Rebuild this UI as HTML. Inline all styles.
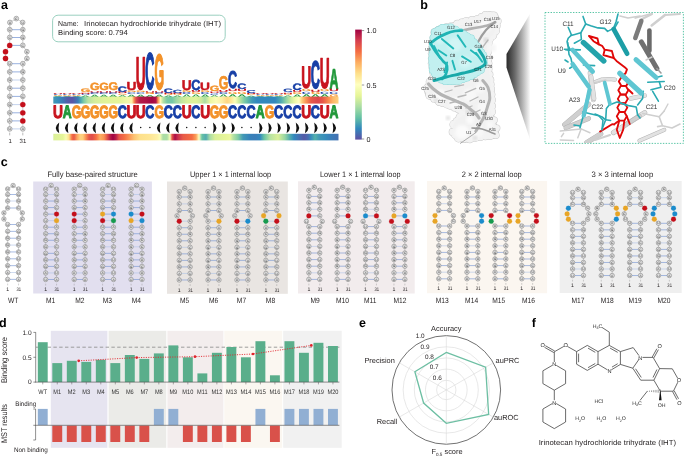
<!DOCTYPE html>
<html><head><meta charset="utf-8"><style>
html,body{margin:0;padding:0;background:#fff;width:685px;height:457px;overflow:hidden}
svg{display:block;will-change:transform}
text{font-family:"Liberation Sans", sans-serif;text-rendering:geometricPrecision}
</style></head><body>
<svg width="685" height="457" viewBox="0 0 685 457">
<text x="0.90" y="9.00" font-size="12.5" text-anchor="start" font-weight="bold" fill="#000" >a</text>
<text x="420.20" y="8.80" font-size="12.5" text-anchor="start" font-weight="bold" fill="#000" >b</text>
<text x="0.80" y="166.00" font-size="12.5" text-anchor="start" font-weight="bold" fill="#000" >c</text>
<text x="-0.90" y="326.50" font-size="12.5" text-anchor="start" font-weight="bold" fill="#000" >d</text>
<text x="359.00" y="326.80" font-size="12.5" text-anchor="start" font-weight="bold" fill="#000" >e</text>
<text x="531.80" y="326.60" font-size="12.5" text-anchor="start" font-weight="bold" fill="#000" >f</text>
<polyline points="9.70,128.90 9.70,120.90 9.70,112.80 9.70,104.60 9.70,96.40 9.70,88.20 9.70,80.00 9.70,71.90 9.70,63.70 5.50,58.50 5.50,51.70 9.70,45.40 9.70,37.50 9.70,29.70 9.90,22.50 16.30,18.60 22.60,22.50 22.80,29.70 22.80,37.50 22.80,45.40 26.90,51.70 26.90,58.50 22.80,63.70 22.80,71.90 22.80,80.00 22.80,88.20 22.80,96.40 22.80,104.60 22.80,112.80 22.80,120.90 22.80,128.90" fill="none" stroke="#9a9a9a" stroke-width="0.45"/>
<line x1="11.86" y1="128.90" x2="20.64" y2="128.90" stroke="#aec2e8" stroke-width="0.7" />
<line x1="11.86" y1="120.90" x2="20.64" y2="120.90" stroke="#6f90d2" stroke-width="0.7" />
<line x1="11.86" y1="112.80" x2="20.64" y2="112.80" stroke="#6f90d2" stroke-width="0.7" />
<line x1="11.86" y1="104.60" x2="20.64" y2="104.60" stroke="#aec2e8" stroke-width="0.7" />
<line x1="11.86" y1="96.40" x2="20.64" y2="96.40" stroke="#6f90d2" stroke-width="0.7" />
<line x1="11.86" y1="88.20" x2="20.64" y2="88.20" stroke="#6f90d2" stroke-width="0.7" />
<line x1="11.86" y1="80.00" x2="20.64" y2="80.00" stroke="#aec2e8" stroke-width="0.7" />
<line x1="11.86" y1="71.90" x2="20.64" y2="71.90" stroke="#6f90d2" stroke-width="0.7" />
<line x1="11.86" y1="63.70" x2="20.64" y2="63.70" stroke="#6f90d2" stroke-width="0.7" />
<line x1="11.86" y1="45.40" x2="20.64" y2="45.40" stroke="#6f90d2" stroke-width="0.7" />
<line x1="11.86" y1="37.50" x2="20.64" y2="37.50" stroke="#6f90d2" stroke-width="0.7" />
<line x1="11.86" y1="29.70" x2="20.64" y2="29.70" stroke="#6f90d2" stroke-width="0.7" />
<circle cx="9.70" cy="128.90" r="2.4" fill="#dedede" stroke="#767676" stroke-width="0.5"/>
<text x="9.70" y="130.09" font-size="3.3" text-anchor="middle" fill="#474747">U</text>
<circle cx="9.70" cy="120.90" r="2.4" fill="#dedede" stroke="#767676" stroke-width="0.5"/>
<text x="9.70" y="122.09" font-size="3.3" text-anchor="middle" fill="#474747">A</text>
<circle cx="9.70" cy="112.80" r="2.4" fill="#dedede" stroke="#767676" stroke-width="0.5"/>
<text x="9.70" y="113.99" font-size="3.3" text-anchor="middle" fill="#474747">G</text>
<circle cx="9.70" cy="104.60" r="2.4" fill="#dedede" stroke="#767676" stroke-width="0.5"/>
<text x="9.70" y="105.79" font-size="3.3" text-anchor="middle" fill="#474747">G</text>
<circle cx="9.70" cy="96.40" r="2.4" fill="#dedede" stroke="#767676" stroke-width="0.5"/>
<text x="9.70" y="97.59" font-size="3.3" text-anchor="middle" fill="#474747">G</text>
<circle cx="9.70" cy="88.20" r="2.4" fill="#dedede" stroke="#767676" stroke-width="0.5"/>
<text x="9.70" y="89.39" font-size="3.3" text-anchor="middle" fill="#474747">G</text>
<circle cx="9.70" cy="80.00" r="2.4" fill="#dedede" stroke="#767676" stroke-width="0.5"/>
<text x="9.70" y="81.19" font-size="3.3" text-anchor="middle" fill="#474747">G</text>
<circle cx="9.70" cy="71.90" r="2.4" fill="#dedede" stroke="#767676" stroke-width="0.5"/>
<text x="9.70" y="73.09" font-size="3.3" text-anchor="middle" fill="#474747">C</text>
<circle cx="9.70" cy="63.70" r="2.4" fill="#dedede" stroke="#767676" stroke-width="0.5"/>
<text x="9.70" y="64.89" font-size="3.3" text-anchor="middle" fill="#474747">U</text>
<circle cx="5.50" cy="58.50" r="2.65" fill="#c40f1b" stroke="#c40f1b" stroke-width="0.2"/>
<circle cx="5.50" cy="51.70" r="2.65" fill="#c40f1b" stroke="#c40f1b" stroke-width="0.2"/>
<circle cx="9.70" cy="45.40" r="2.65" fill="#c40f1b" stroke="#c40f1b" stroke-width="0.2"/>
<circle cx="9.70" cy="37.50" r="2.4" fill="#dedede" stroke="#767676" stroke-width="0.5"/>
<text x="9.70" y="38.69" font-size="3.3" text-anchor="middle" fill="#474747">C</text>
<circle cx="9.70" cy="29.70" r="2.4" fill="#dedede" stroke="#767676" stroke-width="0.5"/>
<text x="9.70" y="30.89" font-size="3.3" text-anchor="middle" fill="#474747">C</text>
<circle cx="9.90" cy="22.50" r="2.4" fill="#dedede" stroke="#767676" stroke-width="0.5"/>
<text x="9.90" y="23.69" font-size="3.3" text-anchor="middle" fill="#474747">U</text>
<circle cx="16.30" cy="18.60" r="2.4" fill="#dedede" stroke="#767676" stroke-width="0.5"/>
<text x="16.30" y="19.79" font-size="3.3" text-anchor="middle" fill="#474747">C</text>
<circle cx="22.60" cy="22.50" r="2.4" fill="#dedede" stroke="#767676" stroke-width="0.5"/>
<text x="22.60" y="23.69" font-size="3.3" text-anchor="middle" fill="#474747">U</text>
<circle cx="22.80" cy="29.70" r="2.4" fill="#dedede" stroke="#767676" stroke-width="0.5"/>
<text x="22.80" y="30.89" font-size="3.3" text-anchor="middle" fill="#474747">G</text>
<circle cx="22.80" cy="37.50" r="2.4" fill="#dedede" stroke="#767676" stroke-width="0.5"/>
<text x="22.80" y="38.69" font-size="3.3" text-anchor="middle" fill="#474747">G</text>
<circle cx="22.80" cy="45.40" r="2.4" fill="#dedede" stroke="#767676" stroke-width="0.5"/>
<text x="22.80" y="46.59" font-size="3.3" text-anchor="middle" fill="#474747">C</text>
<circle cx="26.90" cy="51.70" r="2.4" fill="#dedede" stroke="#767676" stroke-width="0.5"/>
<text x="26.90" y="52.89" font-size="3.3" text-anchor="middle" fill="#474747">C</text>
<circle cx="26.90" cy="58.50" r="2.4" fill="#dedede" stroke="#767676" stroke-width="0.5"/>
<text x="26.90" y="59.69" font-size="3.3" text-anchor="middle" fill="#474747">C</text>
<circle cx="22.80" cy="63.70" r="2.4" fill="#dedede" stroke="#767676" stroke-width="0.5"/>
<text x="22.80" y="64.89" font-size="3.3" text-anchor="middle" fill="#474747">A</text>
<circle cx="22.80" cy="71.90" r="2.4" fill="#dedede" stroke="#767676" stroke-width="0.5"/>
<text x="22.80" y="73.09" font-size="3.3" text-anchor="middle" fill="#474747">G</text>
<circle cx="22.80" cy="80.00" r="2.4" fill="#dedede" stroke="#767676" stroke-width="0.5"/>
<text x="22.80" y="81.19" font-size="3.3" text-anchor="middle" fill="#474747">C</text>
<circle cx="22.80" cy="88.20" r="2.4" fill="#dedede" stroke="#767676" stroke-width="0.5"/>
<text x="22.80" y="89.39" font-size="3.3" text-anchor="middle" fill="#474747">C</text>
<circle cx="22.80" cy="96.40" r="2.4" fill="#dedede" stroke="#767676" stroke-width="0.5"/>
<text x="22.80" y="97.59" font-size="3.3" text-anchor="middle" fill="#474747">C</text>
<circle cx="22.80" cy="104.60" r="2.65" fill="#c40f1b" stroke="#c40f1b" stroke-width="0.2"/>
<circle cx="22.80" cy="112.80" r="2.65" fill="#c40f1b" stroke="#c40f1b" stroke-width="0.2"/>
<circle cx="22.80" cy="120.90" r="2.65" fill="#c40f1b" stroke="#c40f1b" stroke-width="0.2"/>
<circle cx="22.80" cy="128.90" r="2.4" fill="#dedede" stroke="#767676" stroke-width="0.5"/>
<text x="22.80" y="130.09" font-size="3.3" text-anchor="middle" fill="#474747">A</text>
<line x1="9.70" y1="132.60" x2="9.70" y2="135.40" stroke="#777" stroke-width="0.5" />
<line x1="22.80" y1="132.60" x2="22.80" y2="135.40" stroke="#777" stroke-width="0.5" />
<text x="10.10" y="143.20" font-size="6" text-anchor="middle" font-weight="normal" fill="#231f20" >1</text>
<text x="22.90" y="143.20" font-size="6" text-anchor="middle" font-weight="normal" fill="#231f20" >31</text>
<rect x="52.6" y="15.2" width="172.6" height="26.6" rx="5.5" ry="5.5" fill="#fff" stroke="#8fcbb8" stroke-width="0.9"/>
<text x="58.10" y="25.90" font-size="7.3" text-anchor="start" font-weight="normal" fill="#231f20" textLength="20.4" lengthAdjust="spacingAndGlyphs">Name:</text>
<text x="84.00" y="25.90" font-size="7.3" text-anchor="start" font-weight="normal" fill="#231f20" textLength="137.0" lengthAdjust="spacingAndGlyphs">Irinotecan hydrochloride trihydrate (IHT)</text>
<text x="58.10" y="35.20" font-size="7.3" text-anchor="start" font-weight="normal" fill="#231f20" textLength="69.6" lengthAdjust="spacingAndGlyphs">Binding score: 0.794</text>
<text transform="translate(80.85,92.45) scale(0.1230,0.0508)" font-size="100" font-weight="bold" fill="#f3922a" stroke="#f3922a" stroke-width="4.07" stroke-linejoin="round">G</text>
<text transform="translate(90.05,90.48) scale(0.1230,0.1042)" font-size="100" font-weight="bold" fill="#f3922a" stroke="#f3922a" stroke-width="4.07" stroke-linejoin="round">G</text>
<text transform="translate(99.25,90.48) scale(0.1230,0.1042)" font-size="100" font-weight="bold" fill="#f3922a" stroke="#f3922a" stroke-width="4.07" stroke-linejoin="round">G</text>
<text transform="translate(108.45,90.46) scale(0.1230,0.1109)" font-size="100" font-weight="bold" fill="#f3922a" stroke="#f3922a" stroke-width="4.07" stroke-linejoin="round">G</text>
<text transform="translate(117.63,91.67) scale(0.1269,0.0790)" font-size="100" font-weight="bold" fill="#173fa6" stroke="#173fa6" stroke-width="3.94" stroke-linejoin="round">C</text>
<text transform="translate(126.52,90.27) scale(0.1381,0.1172)" font-size="100" font-weight="bold" fill="#c8141e" stroke="#c8141e" stroke-width="3.62" stroke-linejoin="round">U</text>
<text transform="translate(135.72,89.32) scale(0.1381,0.4578)" font-size="100" font-weight="bold" fill="#c8141e" stroke="#c8141e" stroke-width="3.62" stroke-linejoin="round">U</text>
<text transform="translate(145.23,89.47) scale(0.1269,0.5152)" font-size="100" font-weight="bold" fill="#173fa6" stroke="#173fa6" stroke-width="3.94" stroke-linejoin="round">C</text>
<text transform="translate(154.45,89.30) scale(0.1230,0.4943)" font-size="100" font-weight="bold" fill="#f3922a" stroke="#f3922a" stroke-width="4.07" stroke-linejoin="round">G</text>
<text transform="translate(163.63,92.51) scale(0.1269,0.0656)" font-size="100" font-weight="bold" fill="#173fa6" stroke="#173fa6" stroke-width="3.94" stroke-linejoin="round">C</text>
<text transform="translate(172.83,92.57) scale(0.1269,0.0455)" font-size="100" font-weight="bold" fill="#173fa6" stroke="#173fa6" stroke-width="3.94" stroke-linejoin="round">C</text>
<text transform="translate(181.72,89.60) scale(0.1381,0.1417)" font-size="100" font-weight="bold" fill="#c8141e" stroke="#c8141e" stroke-width="3.62" stroke-linejoin="round">U</text>
<text transform="translate(191.23,89.57) scale(0.1269,0.1445)" font-size="100" font-weight="bold" fill="#173fa6" stroke="#173fa6" stroke-width="3.94" stroke-linejoin="round">C</text>
<text transform="translate(200.12,89.91) scale(0.1381,0.1049)" font-size="100" font-weight="bold" fill="#c8141e" stroke="#c8141e" stroke-width="3.62" stroke-linejoin="round">U</text>
<text transform="translate(209.65,91.37) scale(0.1230,0.0748)" font-size="100" font-weight="bold" fill="#f3922a" stroke="#f3922a" stroke-width="4.07" stroke-linejoin="round">G</text>
<text transform="translate(218.85,89.24) scale(0.1230,0.1844)" font-size="100" font-weight="bold" fill="#f3922a" stroke="#f3922a" stroke-width="4.07" stroke-linejoin="round">G</text>
<text transform="translate(228.03,88.48) scale(0.1269,0.2436)" font-size="100" font-weight="bold" fill="#173fa6" stroke="#173fa6" stroke-width="3.94" stroke-linejoin="round">C</text>
<text transform="translate(237.23,88.97) scale(0.1269,0.0790)" font-size="100" font-weight="bold" fill="#173fa6" stroke="#173fa6" stroke-width="3.94" stroke-linejoin="round">C</text>
<text transform="translate(246.43,92.88) scale(0.1269,0.0415)" font-size="100" font-weight="bold" fill="#173fa6" stroke="#173fa6" stroke-width="3.94" stroke-linejoin="round">C</text>
<text transform="translate(283.23,92.36) scale(0.1269,0.0482)" font-size="100" font-weight="bold" fill="#173fa6" stroke="#173fa6" stroke-width="3.94" stroke-linejoin="round">C</text>
<text transform="translate(292.43,89.93) scale(0.1269,0.0923)" font-size="100" font-weight="bold" fill="#173fa6" stroke="#173fa6" stroke-width="3.94" stroke-linejoin="round">C</text>
<text transform="translate(301.32,88.33) scale(0.1381,0.3120)" font-size="100" font-weight="bold" fill="#c8141e" stroke="#c8141e" stroke-width="3.62" stroke-linejoin="round">U</text>
<text transform="translate(310.83,88.26) scale(0.1269,0.3854)" font-size="100" font-weight="bold" fill="#173fa6" stroke="#173fa6" stroke-width="3.94" stroke-linejoin="round">C</text>
<text transform="translate(319.72,88.00) scale(0.1381,0.4278)" font-size="100" font-weight="bold" fill="#c8141e" stroke="#c8141e" stroke-width="3.62" stroke-linejoin="round">U</text>
<text transform="translate(329.44,88.62) scale(0.1237,0.2856)" font-size="100" font-weight="bold" fill="#21983a" stroke="#21983a" stroke-width="4.04" stroke-linejoin="round">A</text>
<text transform="translate(52.98,93.84) scale(0.1364,0.0123)" font-size="100" font-weight="bold" fill="#c8141e">U</text>
<text transform="translate(53.29,94.70) scale(0.1254,0.0121)" font-size="100" font-weight="bold" fill="#173fa6">C</text>
<text transform="translate(53.30,95.56) scale(0.1215,0.0121)" font-size="100" font-weight="bold" fill="#f3922a">G</text>
<text transform="translate(53.49,96.60) scale(0.1222,0.0150)" font-size="100" font-weight="bold" fill="#21983a">A</text>
<text transform="translate(62.18,93.84) scale(0.1364,0.0123)" font-size="100" font-weight="bold" fill="#c8141e">U</text>
<text transform="translate(62.49,94.70) scale(0.1254,0.0121)" font-size="100" font-weight="bold" fill="#173fa6">C</text>
<text transform="translate(62.50,95.56) scale(0.1215,0.0121)" font-size="100" font-weight="bold" fill="#f3922a">G</text>
<text transform="translate(62.69,96.60) scale(0.1222,0.0150)" font-size="100" font-weight="bold" fill="#21983a">A</text>
<text transform="translate(71.38,93.84) scale(0.1364,0.0123)" font-size="100" font-weight="bold" fill="#c8141e">U</text>
<text transform="translate(71.69,94.70) scale(0.1254,0.0121)" font-size="100" font-weight="bold" fill="#173fa6">C</text>
<text transform="translate(71.70,95.56) scale(0.1215,0.0121)" font-size="100" font-weight="bold" fill="#f3922a">G</text>
<text transform="translate(71.89,96.60) scale(0.1222,0.0150)" font-size="100" font-weight="bold" fill="#21983a">A</text>
<text transform="translate(80.58,93.83) scale(0.1364,0.0179)" font-size="100" font-weight="bold" fill="#c8141e">U</text>
<text transform="translate(80.89,95.08) scale(0.1254,0.0177)" font-size="100" font-weight="bold" fill="#173fa6">C</text>
<text transform="translate(81.09,96.60) scale(0.1222,0.0218)" font-size="100" font-weight="bold" fill="#21983a">A</text>
<text transform="translate(89.78,92.59) scale(0.1364,0.0260)" font-size="100" font-weight="bold" fill="#c8141e">U</text>
<text transform="translate(90.09,94.40) scale(0.1254,0.0256)" font-size="100" font-weight="bold" fill="#173fa6">C</text>
<text transform="translate(90.29,96.60) scale(0.1222,0.0316)" font-size="100" font-weight="bold" fill="#21983a">A</text>
<text transform="translate(98.98,92.59) scale(0.1364,0.0260)" font-size="100" font-weight="bold" fill="#c8141e">U</text>
<text transform="translate(99.29,94.40) scale(0.1254,0.0256)" font-size="100" font-weight="bold" fill="#173fa6">C</text>
<text transform="translate(99.49,96.60) scale(0.1222,0.0316)" font-size="100" font-weight="bold" fill="#21983a">A</text>
<text transform="translate(108.18,92.59) scale(0.1364,0.0260)" font-size="100" font-weight="bold" fill="#c8141e">U</text>
<text transform="translate(108.49,94.40) scale(0.1254,0.0256)" font-size="100" font-weight="bold" fill="#173fa6">C</text>
<text transform="translate(108.69,96.60) scale(0.1222,0.0316)" font-size="100" font-weight="bold" fill="#21983a">A</text>
<text transform="translate(117.38,93.35) scale(0.1364,0.0210)" font-size="100" font-weight="bold" fill="#c8141e">U</text>
<text transform="translate(117.70,94.82) scale(0.1215,0.0207)" font-size="100" font-weight="bold" fill="#f3922a">G</text>
<text transform="translate(117.89,96.60) scale(0.1222,0.0256)" font-size="100" font-weight="bold" fill="#21983a">A</text>
<text transform="translate(126.90,92.45) scale(0.1215,0.0265)" font-size="100" font-weight="bold" fill="#f3922a">G</text>
<text transform="translate(126.89,94.32) scale(0.1254,0.0265)" font-size="100" font-weight="bold" fill="#173fa6">C</text>
<text transform="translate(127.09,96.60) scale(0.1222,0.0327)" font-size="100" font-weight="bold" fill="#21983a">A</text>
<text transform="translate(136.10,92.45) scale(0.1215,0.0265)" font-size="100" font-weight="bold" fill="#f3922a">G</text>
<text transform="translate(136.09,94.32) scale(0.1254,0.0265)" font-size="100" font-weight="bold" fill="#173fa6">C</text>
<text transform="translate(136.29,96.60) scale(0.1222,0.0327)" font-size="100" font-weight="bold" fill="#21983a">A</text>
<text transform="translate(144.98,92.72) scale(0.1364,0.0251)" font-size="100" font-weight="bold" fill="#c8141e">U</text>
<text transform="translate(145.30,94.48) scale(0.1215,0.0247)" font-size="100" font-weight="bold" fill="#f3922a">G</text>
<text transform="translate(145.49,96.60) scale(0.1222,0.0305)" font-size="100" font-weight="bold" fill="#21983a">A</text>
<text transform="translate(154.18,92.59) scale(0.1364,0.0260)" font-size="100" font-weight="bold" fill="#c8141e">U</text>
<text transform="translate(154.49,94.40) scale(0.1254,0.0256)" font-size="100" font-weight="bold" fill="#173fa6">C</text>
<text transform="translate(154.69,96.60) scale(0.1222,0.0316)" font-size="100" font-weight="bold" fill="#21983a">A</text>
<text transform="translate(163.38,93.90) scale(0.1364,0.0175)" font-size="100" font-weight="bold" fill="#c8141e">U</text>
<text transform="translate(163.70,95.12) scale(0.1215,0.0172)" font-size="100" font-weight="bold" fill="#f3922a">G</text>
<text transform="translate(163.89,96.60) scale(0.1222,0.0213)" font-size="100" font-weight="bold" fill="#21983a">A</text>
<text transform="translate(172.58,93.90) scale(0.1364,0.0175)" font-size="100" font-weight="bold" fill="#c8141e">U</text>
<text transform="translate(172.90,95.12) scale(0.1215,0.0172)" font-size="100" font-weight="bold" fill="#f3922a">G</text>
<text transform="translate(173.09,96.60) scale(0.1222,0.0213)" font-size="100" font-weight="bold" fill="#21983a">A</text>
<text transform="translate(182.10,92.03) scale(0.1215,0.0291)" font-size="100" font-weight="bold" fill="#f3922a">G</text>
<text transform="translate(182.09,94.10) scale(0.1254,0.0291)" font-size="100" font-weight="bold" fill="#173fa6">C</text>
<text transform="translate(182.29,96.60) scale(0.1222,0.0360)" font-size="100" font-weight="bold" fill="#21983a">A</text>
<text transform="translate(190.98,92.03) scale(0.1364,0.0295)" font-size="100" font-weight="bold" fill="#c8141e">U</text>
<text transform="translate(191.30,94.10) scale(0.1215,0.0291)" font-size="100" font-weight="bold" fill="#f3922a">G</text>
<text transform="translate(191.49,96.60) scale(0.1222,0.0360)" font-size="100" font-weight="bold" fill="#21983a">A</text>
<text transform="translate(200.50,92.17) scale(0.1215,0.0282)" font-size="100" font-weight="bold" fill="#f3922a">G</text>
<text transform="translate(200.49,94.17) scale(0.1254,0.0282)" font-size="100" font-weight="bold" fill="#173fa6">C</text>
<text transform="translate(200.69,96.60) scale(0.1222,0.0349)" font-size="100" font-weight="bold" fill="#21983a">A</text>
<text transform="translate(209.38,93.14) scale(0.1364,0.0224)" font-size="100" font-weight="bold" fill="#c8141e">U</text>
<text transform="translate(209.69,94.70) scale(0.1254,0.0221)" font-size="100" font-weight="bold" fill="#173fa6">C</text>
<text transform="translate(209.89,96.60) scale(0.1222,0.0273)" font-size="100" font-weight="bold" fill="#21983a">A</text>
<text transform="translate(218.58,91.89) scale(0.1364,0.0304)" font-size="100" font-weight="bold" fill="#c8141e">U</text>
<text transform="translate(218.89,94.02) scale(0.1254,0.0300)" font-size="100" font-weight="bold" fill="#173fa6">C</text>
<text transform="translate(219.09,96.60) scale(0.1222,0.0371)" font-size="100" font-weight="bold" fill="#21983a">A</text>
<text transform="translate(227.78,91.48) scale(0.1364,0.0331)" font-size="100" font-weight="bold" fill="#c8141e">U</text>
<text transform="translate(228.10,93.79) scale(0.1215,0.0327)" font-size="100" font-weight="bold" fill="#f3922a">G</text>
<text transform="translate(228.29,96.60) scale(0.1222,0.0403)" font-size="100" font-weight="bold" fill="#21983a">A</text>
<text transform="translate(236.98,91.48) scale(0.1364,0.0331)" font-size="100" font-weight="bold" fill="#c8141e">U</text>
<text transform="translate(237.30,93.79) scale(0.1215,0.0327)" font-size="100" font-weight="bold" fill="#f3922a">G</text>
<text transform="translate(237.49,96.60) scale(0.1222,0.0403)" font-size="100" font-weight="bold" fill="#21983a">A</text>
<text transform="translate(246.18,94.11) scale(0.1364,0.0161)" font-size="100" font-weight="bold" fill="#c8141e">U</text>
<text transform="translate(246.50,95.23) scale(0.1215,0.0159)" font-size="100" font-weight="bold" fill="#f3922a">G</text>
<text transform="translate(246.69,96.60) scale(0.1222,0.0196)" font-size="100" font-weight="bold" fill="#21983a">A</text>
<text transform="translate(255.38,93.84) scale(0.1364,0.0123)" font-size="100" font-weight="bold" fill="#c8141e">U</text>
<text transform="translate(255.69,94.70) scale(0.1254,0.0121)" font-size="100" font-weight="bold" fill="#173fa6">C</text>
<text transform="translate(255.70,95.56) scale(0.1215,0.0121)" font-size="100" font-weight="bold" fill="#f3922a">G</text>
<text transform="translate(255.89,96.60) scale(0.1222,0.0150)" font-size="100" font-weight="bold" fill="#21983a">A</text>
<text transform="translate(264.58,93.84) scale(0.1364,0.0123)" font-size="100" font-weight="bold" fill="#c8141e">U</text>
<text transform="translate(264.89,94.70) scale(0.1254,0.0121)" font-size="100" font-weight="bold" fill="#173fa6">C</text>
<text transform="translate(264.90,95.56) scale(0.1215,0.0121)" font-size="100" font-weight="bold" fill="#f3922a">G</text>
<text transform="translate(265.09,96.60) scale(0.1222,0.0150)" font-size="100" font-weight="bold" fill="#21983a">A</text>
<text transform="translate(273.78,93.84) scale(0.1364,0.0123)" font-size="100" font-weight="bold" fill="#c8141e">U</text>
<text transform="translate(274.09,94.70) scale(0.1254,0.0121)" font-size="100" font-weight="bold" fill="#173fa6">C</text>
<text transform="translate(274.10,95.56) scale(0.1215,0.0121)" font-size="100" font-weight="bold" fill="#f3922a">G</text>
<text transform="translate(274.29,96.60) scale(0.1222,0.0150)" font-size="100" font-weight="bold" fill="#21983a">A</text>
<text transform="translate(282.98,93.76) scale(0.1364,0.0184)" font-size="100" font-weight="bold" fill="#c8141e">U</text>
<text transform="translate(283.30,95.04) scale(0.1215,0.0181)" font-size="100" font-weight="bold" fill="#f3922a">G</text>
<text transform="translate(283.49,96.60) scale(0.1222,0.0223)" font-size="100" font-weight="bold" fill="#21983a">A</text>
<text transform="translate(292.18,92.17) scale(0.1364,0.0287)" font-size="100" font-weight="bold" fill="#c8141e">U</text>
<text transform="translate(292.50,94.17) scale(0.1215,0.0282)" font-size="100" font-weight="bold" fill="#f3922a">G</text>
<text transform="translate(292.69,96.60) scale(0.1222,0.0349)" font-size="100" font-weight="bold" fill="#21983a">A</text>
<text transform="translate(301.70,91.48) scale(0.1215,0.0327)" font-size="100" font-weight="bold" fill="#f3922a">G</text>
<text transform="translate(301.69,93.79) scale(0.1254,0.0327)" font-size="100" font-weight="bold" fill="#173fa6">C</text>
<text transform="translate(301.89,96.60) scale(0.1222,0.0403)" font-size="100" font-weight="bold" fill="#21983a">A</text>
<text transform="translate(310.58,91.62) scale(0.1364,0.0322)" font-size="100" font-weight="bold" fill="#c8141e">U</text>
<text transform="translate(310.90,93.87) scale(0.1215,0.0318)" font-size="100" font-weight="bold" fill="#f3922a">G</text>
<text transform="translate(311.09,96.60) scale(0.1222,0.0392)" font-size="100" font-weight="bold" fill="#21983a">A</text>
<text transform="translate(320.10,91.48) scale(0.1215,0.0327)" font-size="100" font-weight="bold" fill="#f3922a">G</text>
<text transform="translate(320.09,93.79) scale(0.1254,0.0327)" font-size="100" font-weight="bold" fill="#173fa6">C</text>
<text transform="translate(320.29,96.60) scale(0.1222,0.0403)" font-size="100" font-weight="bold" fill="#21983a">A</text>
<text transform="translate(328.98,91.48) scale(0.1364,0.0331)" font-size="100" font-weight="bold" fill="#c8141e">U</text>
<text transform="translate(329.29,93.79) scale(0.1254,0.0327)" font-size="100" font-weight="bold" fill="#173fa6">C</text>
<text transform="translate(329.30,96.56) scale(0.1215,0.0392)" font-size="100" font-weight="bold" fill="#f3922a">G</text>
<linearGradient id="gatt" x1="0" x2="1" y1="0" y2="0"><stop offset="-0.0011" stop-color="#4299b6"/><stop offset="0.0165" stop-color="#378ebb"/><stop offset="0.0340" stop-color="#3f77b5"/><stop offset="0.0480" stop-color="#5160aa"/><stop offset="0.0656" stop-color="#5a55a5"/><stop offset="0.0761" stop-color="#4c66ad"/><stop offset="0.0866" stop-color="#3b7db8"/><stop offset="0.0971" stop-color="#51abaf"/><stop offset="0.1076" stop-color="#82cda5"/><stop offset="0.1217" stop-color="#b7e2a2"/><stop offset="0.1462" stop-color="#d4ee9c"/><stop offset="0.1813" stop-color="#e0f399"/><stop offset="0.2339" stop-color="#e6f598"/><stop offset="0.2619" stop-color="#f2faac"/><stop offset="0.2759" stop-color="#feefa5"/><stop offset="0.2830" stop-color="#f88e52"/><stop offset="0.2900" stop-color="#db474d"/><stop offset="0.3040" stop-color="#b41947"/><stop offset="0.3250" stop-color="#af1346"/><stop offset="0.3461" stop-color="#a40743"/><stop offset="0.3601" stop-color="#af1346"/><stop offset="0.3671" stop-color="#f88e52"/><stop offset="0.3759" stop-color="#fff9b5"/><stop offset="0.3846" stop-color="#b7e2a2"/><stop offset="0.3987" stop-color="#7bcaa5"/><stop offset="0.4162" stop-color="#74c7a5"/><stop offset="0.4302" stop-color="#9dd8a4"/><stop offset="0.4513" stop-color="#c3e79f"/><stop offset="0.4723" stop-color="#daf09a"/><stop offset="0.5004" stop-color="#e0f399"/><stop offset="0.5179" stop-color="#ceeb9d"/><stop offset="0.5319" stop-color="#abdda4"/><stop offset="0.5494" stop-color="#ebf7a0"/><stop offset="0.5705" stop-color="#fafdb7"/><stop offset="0.5915" stop-color="#feefa5"/><stop offset="0.6090" stop-color="#fed683"/><stop offset="0.6231" stop-color="#fee695"/><stop offset="0.6371" stop-color="#fafdb7"/><stop offset="0.6511" stop-color="#c8e99e"/><stop offset="0.6687" stop-color="#82cda5"/><stop offset="0.6827" stop-color="#5cb6aa"/><stop offset="0.6967" stop-color="#4299b6"/><stop offset="0.7142" stop-color="#3288bd"/><stop offset="0.7773" stop-color="#3288bd"/><stop offset="0.7984" stop-color="#51abaf"/><stop offset="0.8159" stop-color="#8fd2a4"/><stop offset="0.8335" stop-color="#ceeb9d"/><stop offset="0.8475" stop-color="#f0f9a8"/><stop offset="0.8615" stop-color="#ffffbf"/><stop offset="0.8720" stop-color="#fecc7a"/><stop offset="0.8860" stop-color="#f99455"/><stop offset="0.9036" stop-color="#e85a48"/><stop offset="0.9281" stop-color="#db474d"/><stop offset="0.9457" stop-color="#e85a48"/><stop offset="0.9632" stop-color="#f8874f"/><stop offset="0.9807" stop-color="#fdb869"/><stop offset="1.0000" stop-color="#fed17e"/></linearGradient>
<rect x="53.3" y="96.6" width="285.2" height="7.0" fill="url(#gatt)"/>
<text transform="translate(52.95,118.23) scale(0.1373,0.1809)" font-size="100" font-weight="bold" fill="#c8141e" stroke="#c8141e" stroke-width="5.46" stroke-linejoin="round">U</text>
<text transform="translate(62.67,118.35) scale(0.1230,0.1816)" font-size="100" font-weight="bold" fill="#21983a" stroke="#21983a" stroke-width="6.10" stroke-linejoin="round">A</text>
<text transform="translate(71.67,118.18) scale(0.1222,0.1768)" font-size="100" font-weight="bold" fill="#f3922a" stroke="#f3922a" stroke-width="6.14" stroke-linejoin="round">G</text>
<text transform="translate(80.87,118.18) scale(0.1222,0.1768)" font-size="100" font-weight="bold" fill="#f3922a" stroke="#f3922a" stroke-width="6.14" stroke-linejoin="round">G</text>
<text transform="translate(90.07,118.18) scale(0.1222,0.1768)" font-size="100" font-weight="bold" fill="#f3922a" stroke="#f3922a" stroke-width="6.14" stroke-linejoin="round">G</text>
<text transform="translate(99.27,118.18) scale(0.1222,0.1768)" font-size="100" font-weight="bold" fill="#f3922a" stroke="#f3922a" stroke-width="6.14" stroke-linejoin="round">G</text>
<text transform="translate(108.47,118.18) scale(0.1222,0.1768)" font-size="100" font-weight="bold" fill="#f3922a" stroke="#f3922a" stroke-width="6.14" stroke-linejoin="round">G</text>
<text transform="translate(117.66,118.20) scale(0.1261,0.1773)" font-size="100" font-weight="bold" fill="#173fa6" stroke="#173fa6" stroke-width="5.95" stroke-linejoin="round">C</text>
<text transform="translate(126.55,118.23) scale(0.1373,0.1809)" font-size="100" font-weight="bold" fill="#c8141e" stroke="#c8141e" stroke-width="5.46" stroke-linejoin="round">U</text>
<text transform="translate(135.75,118.23) scale(0.1373,0.1809)" font-size="100" font-weight="bold" fill="#c8141e" stroke="#c8141e" stroke-width="5.46" stroke-linejoin="round">U</text>
<text transform="translate(145.26,118.20) scale(0.1261,0.1773)" font-size="100" font-weight="bold" fill="#173fa6" stroke="#173fa6" stroke-width="5.95" stroke-linejoin="round">C</text>
<text transform="translate(154.47,118.18) scale(0.1222,0.1768)" font-size="100" font-weight="bold" fill="#f3922a" stroke="#f3922a" stroke-width="6.14" stroke-linejoin="round">G</text>
<text transform="translate(163.66,118.20) scale(0.1261,0.1773)" font-size="100" font-weight="bold" fill="#173fa6" stroke="#173fa6" stroke-width="5.95" stroke-linejoin="round">C</text>
<text transform="translate(172.86,118.20) scale(0.1261,0.1773)" font-size="100" font-weight="bold" fill="#173fa6" stroke="#173fa6" stroke-width="5.95" stroke-linejoin="round">C</text>
<text transform="translate(181.75,118.23) scale(0.1373,0.1809)" font-size="100" font-weight="bold" fill="#c8141e" stroke="#c8141e" stroke-width="5.46" stroke-linejoin="round">U</text>
<text transform="translate(191.26,118.20) scale(0.1261,0.1773)" font-size="100" font-weight="bold" fill="#173fa6" stroke="#173fa6" stroke-width="5.95" stroke-linejoin="round">C</text>
<text transform="translate(200.15,118.23) scale(0.1373,0.1809)" font-size="100" font-weight="bold" fill="#c8141e" stroke="#c8141e" stroke-width="5.46" stroke-linejoin="round">U</text>
<text transform="translate(209.67,118.18) scale(0.1222,0.1768)" font-size="100" font-weight="bold" fill="#f3922a" stroke="#f3922a" stroke-width="6.14" stroke-linejoin="round">G</text>
<text transform="translate(218.87,118.18) scale(0.1222,0.1768)" font-size="100" font-weight="bold" fill="#f3922a" stroke="#f3922a" stroke-width="6.14" stroke-linejoin="round">G</text>
<text transform="translate(228.06,118.20) scale(0.1261,0.1773)" font-size="100" font-weight="bold" fill="#173fa6" stroke="#173fa6" stroke-width="5.95" stroke-linejoin="round">C</text>
<text transform="translate(237.26,118.20) scale(0.1261,0.1773)" font-size="100" font-weight="bold" fill="#173fa6" stroke="#173fa6" stroke-width="5.95" stroke-linejoin="round">C</text>
<text transform="translate(246.46,118.20) scale(0.1261,0.1773)" font-size="100" font-weight="bold" fill="#173fa6" stroke="#173fa6" stroke-width="5.95" stroke-linejoin="round">C</text>
<text transform="translate(255.87,118.35) scale(0.1230,0.1816)" font-size="100" font-weight="bold" fill="#21983a" stroke="#21983a" stroke-width="6.10" stroke-linejoin="round">A</text>
<text transform="translate(264.87,118.18) scale(0.1222,0.1768)" font-size="100" font-weight="bold" fill="#f3922a" stroke="#f3922a" stroke-width="6.14" stroke-linejoin="round">G</text>
<text transform="translate(274.06,118.20) scale(0.1261,0.1773)" font-size="100" font-weight="bold" fill="#173fa6" stroke="#173fa6" stroke-width="5.95" stroke-linejoin="round">C</text>
<text transform="translate(283.26,118.20) scale(0.1261,0.1773)" font-size="100" font-weight="bold" fill="#173fa6" stroke="#173fa6" stroke-width="5.95" stroke-linejoin="round">C</text>
<text transform="translate(292.46,118.20) scale(0.1261,0.1773)" font-size="100" font-weight="bold" fill="#173fa6" stroke="#173fa6" stroke-width="5.95" stroke-linejoin="round">C</text>
<text transform="translate(301.35,118.23) scale(0.1373,0.1809)" font-size="100" font-weight="bold" fill="#c8141e" stroke="#c8141e" stroke-width="5.46" stroke-linejoin="round">U</text>
<text transform="translate(310.86,118.20) scale(0.1261,0.1773)" font-size="100" font-weight="bold" fill="#173fa6" stroke="#173fa6" stroke-width="5.95" stroke-linejoin="round">C</text>
<text transform="translate(319.75,118.23) scale(0.1373,0.1809)" font-size="100" font-weight="bold" fill="#c8141e" stroke="#c8141e" stroke-width="5.46" stroke-linejoin="round">U</text>
<text transform="translate(329.47,118.35) scale(0.1230,0.1816)" font-size="100" font-weight="bold" fill="#21983a" stroke="#21983a" stroke-width="6.10" stroke-linejoin="round">A</text>
<path d="M59.20,122.4 Q52.30,127.8 59.20,133.2 Q57.90,127.8 59.20,122.4 Z" fill="#111"/>
<path d="M68.40,122.4 Q61.50,127.8 68.40,133.2 Q67.10,127.8 68.40,122.4 Z" fill="#111"/>
<path d="M77.60,122.4 Q70.70,127.8 77.60,133.2 Q76.30,127.8 77.60,122.4 Z" fill="#111"/>
<path d="M86.80,122.4 Q79.90,127.8 86.80,133.2 Q85.50,127.8 86.80,122.4 Z" fill="#111"/>
<path d="M96.00,122.4 Q89.10,127.8 96.00,133.2 Q94.70,127.8 96.00,122.4 Z" fill="#111"/>
<path d="M105.20,122.4 Q98.30,127.8 105.20,133.2 Q103.90,127.8 105.20,122.4 Z" fill="#111"/>
<path d="M114.40,122.4 Q107.50,127.8 114.40,133.2 Q113.10,127.8 114.40,122.4 Z" fill="#111"/>
<path d="M123.60,122.4 Q116.70,127.8 123.60,133.2 Q122.30,127.8 123.60,122.4 Z" fill="#111"/>
<path d="M132.80,122.4 Q125.90,127.8 132.80,133.2 Q131.50,127.8 132.80,122.4 Z" fill="#111"/>
<circle cx="140.70" cy="127.4" r="0.75" fill="#111"/>
<circle cx="149.90" cy="127.4" r="0.75" fill="#111"/>
<path d="M160.40,122.4 Q153.50,127.8 160.40,133.2 Q159.10,127.8 160.40,122.4 Z" fill="#111"/>
<path d="M169.60,122.4 Q162.70,127.8 169.60,133.2 Q168.30,127.8 169.60,122.4 Z" fill="#111"/>
<path d="M178.80,122.4 Q171.90,127.8 178.80,133.2 Q177.50,127.8 178.80,122.4 Z" fill="#111"/>
<circle cx="186.70" cy="127.4" r="0.75" fill="#111"/>
<circle cx="195.90" cy="127.4" r="0.75" fill="#111"/>
<circle cx="205.10" cy="127.4" r="0.75" fill="#111"/>
<path d="M213.00,122.4 Q219.90,127.8 213.00,133.2 Q214.30,127.8 213.00,122.4 Z" fill="#111"/>
<path d="M222.20,122.4 Q229.10,127.8 222.20,133.2 Q223.50,127.8 222.20,122.4 Z" fill="#111"/>
<path d="M231.40,122.4 Q238.30,127.8 231.40,133.2 Q232.70,127.8 231.40,122.4 Z" fill="#111"/>
<circle cx="241.90" cy="127.4" r="0.75" fill="#111"/>
<circle cx="251.10" cy="127.4" r="0.75" fill="#111"/>
<path d="M259.00,122.4 Q265.90,127.8 259.00,133.2 Q260.30,127.8 259.00,122.4 Z" fill="#111"/>
<path d="M268.20,122.4 Q275.10,127.8 268.20,133.2 Q269.50,127.8 268.20,122.4 Z" fill="#111"/>
<path d="M277.40,122.4 Q284.30,127.8 277.40,133.2 Q278.70,127.8 277.40,122.4 Z" fill="#111"/>
<path d="M286.60,122.4 Q293.50,127.8 286.60,133.2 Q287.90,127.8 286.60,122.4 Z" fill="#111"/>
<path d="M295.80,122.4 Q302.70,127.8 295.80,133.2 Q297.10,127.8 295.80,122.4 Z" fill="#111"/>
<path d="M305.00,122.4 Q311.90,127.8 305.00,133.2 Q306.30,127.8 305.00,122.4 Z" fill="#111"/>
<path d="M314.20,122.4 Q321.10,127.8 314.20,133.2 Q315.50,127.8 314.20,122.4 Z" fill="#111"/>
<path d="M323.40,122.4 Q330.30,127.8 323.40,133.2 Q324.70,127.8 323.40,122.4 Z" fill="#111"/>
<path d="M332.60,122.4 Q339.50,127.8 332.60,133.2 Q333.90,127.8 332.60,122.4 Z" fill="#111"/>
<linearGradient id="gheat" x1="0" x2="1" y1="0" y2="0"><stop offset="-0.0011" stop-color="#daf09a"/><stop offset="0.0340" stop-color="#e6f598"/><stop offset="0.0445" stop-color="#f8fcb3"/><stop offset="0.0550" stop-color="#fee08b"/><stop offset="0.0656" stop-color="#f46d43"/><stop offset="0.0726" stop-color="#e85a48"/><stop offset="0.0831" stop-color="#fba15b"/><stop offset="0.0936" stop-color="#fed17e"/><stop offset="0.1041" stop-color="#fecc7a"/><stop offset="0.1147" stop-color="#f88e52"/><stop offset="0.1252" stop-color="#e55649"/><stop offset="0.1357" stop-color="#de4c4b"/><stop offset="0.1497" stop-color="#f46d43"/><stop offset="0.1637" stop-color="#fdae61"/><stop offset="0.1778" stop-color="#f99455"/><stop offset="0.1883" stop-color="#e55649"/><stop offset="0.1988" stop-color="#ba2048"/><stop offset="0.2093" stop-color="#9e0142"/><stop offset="0.2198" stop-color="#ba2048"/><stop offset="0.2304" stop-color="#e55649"/><stop offset="0.2479" stop-color="#f46d43"/><stop offset="0.2654" stop-color="#f99455"/><stop offset="0.2830" stop-color="#fdc272"/><stop offset="0.3040" stop-color="#fee08b"/><stop offset="0.3391" stop-color="#fee695"/><stop offset="0.3636" stop-color="#feefa5"/><stop offset="0.3741" stop-color="#fafdb7"/><stop offset="0.3846" stop-color="#abdda4"/><stop offset="0.3987" stop-color="#abdda4"/><stop offset="0.4092" stop-color="#fafdb7"/><stop offset="0.4162" stop-color="#e55649"/><stop offset="0.4267" stop-color="#a90d45"/><stop offset="0.4372" stop-color="#ca324c"/><stop offset="0.4548" stop-color="#e85a48"/><stop offset="0.4863" stop-color="#f46d43"/><stop offset="0.5004" stop-color="#fba15b"/><stop offset="0.5109" stop-color="#ffffbf"/><stop offset="0.5214" stop-color="#66c2a5"/><stop offset="0.5354" stop-color="#51abaf"/><stop offset="0.5494" stop-color="#abdda4"/><stop offset="0.5670" stop-color="#daf09a"/><stop offset="0.6020" stop-color="#e6f598"/><stop offset="0.6196" stop-color="#ebf7a0"/><stop offset="0.6301" stop-color="#b7e2a2"/><stop offset="0.6476" stop-color="#82cda5"/><stop offset="0.6651" stop-color="#4299b6"/><stop offset="0.6897" stop-color="#3682ba"/><stop offset="0.7072" stop-color="#3b7db8"/><stop offset="0.7248" stop-color="#3288bd"/><stop offset="0.7388" stop-color="#66c2a5"/><stop offset="0.7598" stop-color="#b7e2a2"/><stop offset="0.7879" stop-color="#daf09a"/><stop offset="0.8124" stop-color="#96d5a4"/><stop offset="0.8299" stop-color="#51abaf"/><stop offset="0.8440" stop-color="#3288bd"/><stop offset="0.8650" stop-color="#486cb0"/><stop offset="0.8790" stop-color="#555aa7"/><stop offset="0.8931" stop-color="#486cb0"/><stop offset="0.9036" stop-color="#378ebb"/><stop offset="0.9176" stop-color="#56b1ac"/><stop offset="0.9316" stop-color="#4299b6"/><stop offset="0.9527" stop-color="#378ebb"/><stop offset="0.9737" stop-color="#3b7db8"/><stop offset="1.0000" stop-color="#4471b2"/></linearGradient>
<rect x="53.3" y="133.8" width="285.2" height="6.599999999999994" fill="url(#gheat)"/>
<linearGradient id="gcb" x1="0" x2="0" y1="0" y2="1"><stop offset="0.000" stop-color="#9e0142"/><stop offset="0.050" stop-color="#ba2048"/><stop offset="0.100" stop-color="#d53e4f"/><stop offset="0.150" stop-color="#e55649"/><stop offset="0.200" stop-color="#f46d43"/><stop offset="0.250" stop-color="#f88e52"/><stop offset="0.300" stop-color="#fdae61"/><stop offset="0.350" stop-color="#fec776"/><stop offset="0.400" stop-color="#fee08b"/><stop offset="0.450" stop-color="#feefa5"/><stop offset="0.500" stop-color="#ffffbf"/><stop offset="0.550" stop-color="#f2faab"/><stop offset="0.600" stop-color="#e6f598"/><stop offset="0.650" stop-color="#c8e99e"/><stop offset="0.700" stop-color="#abdda4"/><stop offset="0.750" stop-color="#88d0a4"/><stop offset="0.800" stop-color="#66c2a5"/><stop offset="0.850" stop-color="#4ca5b1"/><stop offset="0.900" stop-color="#3288bd"/><stop offset="0.950" stop-color="#486cb0"/><stop offset="1.000" stop-color="#5e4fa2"/></linearGradient>
<rect x="355.2" y="29.6" width="6.6" height="110" fill="url(#gcb)"/>
<line x1="361.80" y1="30.60" x2="364.20" y2="30.60" stroke="#333" stroke-width="0.5" />
<text x="366.50" y="33.20" font-size="7.2" text-anchor="start" font-weight="normal" fill="#231f20" >1.0</text>
<line x1="361.80" y1="85.00" x2="364.20" y2="85.00" stroke="#333" stroke-width="0.5" />
<text x="366.50" y="87.60" font-size="7.2" text-anchor="start" font-weight="normal" fill="#231f20" >0.5</text>
<line x1="361.80" y1="139.00" x2="364.20" y2="139.00" stroke="#333" stroke-width="0.5" />
<text x="366.50" y="141.60" font-size="7.2" text-anchor="start" font-weight="normal" fill="#231f20" >0</text>
<rect x="33.2" y="181.5" width="118.7" height="112.0" fill="#e2dfef"/>
<rect x="167.0" y="181.5" width="120.8" height="112.3" fill="#e9e5e2"/>
<rect x="298.0" y="181.3" width="116.7" height="112.2" fill="#f2eced"/>
<rect x="427.0" y="181.0" width="120.1" height="112.2" fill="#fbf6f0"/>
<rect x="559.7" y="181.0" width="122.0" height="112.0" fill="#efefef"/>
<text x="47.40" y="177.00" font-size="7.9" text-anchor="start" font-weight="normal" fill="#231f20" textLength="90.4" lengthAdjust="spacingAndGlyphs">Fully base-paired structure</text>
<text x="190.00" y="177.00" font-size="7.9" text-anchor="start" font-weight="normal" fill="#231f20" textLength="81.1" lengthAdjust="spacingAndGlyphs">Upper 1 × 1 internal loop</text>
<text x="320.00" y="177.00" font-size="7.9" text-anchor="start" font-weight="normal" fill="#231f20" textLength="80.6" lengthAdjust="spacingAndGlyphs">Lower 1 × 1 internal loop</text>
<text x="461.70" y="177.00" font-size="7.9" text-anchor="start" font-weight="normal" fill="#231f20" textLength="60.1" lengthAdjust="spacingAndGlyphs">2 × 2 internal loop</text>
<text x="591.50" y="177.00" font-size="7.9" text-anchor="start" font-weight="normal" fill="#231f20" textLength="61.7" lengthAdjust="spacingAndGlyphs">3 × 3 internal loop</text>
<polyline points="7.65,279.38 7.65,272.52 7.65,265.66 7.65,258.80 7.65,251.94 7.65,245.08 7.65,238.22 7.65,231.36 7.65,224.50 3.90,219.00 3.90,212.90 7.65,208.00 7.65,201.00 7.65,194.50 7.65,189.00 13.10,185.50 18.55,189.00 18.55,194.50 18.55,201.00 18.55,208.00 22.30,212.90 22.30,219.00 18.55,224.50 18.55,231.36 18.55,238.22 18.55,245.08 18.55,251.94 18.55,258.80 18.55,265.66 18.55,272.52 18.55,279.38" fill="none" stroke="#9a9a9a" stroke-width="0.45"/>
<line x1="9.67" y1="279.38" x2="16.53" y2="279.38" stroke="#6f90d2" stroke-width="0.6" />
<line x1="9.67" y1="272.52" x2="16.53" y2="272.52" stroke="#aec2e8" stroke-width="0.6" />
<line x1="9.67" y1="265.66" x2="16.53" y2="265.66" stroke="#6f90d2" stroke-width="0.6" />
<line x1="9.67" y1="258.80" x2="16.53" y2="258.80" stroke="#6f90d2" stroke-width="0.6" />
<line x1="9.67" y1="251.94" x2="16.53" y2="251.94" stroke="#6f90d2" stroke-width="0.6" />
<line x1="9.67" y1="245.08" x2="16.53" y2="245.08" stroke="#aec2e8" stroke-width="0.6" />
<line x1="9.67" y1="238.22" x2="16.53" y2="238.22" stroke="#6f90d2" stroke-width="0.6" />
<line x1="9.67" y1="231.36" x2="16.53" y2="231.36" stroke="#6f90d2" stroke-width="0.6" />
<line x1="9.67" y1="224.50" x2="16.53" y2="224.50" stroke="#6f90d2" stroke-width="0.6" />
<line x1="9.67" y1="208.00" x2="16.53" y2="208.00" stroke="#6f90d2" stroke-width="0.6" />
<line x1="9.67" y1="201.00" x2="16.53" y2="201.00" stroke="#aec2e8" stroke-width="0.6" />
<line x1="9.67" y1="194.50" x2="16.53" y2="194.50" stroke="#6f90d2" stroke-width="0.6" />
<circle cx="7.65" cy="279.38" r="2.25" fill="#dedede" stroke="#767676" stroke-width="0.5"/>
<text x="7.65" y="280.57" font-size="3.3" text-anchor="middle" fill="#474747">U</text>
<circle cx="7.65" cy="272.52" r="2.25" fill="#dedede" stroke="#767676" stroke-width="0.5"/>
<text x="7.65" y="273.71" font-size="3.3" text-anchor="middle" fill="#474747">A</text>
<circle cx="7.65" cy="265.66" r="2.25" fill="#dedede" stroke="#767676" stroke-width="0.5"/>
<text x="7.65" y="266.85" font-size="3.3" text-anchor="middle" fill="#474747">G</text>
<circle cx="7.65" cy="258.80" r="2.25" fill="#dedede" stroke="#767676" stroke-width="0.5"/>
<text x="7.65" y="259.99" font-size="3.3" text-anchor="middle" fill="#474747">G</text>
<circle cx="7.65" cy="251.94" r="2.25" fill="#dedede" stroke="#767676" stroke-width="0.5"/>
<text x="7.65" y="253.13" font-size="3.3" text-anchor="middle" fill="#474747">G</text>
<circle cx="7.65" cy="245.08" r="2.25" fill="#dedede" stroke="#767676" stroke-width="0.5"/>
<text x="7.65" y="246.27" font-size="3.3" text-anchor="middle" fill="#474747">G</text>
<circle cx="7.65" cy="238.22" r="2.25" fill="#dedede" stroke="#767676" stroke-width="0.5"/>
<text x="7.65" y="239.41" font-size="3.3" text-anchor="middle" fill="#474747">G</text>
<circle cx="7.65" cy="231.36" r="2.25" fill="#dedede" stroke="#767676" stroke-width="0.5"/>
<text x="7.65" y="232.55" font-size="3.3" text-anchor="middle" fill="#474747">C</text>
<circle cx="7.65" cy="224.50" r="2.25" fill="#dedede" stroke="#767676" stroke-width="0.5"/>
<text x="7.65" y="225.69" font-size="3.3" text-anchor="middle" fill="#474747">U</text>
<circle cx="3.90" cy="219.00" r="2.25" fill="#dedede" stroke="#767676" stroke-width="0.5"/>
<text x="3.90" y="220.19" font-size="3.3" text-anchor="middle" fill="#474747">U</text>
<circle cx="3.90" cy="212.90" r="2.25" fill="#dedede" stroke="#767676" stroke-width="0.5"/>
<text x="3.90" y="214.09" font-size="3.3" text-anchor="middle" fill="#474747">C</text>
<circle cx="7.65" cy="208.00" r="2.25" fill="#dedede" stroke="#767676" stroke-width="0.5"/>
<text x="7.65" y="209.19" font-size="3.3" text-anchor="middle" fill="#474747">G</text>
<circle cx="7.65" cy="201.00" r="2.25" fill="#dedede" stroke="#767676" stroke-width="0.5"/>
<text x="7.65" y="202.19" font-size="3.3" text-anchor="middle" fill="#474747">C</text>
<circle cx="7.65" cy="194.50" r="2.25" fill="#dedede" stroke="#767676" stroke-width="0.5"/>
<text x="7.65" y="195.69" font-size="3.3" text-anchor="middle" fill="#474747">C</text>
<circle cx="7.65" cy="189.00" r="2.25" fill="#dedede" stroke="#767676" stroke-width="0.5"/>
<text x="7.65" y="190.19" font-size="3.3" text-anchor="middle" fill="#474747">U</text>
<circle cx="13.10" cy="185.50" r="2.25" fill="#dedede" stroke="#767676" stroke-width="0.5"/>
<text x="13.10" y="186.69" font-size="3.3" text-anchor="middle" fill="#474747">C</text>
<circle cx="18.55" cy="189.00" r="2.25" fill="#dedede" stroke="#767676" stroke-width="0.5"/>
<text x="18.55" y="190.19" font-size="3.3" text-anchor="middle" fill="#474747">U</text>
<circle cx="18.55" cy="194.50" r="2.25" fill="#dedede" stroke="#767676" stroke-width="0.5"/>
<text x="18.55" y="195.69" font-size="3.3" text-anchor="middle" fill="#474747">G</text>
<circle cx="18.55" cy="201.00" r="2.25" fill="#dedede" stroke="#767676" stroke-width="0.5"/>
<text x="18.55" y="202.19" font-size="3.3" text-anchor="middle" fill="#474747">G</text>
<circle cx="18.55" cy="208.00" r="2.25" fill="#dedede" stroke="#767676" stroke-width="0.5"/>
<text x="18.55" y="209.19" font-size="3.3" text-anchor="middle" fill="#474747">C</text>
<circle cx="22.30" cy="212.90" r="2.25" fill="#dedede" stroke="#767676" stroke-width="0.5"/>
<text x="22.30" y="214.09" font-size="3.3" text-anchor="middle" fill="#474747">C</text>
<circle cx="22.30" cy="219.00" r="2.25" fill="#dedede" stroke="#767676" stroke-width="0.5"/>
<text x="22.30" y="220.19" font-size="3.3" text-anchor="middle" fill="#474747">C</text>
<circle cx="18.55" cy="224.50" r="2.25" fill="#dedede" stroke="#767676" stroke-width="0.5"/>
<text x="18.55" y="225.69" font-size="3.3" text-anchor="middle" fill="#474747">A</text>
<circle cx="18.55" cy="231.36" r="2.25" fill="#dedede" stroke="#767676" stroke-width="0.5"/>
<text x="18.55" y="232.55" font-size="3.3" text-anchor="middle" fill="#474747">G</text>
<circle cx="18.55" cy="238.22" r="2.25" fill="#dedede" stroke="#767676" stroke-width="0.5"/>
<text x="18.55" y="239.41" font-size="3.3" text-anchor="middle" fill="#474747">C</text>
<circle cx="18.55" cy="245.08" r="2.25" fill="#dedede" stroke="#767676" stroke-width="0.5"/>
<text x="18.55" y="246.27" font-size="3.3" text-anchor="middle" fill="#474747">C</text>
<circle cx="18.55" cy="251.94" r="2.25" fill="#dedede" stroke="#767676" stroke-width="0.5"/>
<text x="18.55" y="253.13" font-size="3.3" text-anchor="middle" fill="#474747">C</text>
<circle cx="18.55" cy="258.80" r="2.25" fill="#dedede" stroke="#767676" stroke-width="0.5"/>
<text x="18.55" y="259.99" font-size="3.3" text-anchor="middle" fill="#474747">U</text>
<circle cx="18.55" cy="265.66" r="2.25" fill="#dedede" stroke="#767676" stroke-width="0.5"/>
<text x="18.55" y="266.85" font-size="3.3" text-anchor="middle" fill="#474747">C</text>
<circle cx="18.55" cy="272.52" r="2.25" fill="#dedede" stroke="#767676" stroke-width="0.5"/>
<text x="18.55" y="273.71" font-size="3.3" text-anchor="middle" fill="#474747">U</text>
<circle cx="18.55" cy="279.38" r="2.25" fill="#dedede" stroke="#767676" stroke-width="0.5"/>
<text x="18.55" y="280.57" font-size="3.3" text-anchor="middle" fill="#474747">A</text>
<line x1="7.65" y1="283.58" x2="7.65" y2="285.38" stroke="#888" stroke-width="0.4" />
<line x1="18.55" y1="283.58" x2="18.55" y2="285.38" stroke="#888" stroke-width="0.4" />
<text x="7.65" y="290.98" font-size="5.2" text-anchor="middle" font-weight="normal" fill="#231f20" >1</text>
<text x="18.85" y="290.98" font-size="5.2" text-anchor="middle" font-weight="normal" fill="#231f20" textLength="4.6" lengthAdjust="spacingAndGlyphs">31</text>
<polyline points="45.65,279.49 45.65,272.96 45.65,266.42 45.65,259.88 45.65,253.34 45.65,246.80 45.65,240.27 45.65,233.73 45.65,227.19 45.65,220.65 45.65,214.11 45.65,207.58 45.65,201.04 45.65,194.50 45.65,189.20 51.10,185.40 56.55,189.20 56.55,194.50 56.55,201.04 56.55,207.58 56.55,214.11 56.55,220.65 56.55,227.19 56.55,233.73 56.55,240.27 56.55,246.80 56.55,253.34 56.55,259.88 56.55,266.42 56.55,272.96 56.55,279.49" fill="none" stroke="#9a9a9a" stroke-width="0.45"/>
<line x1="47.67" y1="279.49" x2="54.53" y2="279.49" stroke="#6f90d2" stroke-width="0.6" />
<line x1="47.67" y1="272.96" x2="54.53" y2="272.96" stroke="#aec2e8" stroke-width="0.6" />
<line x1="47.67" y1="266.42" x2="54.53" y2="266.42" stroke="#6f90d2" stroke-width="0.6" />
<line x1="47.67" y1="259.88" x2="54.53" y2="259.88" stroke="#6f90d2" stroke-width="0.6" />
<line x1="47.67" y1="253.34" x2="54.53" y2="253.34" stroke="#6f90d2" stroke-width="0.6" />
<line x1="47.67" y1="246.80" x2="54.53" y2="246.80" stroke="#aec2e8" stroke-width="0.6" />
<line x1="47.67" y1="240.27" x2="54.53" y2="240.27" stroke="#6f90d2" stroke-width="0.6" />
<line x1="47.67" y1="233.73" x2="54.53" y2="233.73" stroke="#6f90d2" stroke-width="0.6" />
<line x1="47.67" y1="227.19" x2="54.53" y2="227.19" stroke="#6f90d2" stroke-width="0.6" />
<line x1="47.67" y1="220.65" x2="54.53" y2="220.65" stroke="#aec2e8" stroke-width="0.6" />
<line x1="47.67" y1="214.11" x2="54.53" y2="214.11" stroke="#6f90d2" stroke-width="0.6" />
<line x1="47.67" y1="207.58" x2="54.53" y2="207.58" stroke="#6f90d2" stroke-width="0.6" />
<line x1="47.67" y1="201.04" x2="54.53" y2="201.04" stroke="#6f90d2" stroke-width="0.6" />
<line x1="47.67" y1="194.50" x2="54.53" y2="194.50" stroke="#aec2e8" stroke-width="0.6" />
<circle cx="45.65" cy="279.49" r="2.25" fill="#dedede" stroke="#767676" stroke-width="0.5"/>
<text x="45.65" y="280.68" font-size="3.3" text-anchor="middle" fill="#474747">U</text>
<circle cx="45.65" cy="272.96" r="2.25" fill="#dedede" stroke="#767676" stroke-width="0.5"/>
<text x="45.65" y="274.14" font-size="3.3" text-anchor="middle" fill="#474747">A</text>
<circle cx="45.65" cy="266.42" r="2.25" fill="#dedede" stroke="#767676" stroke-width="0.5"/>
<text x="45.65" y="267.61" font-size="3.3" text-anchor="middle" fill="#474747">G</text>
<circle cx="45.65" cy="259.88" r="2.25" fill="#dedede" stroke="#767676" stroke-width="0.5"/>
<text x="45.65" y="261.07" font-size="3.3" text-anchor="middle" fill="#474747">G</text>
<circle cx="45.65" cy="253.34" r="2.25" fill="#dedede" stroke="#767676" stroke-width="0.5"/>
<text x="45.65" y="254.53" font-size="3.3" text-anchor="middle" fill="#474747">G</text>
<circle cx="45.65" cy="246.80" r="2.25" fill="#dedede" stroke="#767676" stroke-width="0.5"/>
<text x="45.65" y="247.99" font-size="3.3" text-anchor="middle" fill="#474747">G</text>
<circle cx="45.65" cy="240.27" r="2.25" fill="#dedede" stroke="#767676" stroke-width="0.5"/>
<text x="45.65" y="241.45" font-size="3.3" text-anchor="middle" fill="#474747">G</text>
<circle cx="45.65" cy="233.73" r="2.25" fill="#dedede" stroke="#767676" stroke-width="0.5"/>
<text x="45.65" y="234.92" font-size="3.3" text-anchor="middle" fill="#474747">C</text>
<circle cx="45.65" cy="227.19" r="2.25" fill="#dedede" stroke="#767676" stroke-width="0.5"/>
<text x="45.65" y="228.38" font-size="3.3" text-anchor="middle" fill="#474747">U</text>
<circle cx="45.65" cy="220.65" r="2.25" fill="#dedede" stroke="#767676" stroke-width="0.5"/>
<text x="45.65" y="221.84" font-size="3.3" text-anchor="middle" fill="#474747">U</text>
<circle cx="45.65" cy="214.11" r="2.25" fill="#dedede" stroke="#767676" stroke-width="0.5"/>
<text x="45.65" y="215.30" font-size="3.3" text-anchor="middle" fill="#474747">C</text>
<circle cx="45.65" cy="207.58" r="2.25" fill="#dedede" stroke="#767676" stroke-width="0.5"/>
<text x="45.65" y="208.76" font-size="3.3" text-anchor="middle" fill="#474747">G</text>
<circle cx="45.65" cy="201.04" r="2.25" fill="#dedede" stroke="#767676" stroke-width="0.5"/>
<text x="45.65" y="202.23" font-size="3.3" text-anchor="middle" fill="#474747">C</text>
<circle cx="45.65" cy="194.50" r="2.25" fill="#dedede" stroke="#767676" stroke-width="0.5"/>
<text x="45.65" y="195.69" font-size="3.3" text-anchor="middle" fill="#474747">C</text>
<circle cx="45.65" cy="189.20" r="2.25" fill="#dedede" stroke="#767676" stroke-width="0.5"/>
<text x="45.65" y="190.39" font-size="3.3" text-anchor="middle" fill="#474747">U</text>
<circle cx="51.10" cy="185.40" r="2.25" fill="#dedede" stroke="#767676" stroke-width="0.5"/>
<text x="51.10" y="186.59" font-size="3.3" text-anchor="middle" fill="#474747">C</text>
<circle cx="56.55" cy="189.20" r="2.25" fill="#dedede" stroke="#767676" stroke-width="0.5"/>
<text x="56.55" y="190.39" font-size="3.3" text-anchor="middle" fill="#474747">U</text>
<circle cx="56.55" cy="194.50" r="2.25" fill="#dedede" stroke="#767676" stroke-width="0.5"/>
<text x="56.55" y="195.69" font-size="3.3" text-anchor="middle" fill="#474747">G</text>
<circle cx="56.55" cy="201.04" r="2.25" fill="#dedede" stroke="#767676" stroke-width="0.5"/>
<text x="56.55" y="202.23" font-size="3.3" text-anchor="middle" fill="#474747">G</text>
<circle cx="56.55" cy="207.58" r="2.25" fill="#dedede" stroke="#767676" stroke-width="0.5"/>
<text x="56.55" y="208.76" font-size="3.3" text-anchor="middle" fill="#474747">C</text>
<circle cx="56.55" cy="214.11" r="2.45" fill="#c40f1b" stroke="#c40f1b" stroke-width="0.2"/>
<circle cx="56.55" cy="220.65" r="2.45" fill="#e8a526" stroke="#e8a526" stroke-width="0.2"/>
<circle cx="56.55" cy="227.19" r="2.25" fill="#dedede" stroke="#767676" stroke-width="0.5"/>
<text x="56.55" y="228.38" font-size="3.3" text-anchor="middle" fill="#474747">A</text>
<circle cx="56.55" cy="233.73" r="2.25" fill="#dedede" stroke="#767676" stroke-width="0.5"/>
<text x="56.55" y="234.92" font-size="3.3" text-anchor="middle" fill="#474747">G</text>
<circle cx="56.55" cy="240.27" r="2.25" fill="#dedede" stroke="#767676" stroke-width="0.5"/>
<text x="56.55" y="241.45" font-size="3.3" text-anchor="middle" fill="#474747">C</text>
<circle cx="56.55" cy="246.80" r="2.25" fill="#dedede" stroke="#767676" stroke-width="0.5"/>
<text x="56.55" y="247.99" font-size="3.3" text-anchor="middle" fill="#474747">C</text>
<circle cx="56.55" cy="253.34" r="2.25" fill="#dedede" stroke="#767676" stroke-width="0.5"/>
<text x="56.55" y="254.53" font-size="3.3" text-anchor="middle" fill="#474747">C</text>
<circle cx="56.55" cy="259.88" r="2.25" fill="#dedede" stroke="#767676" stroke-width="0.5"/>
<text x="56.55" y="261.07" font-size="3.3" text-anchor="middle" fill="#474747">U</text>
<circle cx="56.55" cy="266.42" r="2.25" fill="#dedede" stroke="#767676" stroke-width="0.5"/>
<text x="56.55" y="267.61" font-size="3.3" text-anchor="middle" fill="#474747">C</text>
<circle cx="56.55" cy="272.96" r="2.25" fill="#dedede" stroke="#767676" stroke-width="0.5"/>
<text x="56.55" y="274.14" font-size="3.3" text-anchor="middle" fill="#474747">U</text>
<circle cx="56.55" cy="279.49" r="2.25" fill="#dedede" stroke="#767676" stroke-width="0.5"/>
<text x="56.55" y="280.68" font-size="3.3" text-anchor="middle" fill="#474747">A</text>
<line x1="45.65" y1="283.69" x2="45.65" y2="285.49" stroke="#888" stroke-width="0.4" />
<line x1="56.55" y1="283.69" x2="56.55" y2="285.49" stroke="#888" stroke-width="0.4" />
<text x="45.65" y="291.09" font-size="5.2" text-anchor="middle" font-weight="normal" fill="#231f20" >1</text>
<text x="56.85" y="291.09" font-size="5.2" text-anchor="middle" font-weight="normal" fill="#231f20" textLength="4.6" lengthAdjust="spacingAndGlyphs">31</text>
<polyline points="74.20,279.49 74.20,272.96 74.20,266.42 74.20,259.88 74.20,253.34 74.20,246.80 74.20,240.27 74.20,233.73 74.20,227.19 74.20,220.65 74.20,214.11 74.20,207.58 74.20,201.04 74.20,194.50 74.20,189.20 79.65,185.40 85.10,189.20 85.10,194.50 85.10,201.04 85.10,207.58 85.10,214.11 85.10,220.65 85.10,227.19 85.10,233.73 85.10,240.27 85.10,246.80 85.10,253.34 85.10,259.88 85.10,266.42 85.10,272.96 85.10,279.49" fill="none" stroke="#9a9a9a" stroke-width="0.45"/>
<line x1="76.23" y1="279.49" x2="83.08" y2="279.49" stroke="#6f90d2" stroke-width="0.6" />
<line x1="76.23" y1="272.96" x2="83.08" y2="272.96" stroke="#aec2e8" stroke-width="0.6" />
<line x1="76.23" y1="266.42" x2="83.08" y2="266.42" stroke="#6f90d2" stroke-width="0.6" />
<line x1="76.23" y1="259.88" x2="83.08" y2="259.88" stroke="#6f90d2" stroke-width="0.6" />
<line x1="76.23" y1="253.34" x2="83.08" y2="253.34" stroke="#6f90d2" stroke-width="0.6" />
<line x1="76.23" y1="246.80" x2="83.08" y2="246.80" stroke="#aec2e8" stroke-width="0.6" />
<line x1="76.23" y1="240.27" x2="83.08" y2="240.27" stroke="#6f90d2" stroke-width="0.6" />
<line x1="76.23" y1="233.73" x2="83.08" y2="233.73" stroke="#6f90d2" stroke-width="0.6" />
<line x1="76.23" y1="227.19" x2="83.08" y2="227.19" stroke="#6f90d2" stroke-width="0.6" />
<line x1="76.23" y1="220.65" x2="83.08" y2="220.65" stroke="#aec2e8" stroke-width="0.6" />
<line x1="76.23" y1="214.11" x2="83.08" y2="214.11" stroke="#6f90d2" stroke-width="0.6" />
<line x1="76.23" y1="207.58" x2="83.08" y2="207.58" stroke="#6f90d2" stroke-width="0.6" />
<line x1="76.23" y1="201.04" x2="83.08" y2="201.04" stroke="#6f90d2" stroke-width="0.6" />
<line x1="76.23" y1="194.50" x2="83.08" y2="194.50" stroke="#aec2e8" stroke-width="0.6" />
<circle cx="74.20" cy="279.49" r="2.25" fill="#dedede" stroke="#767676" stroke-width="0.5"/>
<text x="74.20" y="280.68" font-size="3.3" text-anchor="middle" fill="#474747">U</text>
<circle cx="74.20" cy="272.96" r="2.25" fill="#dedede" stroke="#767676" stroke-width="0.5"/>
<text x="74.20" y="274.14" font-size="3.3" text-anchor="middle" fill="#474747">A</text>
<circle cx="74.20" cy="266.42" r="2.25" fill="#dedede" stroke="#767676" stroke-width="0.5"/>
<text x="74.20" y="267.61" font-size="3.3" text-anchor="middle" fill="#474747">G</text>
<circle cx="74.20" cy="259.88" r="2.25" fill="#dedede" stroke="#767676" stroke-width="0.5"/>
<text x="74.20" y="261.07" font-size="3.3" text-anchor="middle" fill="#474747">G</text>
<circle cx="74.20" cy="253.34" r="2.25" fill="#dedede" stroke="#767676" stroke-width="0.5"/>
<text x="74.20" y="254.53" font-size="3.3" text-anchor="middle" fill="#474747">G</text>
<circle cx="74.20" cy="246.80" r="2.25" fill="#dedede" stroke="#767676" stroke-width="0.5"/>
<text x="74.20" y="247.99" font-size="3.3" text-anchor="middle" fill="#474747">G</text>
<circle cx="74.20" cy="240.27" r="2.25" fill="#dedede" stroke="#767676" stroke-width="0.5"/>
<text x="74.20" y="241.45" font-size="3.3" text-anchor="middle" fill="#474747">G</text>
<circle cx="74.20" cy="233.73" r="2.25" fill="#dedede" stroke="#767676" stroke-width="0.5"/>
<text x="74.20" y="234.92" font-size="3.3" text-anchor="middle" fill="#474747">C</text>
<circle cx="74.20" cy="227.19" r="2.25" fill="#dedede" stroke="#767676" stroke-width="0.5"/>
<text x="74.20" y="228.38" font-size="3.3" text-anchor="middle" fill="#474747">U</text>
<circle cx="74.20" cy="220.65" r="2.45" fill="#c40f1b" stroke="#c40f1b" stroke-width="0.2"/>
<circle cx="74.20" cy="214.11" r="2.45" fill="#c40f1b" stroke="#c40f1b" stroke-width="0.2"/>
<circle cx="74.20" cy="207.58" r="2.25" fill="#dedede" stroke="#767676" stroke-width="0.5"/>
<text x="74.20" y="208.76" font-size="3.3" text-anchor="middle" fill="#474747">G</text>
<circle cx="74.20" cy="201.04" r="2.25" fill="#dedede" stroke="#767676" stroke-width="0.5"/>
<text x="74.20" y="202.23" font-size="3.3" text-anchor="middle" fill="#474747">C</text>
<circle cx="74.20" cy="194.50" r="2.25" fill="#dedede" stroke="#767676" stroke-width="0.5"/>
<text x="74.20" y="195.69" font-size="3.3" text-anchor="middle" fill="#474747">C</text>
<circle cx="74.20" cy="189.20" r="2.25" fill="#dedede" stroke="#767676" stroke-width="0.5"/>
<text x="74.20" y="190.39" font-size="3.3" text-anchor="middle" fill="#474747">U</text>
<circle cx="79.65" cy="185.40" r="2.25" fill="#dedede" stroke="#767676" stroke-width="0.5"/>
<text x="79.65" y="186.59" font-size="3.3" text-anchor="middle" fill="#474747">C</text>
<circle cx="85.10" cy="189.20" r="2.25" fill="#dedede" stroke="#767676" stroke-width="0.5"/>
<text x="85.10" y="190.39" font-size="3.3" text-anchor="middle" fill="#474747">U</text>
<circle cx="85.10" cy="194.50" r="2.25" fill="#dedede" stroke="#767676" stroke-width="0.5"/>
<text x="85.10" y="195.69" font-size="3.3" text-anchor="middle" fill="#474747">G</text>
<circle cx="85.10" cy="201.04" r="2.25" fill="#dedede" stroke="#767676" stroke-width="0.5"/>
<text x="85.10" y="202.23" font-size="3.3" text-anchor="middle" fill="#474747">G</text>
<circle cx="85.10" cy="207.58" r="2.25" fill="#dedede" stroke="#767676" stroke-width="0.5"/>
<text x="85.10" y="208.76" font-size="3.3" text-anchor="middle" fill="#474747">C</text>
<circle cx="85.10" cy="214.11" r="2.25" fill="#dedede" stroke="#767676" stroke-width="0.5"/>
<text x="85.10" y="215.30" font-size="3.3" text-anchor="middle" fill="#474747">C</text>
<circle cx="85.10" cy="220.65" r="2.25" fill="#dedede" stroke="#767676" stroke-width="0.5"/>
<text x="85.10" y="221.84" font-size="3.3" text-anchor="middle" fill="#474747">C</text>
<circle cx="85.10" cy="227.19" r="2.25" fill="#dedede" stroke="#767676" stroke-width="0.5"/>
<text x="85.10" y="228.38" font-size="3.3" text-anchor="middle" fill="#474747">A</text>
<circle cx="85.10" cy="233.73" r="2.25" fill="#dedede" stroke="#767676" stroke-width="0.5"/>
<text x="85.10" y="234.92" font-size="3.3" text-anchor="middle" fill="#474747">G</text>
<circle cx="85.10" cy="240.27" r="2.25" fill="#dedede" stroke="#767676" stroke-width="0.5"/>
<text x="85.10" y="241.45" font-size="3.3" text-anchor="middle" fill="#474747">C</text>
<circle cx="85.10" cy="246.80" r="2.25" fill="#dedede" stroke="#767676" stroke-width="0.5"/>
<text x="85.10" y="247.99" font-size="3.3" text-anchor="middle" fill="#474747">C</text>
<circle cx="85.10" cy="253.34" r="2.25" fill="#dedede" stroke="#767676" stroke-width="0.5"/>
<text x="85.10" y="254.53" font-size="3.3" text-anchor="middle" fill="#474747">C</text>
<circle cx="85.10" cy="259.88" r="2.25" fill="#dedede" stroke="#767676" stroke-width="0.5"/>
<text x="85.10" y="261.07" font-size="3.3" text-anchor="middle" fill="#474747">U</text>
<circle cx="85.10" cy="266.42" r="2.25" fill="#dedede" stroke="#767676" stroke-width="0.5"/>
<text x="85.10" y="267.61" font-size="3.3" text-anchor="middle" fill="#474747">C</text>
<circle cx="85.10" cy="272.96" r="2.25" fill="#dedede" stroke="#767676" stroke-width="0.5"/>
<text x="85.10" y="274.14" font-size="3.3" text-anchor="middle" fill="#474747">U</text>
<circle cx="85.10" cy="279.49" r="2.25" fill="#dedede" stroke="#767676" stroke-width="0.5"/>
<text x="85.10" y="280.68" font-size="3.3" text-anchor="middle" fill="#474747">A</text>
<line x1="74.20" y1="283.69" x2="74.20" y2="285.49" stroke="#888" stroke-width="0.4" />
<line x1="85.10" y1="283.69" x2="85.10" y2="285.49" stroke="#888" stroke-width="0.4" />
<text x="74.20" y="291.09" font-size="5.2" text-anchor="middle" font-weight="normal" fill="#231f20" >1</text>
<text x="85.40" y="291.09" font-size="5.2" text-anchor="middle" font-weight="normal" fill="#231f20" textLength="4.6" lengthAdjust="spacingAndGlyphs">31</text>
<polyline points="102.60,279.49 102.60,272.96 102.60,266.42 102.60,259.88 102.60,253.34 102.60,246.80 102.60,240.27 102.60,233.73 102.60,227.19 102.60,220.65 102.60,214.11 102.60,207.58 102.60,201.04 102.60,194.50 102.60,189.20 108.05,185.40 113.50,189.20 113.50,194.50 113.50,201.04 113.50,207.58 113.50,214.11 113.50,220.65 113.50,227.19 113.50,233.73 113.50,240.27 113.50,246.80 113.50,253.34 113.50,259.88 113.50,266.42 113.50,272.96 113.50,279.49" fill="none" stroke="#9a9a9a" stroke-width="0.45"/>
<line x1="104.62" y1="279.49" x2="111.47" y2="279.49" stroke="#6f90d2" stroke-width="0.6" />
<line x1="104.62" y1="272.96" x2="111.47" y2="272.96" stroke="#aec2e8" stroke-width="0.6" />
<line x1="104.62" y1="266.42" x2="111.47" y2="266.42" stroke="#6f90d2" stroke-width="0.6" />
<line x1="104.62" y1="259.88" x2="111.47" y2="259.88" stroke="#6f90d2" stroke-width="0.6" />
<line x1="104.62" y1="253.34" x2="111.47" y2="253.34" stroke="#6f90d2" stroke-width="0.6" />
<line x1="104.62" y1="246.80" x2="111.47" y2="246.80" stroke="#aec2e8" stroke-width="0.6" />
<line x1="104.62" y1="240.27" x2="111.47" y2="240.27" stroke="#6f90d2" stroke-width="0.6" />
<line x1="104.62" y1="233.73" x2="111.47" y2="233.73" stroke="#6f90d2" stroke-width="0.6" />
<line x1="104.62" y1="227.19" x2="111.47" y2="227.19" stroke="#6f90d2" stroke-width="0.6" />
<line x1="104.62" y1="220.65" x2="111.47" y2="220.65" stroke="#aec2e8" stroke-width="0.6" />
<line x1="104.62" y1="214.11" x2="111.47" y2="214.11" stroke="#6f90d2" stroke-width="0.6" />
<line x1="104.62" y1="207.58" x2="111.47" y2="207.58" stroke="#6f90d2" stroke-width="0.6" />
<line x1="104.62" y1="201.04" x2="111.47" y2="201.04" stroke="#6f90d2" stroke-width="0.6" />
<line x1="104.62" y1="194.50" x2="111.47" y2="194.50" stroke="#aec2e8" stroke-width="0.6" />
<circle cx="102.60" cy="279.49" r="2.25" fill="#dedede" stroke="#767676" stroke-width="0.5"/>
<text x="102.60" y="280.68" font-size="3.3" text-anchor="middle" fill="#474747">U</text>
<circle cx="102.60" cy="272.96" r="2.25" fill="#dedede" stroke="#767676" stroke-width="0.5"/>
<text x="102.60" y="274.14" font-size="3.3" text-anchor="middle" fill="#474747">A</text>
<circle cx="102.60" cy="266.42" r="2.25" fill="#dedede" stroke="#767676" stroke-width="0.5"/>
<text x="102.60" y="267.61" font-size="3.3" text-anchor="middle" fill="#474747">G</text>
<circle cx="102.60" cy="259.88" r="2.25" fill="#dedede" stroke="#767676" stroke-width="0.5"/>
<text x="102.60" y="261.07" font-size="3.3" text-anchor="middle" fill="#474747">G</text>
<circle cx="102.60" cy="253.34" r="2.25" fill="#dedede" stroke="#767676" stroke-width="0.5"/>
<text x="102.60" y="254.53" font-size="3.3" text-anchor="middle" fill="#474747">G</text>
<circle cx="102.60" cy="246.80" r="2.25" fill="#dedede" stroke="#767676" stroke-width="0.5"/>
<text x="102.60" y="247.99" font-size="3.3" text-anchor="middle" fill="#474747">G</text>
<circle cx="102.60" cy="240.27" r="2.25" fill="#dedede" stroke="#767676" stroke-width="0.5"/>
<text x="102.60" y="241.45" font-size="3.3" text-anchor="middle" fill="#474747">G</text>
<circle cx="102.60" cy="233.73" r="2.25" fill="#dedede" stroke="#767676" stroke-width="0.5"/>
<text x="102.60" y="234.92" font-size="3.3" text-anchor="middle" fill="#474747">C</text>
<circle cx="102.60" cy="227.19" r="2.25" fill="#dedede" stroke="#767676" stroke-width="0.5"/>
<text x="102.60" y="228.38" font-size="3.3" text-anchor="middle" fill="#474747">U</text>
<circle cx="102.60" cy="220.65" r="2.45" fill="#c40f1b" stroke="#c40f1b" stroke-width="0.2"/>
<circle cx="102.60" cy="214.11" r="2.45" fill="#e8a526" stroke="#e8a526" stroke-width="0.2"/>
<circle cx="102.60" cy="207.58" r="2.25" fill="#dedede" stroke="#767676" stroke-width="0.5"/>
<text x="102.60" y="208.76" font-size="3.3" text-anchor="middle" fill="#474747">G</text>
<circle cx="102.60" cy="201.04" r="2.25" fill="#dedede" stroke="#767676" stroke-width="0.5"/>
<text x="102.60" y="202.23" font-size="3.3" text-anchor="middle" fill="#474747">C</text>
<circle cx="102.60" cy="194.50" r="2.25" fill="#dedede" stroke="#767676" stroke-width="0.5"/>
<text x="102.60" y="195.69" font-size="3.3" text-anchor="middle" fill="#474747">C</text>
<circle cx="102.60" cy="189.20" r="2.25" fill="#dedede" stroke="#767676" stroke-width="0.5"/>
<text x="102.60" y="190.39" font-size="3.3" text-anchor="middle" fill="#474747">U</text>
<circle cx="108.05" cy="185.40" r="2.25" fill="#dedede" stroke="#767676" stroke-width="0.5"/>
<text x="108.05" y="186.59" font-size="3.3" text-anchor="middle" fill="#474747">C</text>
<circle cx="113.50" cy="189.20" r="2.25" fill="#dedede" stroke="#767676" stroke-width="0.5"/>
<text x="113.50" y="190.39" font-size="3.3" text-anchor="middle" fill="#474747">U</text>
<circle cx="113.50" cy="194.50" r="2.25" fill="#dedede" stroke="#767676" stroke-width="0.5"/>
<text x="113.50" y="195.69" font-size="3.3" text-anchor="middle" fill="#474747">G</text>
<circle cx="113.50" cy="201.04" r="2.25" fill="#dedede" stroke="#767676" stroke-width="0.5"/>
<text x="113.50" y="202.23" font-size="3.3" text-anchor="middle" fill="#474747">G</text>
<circle cx="113.50" cy="207.58" r="2.25" fill="#dedede" stroke="#767676" stroke-width="0.5"/>
<text x="113.50" y="208.76" font-size="3.3" text-anchor="middle" fill="#474747">C</text>
<circle cx="113.50" cy="214.11" r="2.45" fill="#1b8ccc" stroke="#1b8ccc" stroke-width="0.2"/>
<circle cx="113.50" cy="220.65" r="2.45" fill="#169a4e" stroke="#169a4e" stroke-width="0.2"/>
<circle cx="113.50" cy="227.19" r="2.25" fill="#dedede" stroke="#767676" stroke-width="0.5"/>
<text x="113.50" y="228.38" font-size="3.3" text-anchor="middle" fill="#474747">A</text>
<circle cx="113.50" cy="233.73" r="2.25" fill="#dedede" stroke="#767676" stroke-width="0.5"/>
<text x="113.50" y="234.92" font-size="3.3" text-anchor="middle" fill="#474747">G</text>
<circle cx="113.50" cy="240.27" r="2.25" fill="#dedede" stroke="#767676" stroke-width="0.5"/>
<text x="113.50" y="241.45" font-size="3.3" text-anchor="middle" fill="#474747">C</text>
<circle cx="113.50" cy="246.80" r="2.25" fill="#dedede" stroke="#767676" stroke-width="0.5"/>
<text x="113.50" y="247.99" font-size="3.3" text-anchor="middle" fill="#474747">C</text>
<circle cx="113.50" cy="253.34" r="2.25" fill="#dedede" stroke="#767676" stroke-width="0.5"/>
<text x="113.50" y="254.53" font-size="3.3" text-anchor="middle" fill="#474747">C</text>
<circle cx="113.50" cy="259.88" r="2.25" fill="#dedede" stroke="#767676" stroke-width="0.5"/>
<text x="113.50" y="261.07" font-size="3.3" text-anchor="middle" fill="#474747">U</text>
<circle cx="113.50" cy="266.42" r="2.25" fill="#dedede" stroke="#767676" stroke-width="0.5"/>
<text x="113.50" y="267.61" font-size="3.3" text-anchor="middle" fill="#474747">C</text>
<circle cx="113.50" cy="272.96" r="2.25" fill="#dedede" stroke="#767676" stroke-width="0.5"/>
<text x="113.50" y="274.14" font-size="3.3" text-anchor="middle" fill="#474747">U</text>
<circle cx="113.50" cy="279.49" r="2.25" fill="#dedede" stroke="#767676" stroke-width="0.5"/>
<text x="113.50" y="280.68" font-size="3.3" text-anchor="middle" fill="#474747">A</text>
<line x1="102.60" y1="283.69" x2="102.60" y2="285.49" stroke="#888" stroke-width="0.4" />
<line x1="113.50" y1="283.69" x2="113.50" y2="285.49" stroke="#888" stroke-width="0.4" />
<text x="102.60" y="291.09" font-size="5.2" text-anchor="middle" font-weight="normal" fill="#231f20" >1</text>
<text x="113.80" y="291.09" font-size="5.2" text-anchor="middle" font-weight="normal" fill="#231f20" textLength="4.6" lengthAdjust="spacingAndGlyphs">31</text>
<polyline points="131.10,279.49 131.10,272.96 131.10,266.42 131.10,259.88 131.10,253.34 131.10,246.80 131.10,240.27 131.10,233.73 131.10,227.19 131.10,220.65 131.10,214.11 131.10,207.58 131.10,201.04 131.10,194.50 131.10,189.20 136.55,185.40 142.00,189.20 142.00,194.50 142.00,201.04 142.00,207.58 142.00,214.11 142.00,220.65 142.00,227.19 142.00,233.73 142.00,240.27 142.00,246.80 142.00,253.34 142.00,259.88 142.00,266.42 142.00,272.96 142.00,279.49" fill="none" stroke="#9a9a9a" stroke-width="0.45"/>
<line x1="133.13" y1="279.49" x2="139.97" y2="279.49" stroke="#6f90d2" stroke-width="0.6" />
<line x1="133.13" y1="272.96" x2="139.97" y2="272.96" stroke="#aec2e8" stroke-width="0.6" />
<line x1="133.13" y1="266.42" x2="139.97" y2="266.42" stroke="#6f90d2" stroke-width="0.6" />
<line x1="133.13" y1="259.88" x2="139.97" y2="259.88" stroke="#6f90d2" stroke-width="0.6" />
<line x1="133.13" y1="253.34" x2="139.97" y2="253.34" stroke="#6f90d2" stroke-width="0.6" />
<line x1="133.13" y1="246.80" x2="139.97" y2="246.80" stroke="#aec2e8" stroke-width="0.6" />
<line x1="133.13" y1="240.27" x2="139.97" y2="240.27" stroke="#6f90d2" stroke-width="0.6" />
<line x1="133.13" y1="233.73" x2="139.97" y2="233.73" stroke="#6f90d2" stroke-width="0.6" />
<line x1="133.13" y1="227.19" x2="139.97" y2="227.19" stroke="#6f90d2" stroke-width="0.6" />
<line x1="133.13" y1="220.65" x2="139.97" y2="220.65" stroke="#aec2e8" stroke-width="0.6" />
<line x1="133.13" y1="214.11" x2="139.97" y2="214.11" stroke="#6f90d2" stroke-width="0.6" />
<line x1="133.13" y1="207.58" x2="139.97" y2="207.58" stroke="#6f90d2" stroke-width="0.6" />
<line x1="133.13" y1="201.04" x2="139.97" y2="201.04" stroke="#6f90d2" stroke-width="0.6" />
<line x1="133.13" y1="194.50" x2="139.97" y2="194.50" stroke="#aec2e8" stroke-width="0.6" />
<circle cx="131.10" cy="279.49" r="2.25" fill="#dedede" stroke="#767676" stroke-width="0.5"/>
<text x="131.10" y="280.68" font-size="3.3" text-anchor="middle" fill="#474747">U</text>
<circle cx="131.10" cy="272.96" r="2.25" fill="#dedede" stroke="#767676" stroke-width="0.5"/>
<text x="131.10" y="274.14" font-size="3.3" text-anchor="middle" fill="#474747">A</text>
<circle cx="131.10" cy="266.42" r="2.25" fill="#dedede" stroke="#767676" stroke-width="0.5"/>
<text x="131.10" y="267.61" font-size="3.3" text-anchor="middle" fill="#474747">G</text>
<circle cx="131.10" cy="259.88" r="2.25" fill="#dedede" stroke="#767676" stroke-width="0.5"/>
<text x="131.10" y="261.07" font-size="3.3" text-anchor="middle" fill="#474747">G</text>
<circle cx="131.10" cy="253.34" r="2.25" fill="#dedede" stroke="#767676" stroke-width="0.5"/>
<text x="131.10" y="254.53" font-size="3.3" text-anchor="middle" fill="#474747">G</text>
<circle cx="131.10" cy="246.80" r="2.25" fill="#dedede" stroke="#767676" stroke-width="0.5"/>
<text x="131.10" y="247.99" font-size="3.3" text-anchor="middle" fill="#474747">G</text>
<circle cx="131.10" cy="240.27" r="2.25" fill="#dedede" stroke="#767676" stroke-width="0.5"/>
<text x="131.10" y="241.45" font-size="3.3" text-anchor="middle" fill="#474747">G</text>
<circle cx="131.10" cy="233.73" r="2.25" fill="#dedede" stroke="#767676" stroke-width="0.5"/>
<text x="131.10" y="234.92" font-size="3.3" text-anchor="middle" fill="#474747">C</text>
<circle cx="131.10" cy="227.19" r="2.25" fill="#dedede" stroke="#767676" stroke-width="0.5"/>
<text x="131.10" y="228.38" font-size="3.3" text-anchor="middle" fill="#474747">U</text>
<circle cx="131.10" cy="220.65" r="2.45" fill="#e8a526" stroke="#e8a526" stroke-width="0.2"/>
<circle cx="131.10" cy="214.11" r="2.45" fill="#1b8ccc" stroke="#1b8ccc" stroke-width="0.2"/>
<circle cx="131.10" cy="207.58" r="2.25" fill="#dedede" stroke="#767676" stroke-width="0.5"/>
<text x="131.10" y="208.76" font-size="3.3" text-anchor="middle" fill="#474747">G</text>
<circle cx="131.10" cy="201.04" r="2.25" fill="#dedede" stroke="#767676" stroke-width="0.5"/>
<text x="131.10" y="202.23" font-size="3.3" text-anchor="middle" fill="#474747">C</text>
<circle cx="131.10" cy="194.50" r="2.25" fill="#dedede" stroke="#767676" stroke-width="0.5"/>
<text x="131.10" y="195.69" font-size="3.3" text-anchor="middle" fill="#474747">C</text>
<circle cx="131.10" cy="189.20" r="2.25" fill="#dedede" stroke="#767676" stroke-width="0.5"/>
<text x="131.10" y="190.39" font-size="3.3" text-anchor="middle" fill="#474747">U</text>
<circle cx="136.55" cy="185.40" r="2.25" fill="#dedede" stroke="#767676" stroke-width="0.5"/>
<text x="136.55" y="186.59" font-size="3.3" text-anchor="middle" fill="#474747">C</text>
<circle cx="142.00" cy="189.20" r="2.25" fill="#dedede" stroke="#767676" stroke-width="0.5"/>
<text x="142.00" y="190.39" font-size="3.3" text-anchor="middle" fill="#474747">U</text>
<circle cx="142.00" cy="194.50" r="2.25" fill="#dedede" stroke="#767676" stroke-width="0.5"/>
<text x="142.00" y="195.69" font-size="3.3" text-anchor="middle" fill="#474747">G</text>
<circle cx="142.00" cy="201.04" r="2.25" fill="#dedede" stroke="#767676" stroke-width="0.5"/>
<text x="142.00" y="202.23" font-size="3.3" text-anchor="middle" fill="#474747">G</text>
<circle cx="142.00" cy="207.58" r="2.25" fill="#dedede" stroke="#767676" stroke-width="0.5"/>
<text x="142.00" y="208.76" font-size="3.3" text-anchor="middle" fill="#474747">C</text>
<circle cx="142.00" cy="214.11" r="2.45" fill="#c40f1b" stroke="#c40f1b" stroke-width="0.2"/>
<circle cx="142.00" cy="220.65" r="2.45" fill="#1b8ccc" stroke="#1b8ccc" stroke-width="0.2"/>
<circle cx="142.00" cy="227.19" r="2.25" fill="#dedede" stroke="#767676" stroke-width="0.5"/>
<text x="142.00" y="228.38" font-size="3.3" text-anchor="middle" fill="#474747">A</text>
<circle cx="142.00" cy="233.73" r="2.25" fill="#dedede" stroke="#767676" stroke-width="0.5"/>
<text x="142.00" y="234.92" font-size="3.3" text-anchor="middle" fill="#474747">G</text>
<circle cx="142.00" cy="240.27" r="2.25" fill="#dedede" stroke="#767676" stroke-width="0.5"/>
<text x="142.00" y="241.45" font-size="3.3" text-anchor="middle" fill="#474747">C</text>
<circle cx="142.00" cy="246.80" r="2.25" fill="#dedede" stroke="#767676" stroke-width="0.5"/>
<text x="142.00" y="247.99" font-size="3.3" text-anchor="middle" fill="#474747">C</text>
<circle cx="142.00" cy="253.34" r="2.25" fill="#dedede" stroke="#767676" stroke-width="0.5"/>
<text x="142.00" y="254.53" font-size="3.3" text-anchor="middle" fill="#474747">C</text>
<circle cx="142.00" cy="259.88" r="2.25" fill="#dedede" stroke="#767676" stroke-width="0.5"/>
<text x="142.00" y="261.07" font-size="3.3" text-anchor="middle" fill="#474747">U</text>
<circle cx="142.00" cy="266.42" r="2.25" fill="#dedede" stroke="#767676" stroke-width="0.5"/>
<text x="142.00" y="267.61" font-size="3.3" text-anchor="middle" fill="#474747">C</text>
<circle cx="142.00" cy="272.96" r="2.25" fill="#dedede" stroke="#767676" stroke-width="0.5"/>
<text x="142.00" y="274.14" font-size="3.3" text-anchor="middle" fill="#474747">U</text>
<circle cx="142.00" cy="279.49" r="2.25" fill="#dedede" stroke="#767676" stroke-width="0.5"/>
<text x="142.00" y="280.68" font-size="3.3" text-anchor="middle" fill="#474747">A</text>
<line x1="131.10" y1="283.69" x2="131.10" y2="285.49" stroke="#888" stroke-width="0.4" />
<line x1="142.00" y1="283.69" x2="142.00" y2="285.49" stroke="#888" stroke-width="0.4" />
<text x="131.10" y="291.09" font-size="5.2" text-anchor="middle" font-weight="normal" fill="#231f20" >1</text>
<text x="142.30" y="291.09" font-size="5.2" text-anchor="middle" font-weight="normal" fill="#231f20" textLength="4.6" lengthAdjust="spacingAndGlyphs">31</text>
<polyline points="179.25,279.97 179.25,273.44 179.25,266.91 179.25,260.38 179.25,253.85 179.25,247.32 179.25,240.79 179.25,234.26 179.25,227.73 179.25,221.20 177.00,215.80 179.25,210.50 179.25,203.90 179.25,197.00 179.25,191.60 184.70,188.10 190.15,191.60 190.15,197.00 190.15,203.90 190.15,210.50 192.40,215.80 190.15,221.20 190.15,227.73 190.15,234.26 190.15,240.79 190.15,247.32 190.15,253.85 190.15,260.38 190.15,266.91 190.15,273.44 190.15,279.97" fill="none" stroke="#9a9a9a" stroke-width="0.45"/>
<line x1="181.28" y1="279.97" x2="188.12" y2="279.97" stroke="#6f90d2" stroke-width="0.6" />
<line x1="181.28" y1="273.44" x2="188.12" y2="273.44" stroke="#aec2e8" stroke-width="0.6" />
<line x1="181.28" y1="266.91" x2="188.12" y2="266.91" stroke="#6f90d2" stroke-width="0.6" />
<line x1="181.28" y1="260.38" x2="188.12" y2="260.38" stroke="#6f90d2" stroke-width="0.6" />
<line x1="181.28" y1="253.85" x2="188.12" y2="253.85" stroke="#6f90d2" stroke-width="0.6" />
<line x1="181.28" y1="247.32" x2="188.12" y2="247.32" stroke="#aec2e8" stroke-width="0.6" />
<line x1="181.28" y1="240.79" x2="188.12" y2="240.79" stroke="#6f90d2" stroke-width="0.6" />
<line x1="181.28" y1="234.26" x2="188.12" y2="234.26" stroke="#6f90d2" stroke-width="0.6" />
<line x1="181.28" y1="227.73" x2="188.12" y2="227.73" stroke="#6f90d2" stroke-width="0.6" />
<line x1="181.28" y1="221.20" x2="188.12" y2="221.20" stroke="#aec2e8" stroke-width="0.6" />
<line x1="181.28" y1="210.50" x2="188.12" y2="210.50" stroke="#6f90d2" stroke-width="0.6" />
<line x1="181.28" y1="203.90" x2="188.12" y2="203.90" stroke="#aec2e8" stroke-width="0.6" />
<line x1="181.28" y1="197.00" x2="188.12" y2="197.00" stroke="#6f90d2" stroke-width="0.6" />
<circle cx="179.25" cy="279.97" r="2.25" fill="#dedede" stroke="#767676" stroke-width="0.5"/>
<text x="179.25" y="281.16" font-size="3.3" text-anchor="middle" fill="#474747">U</text>
<circle cx="179.25" cy="273.44" r="2.25" fill="#dedede" stroke="#767676" stroke-width="0.5"/>
<text x="179.25" y="274.63" font-size="3.3" text-anchor="middle" fill="#474747">A</text>
<circle cx="179.25" cy="266.91" r="2.25" fill="#dedede" stroke="#767676" stroke-width="0.5"/>
<text x="179.25" y="268.10" font-size="3.3" text-anchor="middle" fill="#474747">G</text>
<circle cx="179.25" cy="260.38" r="2.25" fill="#dedede" stroke="#767676" stroke-width="0.5"/>
<text x="179.25" y="261.57" font-size="3.3" text-anchor="middle" fill="#474747">G</text>
<circle cx="179.25" cy="253.85" r="2.25" fill="#dedede" stroke="#767676" stroke-width="0.5"/>
<text x="179.25" y="255.04" font-size="3.3" text-anchor="middle" fill="#474747">G</text>
<circle cx="179.25" cy="247.32" r="2.25" fill="#dedede" stroke="#767676" stroke-width="0.5"/>
<text x="179.25" y="248.51" font-size="3.3" text-anchor="middle" fill="#474747">G</text>
<circle cx="179.25" cy="240.79" r="2.25" fill="#dedede" stroke="#767676" stroke-width="0.5"/>
<text x="179.25" y="241.98" font-size="3.3" text-anchor="middle" fill="#474747">G</text>
<circle cx="179.25" cy="234.26" r="2.25" fill="#dedede" stroke="#767676" stroke-width="0.5"/>
<text x="179.25" y="235.45" font-size="3.3" text-anchor="middle" fill="#474747">C</text>
<circle cx="179.25" cy="227.73" r="2.25" fill="#dedede" stroke="#767676" stroke-width="0.5"/>
<text x="179.25" y="228.92" font-size="3.3" text-anchor="middle" fill="#474747">U</text>
<circle cx="179.25" cy="221.20" r="2.45" fill="#c40f1b" stroke="#c40f1b" stroke-width="0.2"/>
<circle cx="177.00" cy="215.80" r="2.25" fill="#dedede" stroke="#767676" stroke-width="0.5"/>
<text x="177.00" y="216.99" font-size="3.3" text-anchor="middle" fill="#474747">C</text>
<circle cx="179.25" cy="210.50" r="2.25" fill="#dedede" stroke="#767676" stroke-width="0.5"/>
<text x="179.25" y="211.69" font-size="3.3" text-anchor="middle" fill="#474747">G</text>
<circle cx="179.25" cy="203.90" r="2.25" fill="#dedede" stroke="#767676" stroke-width="0.5"/>
<text x="179.25" y="205.09" font-size="3.3" text-anchor="middle" fill="#474747">C</text>
<circle cx="179.25" cy="197.00" r="2.25" fill="#dedede" stroke="#767676" stroke-width="0.5"/>
<text x="179.25" y="198.19" font-size="3.3" text-anchor="middle" fill="#474747">C</text>
<circle cx="179.25" cy="191.60" r="2.25" fill="#dedede" stroke="#767676" stroke-width="0.5"/>
<text x="179.25" y="192.79" font-size="3.3" text-anchor="middle" fill="#474747">U</text>
<circle cx="184.70" cy="188.10" r="2.25" fill="#dedede" stroke="#767676" stroke-width="0.5"/>
<text x="184.70" y="189.29" font-size="3.3" text-anchor="middle" fill="#474747">C</text>
<circle cx="190.15" cy="191.60" r="2.25" fill="#dedede" stroke="#767676" stroke-width="0.5"/>
<text x="190.15" y="192.79" font-size="3.3" text-anchor="middle" fill="#474747">U</text>
<circle cx="190.15" cy="197.00" r="2.25" fill="#dedede" stroke="#767676" stroke-width="0.5"/>
<text x="190.15" y="198.19" font-size="3.3" text-anchor="middle" fill="#474747">G</text>
<circle cx="190.15" cy="203.90" r="2.25" fill="#dedede" stroke="#767676" stroke-width="0.5"/>
<text x="190.15" y="205.09" font-size="3.3" text-anchor="middle" fill="#474747">G</text>
<circle cx="190.15" cy="210.50" r="2.25" fill="#dedede" stroke="#767676" stroke-width="0.5"/>
<text x="190.15" y="211.69" font-size="3.3" text-anchor="middle" fill="#474747">C</text>
<circle cx="192.40" cy="215.80" r="2.25" fill="#dedede" stroke="#767676" stroke-width="0.5"/>
<text x="192.40" y="216.99" font-size="3.3" text-anchor="middle" fill="#474747">C</text>
<circle cx="190.15" cy="221.20" r="2.25" fill="#dedede" stroke="#767676" stroke-width="0.5"/>
<text x="190.15" y="222.39" font-size="3.3" text-anchor="middle" fill="#474747">C</text>
<circle cx="190.15" cy="227.73" r="2.25" fill="#dedede" stroke="#767676" stroke-width="0.5"/>
<text x="190.15" y="228.92" font-size="3.3" text-anchor="middle" fill="#474747">A</text>
<circle cx="190.15" cy="234.26" r="2.25" fill="#dedede" stroke="#767676" stroke-width="0.5"/>
<text x="190.15" y="235.45" font-size="3.3" text-anchor="middle" fill="#474747">G</text>
<circle cx="190.15" cy="240.79" r="2.25" fill="#dedede" stroke="#767676" stroke-width="0.5"/>
<text x="190.15" y="241.98" font-size="3.3" text-anchor="middle" fill="#474747">C</text>
<circle cx="190.15" cy="247.32" r="2.25" fill="#dedede" stroke="#767676" stroke-width="0.5"/>
<text x="190.15" y="248.51" font-size="3.3" text-anchor="middle" fill="#474747">C</text>
<circle cx="190.15" cy="253.85" r="2.25" fill="#dedede" stroke="#767676" stroke-width="0.5"/>
<text x="190.15" y="255.04" font-size="3.3" text-anchor="middle" fill="#474747">C</text>
<circle cx="190.15" cy="260.38" r="2.25" fill="#dedede" stroke="#767676" stroke-width="0.5"/>
<text x="190.15" y="261.57" font-size="3.3" text-anchor="middle" fill="#474747">U</text>
<circle cx="190.15" cy="266.91" r="2.25" fill="#dedede" stroke="#767676" stroke-width="0.5"/>
<text x="190.15" y="268.10" font-size="3.3" text-anchor="middle" fill="#474747">C</text>
<circle cx="190.15" cy="273.44" r="2.25" fill="#dedede" stroke="#767676" stroke-width="0.5"/>
<text x="190.15" y="274.63" font-size="3.3" text-anchor="middle" fill="#474747">U</text>
<circle cx="190.15" cy="279.97" r="2.25" fill="#dedede" stroke="#767676" stroke-width="0.5"/>
<text x="190.15" y="281.16" font-size="3.3" text-anchor="middle" fill="#474747">A</text>
<line x1="179.25" y1="284.17" x2="179.25" y2="285.97" stroke="#888" stroke-width="0.4" />
<line x1="190.15" y1="284.17" x2="190.15" y2="285.97" stroke="#888" stroke-width="0.4" />
<text x="179.25" y="291.57" font-size="5.2" text-anchor="middle" font-weight="normal" fill="#231f20" >1</text>
<text x="190.45" y="291.57" font-size="5.2" text-anchor="middle" font-weight="normal" fill="#231f20" textLength="4.6" lengthAdjust="spacingAndGlyphs">31</text>
<polyline points="208.05,279.97 208.05,273.44 208.05,266.91 208.05,260.38 208.05,253.85 208.05,247.32 208.05,240.79 208.05,234.26 208.05,227.73 208.05,221.20 205.80,215.80 208.05,210.50 208.05,203.90 208.05,197.00 208.05,191.60 213.50,188.10 218.95,191.60 218.95,197.00 218.95,203.90 218.95,210.50 221.20,215.80 218.95,221.20 218.95,227.73 218.95,234.26 218.95,240.79 218.95,247.32 218.95,253.85 218.95,260.38 218.95,266.91 218.95,273.44 218.95,279.97" fill="none" stroke="#9a9a9a" stroke-width="0.45"/>
<line x1="210.08" y1="279.97" x2="216.92" y2="279.97" stroke="#6f90d2" stroke-width="0.6" />
<line x1="210.08" y1="273.44" x2="216.92" y2="273.44" stroke="#aec2e8" stroke-width="0.6" />
<line x1="210.08" y1="266.91" x2="216.92" y2="266.91" stroke="#6f90d2" stroke-width="0.6" />
<line x1="210.08" y1="260.38" x2="216.92" y2="260.38" stroke="#6f90d2" stroke-width="0.6" />
<line x1="210.08" y1="253.85" x2="216.92" y2="253.85" stroke="#6f90d2" stroke-width="0.6" />
<line x1="210.08" y1="247.32" x2="216.92" y2="247.32" stroke="#aec2e8" stroke-width="0.6" />
<line x1="210.08" y1="240.79" x2="216.92" y2="240.79" stroke="#6f90d2" stroke-width="0.6" />
<line x1="210.08" y1="234.26" x2="216.92" y2="234.26" stroke="#6f90d2" stroke-width="0.6" />
<line x1="210.08" y1="227.73" x2="216.92" y2="227.73" stroke="#6f90d2" stroke-width="0.6" />
<line x1="210.08" y1="221.20" x2="216.92" y2="221.20" stroke="#aec2e8" stroke-width="0.6" />
<line x1="210.08" y1="210.50" x2="216.92" y2="210.50" stroke="#6f90d2" stroke-width="0.6" />
<line x1="210.08" y1="203.90" x2="216.92" y2="203.90" stroke="#aec2e8" stroke-width="0.6" />
<line x1="210.08" y1="197.00" x2="216.92" y2="197.00" stroke="#6f90d2" stroke-width="0.6" />
<circle cx="208.05" cy="279.97" r="2.25" fill="#dedede" stroke="#767676" stroke-width="0.5"/>
<text x="208.05" y="281.16" font-size="3.3" text-anchor="middle" fill="#474747">U</text>
<circle cx="208.05" cy="273.44" r="2.25" fill="#dedede" stroke="#767676" stroke-width="0.5"/>
<text x="208.05" y="274.63" font-size="3.3" text-anchor="middle" fill="#474747">A</text>
<circle cx="208.05" cy="266.91" r="2.25" fill="#dedede" stroke="#767676" stroke-width="0.5"/>
<text x="208.05" y="268.10" font-size="3.3" text-anchor="middle" fill="#474747">G</text>
<circle cx="208.05" cy="260.38" r="2.25" fill="#dedede" stroke="#767676" stroke-width="0.5"/>
<text x="208.05" y="261.57" font-size="3.3" text-anchor="middle" fill="#474747">G</text>
<circle cx="208.05" cy="253.85" r="2.25" fill="#dedede" stroke="#767676" stroke-width="0.5"/>
<text x="208.05" y="255.04" font-size="3.3" text-anchor="middle" fill="#474747">G</text>
<circle cx="208.05" cy="247.32" r="2.25" fill="#dedede" stroke="#767676" stroke-width="0.5"/>
<text x="208.05" y="248.51" font-size="3.3" text-anchor="middle" fill="#474747">G</text>
<circle cx="208.05" cy="240.79" r="2.25" fill="#dedede" stroke="#767676" stroke-width="0.5"/>
<text x="208.05" y="241.98" font-size="3.3" text-anchor="middle" fill="#474747">G</text>
<circle cx="208.05" cy="234.26" r="2.25" fill="#dedede" stroke="#767676" stroke-width="0.5"/>
<text x="208.05" y="235.45" font-size="3.3" text-anchor="middle" fill="#474747">C</text>
<circle cx="208.05" cy="227.73" r="2.25" fill="#dedede" stroke="#767676" stroke-width="0.5"/>
<text x="208.05" y="228.92" font-size="3.3" text-anchor="middle" fill="#474747">U</text>
<circle cx="208.05" cy="221.20" r="2.25" fill="#dedede" stroke="#767676" stroke-width="0.5"/>
<text x="208.05" y="222.39" font-size="3.3" text-anchor="middle" fill="#474747">U</text>
<circle cx="205.80" cy="215.80" r="2.25" fill="#dedede" stroke="#767676" stroke-width="0.5"/>
<text x="205.80" y="216.99" font-size="3.3" text-anchor="middle" fill="#474747">C</text>
<circle cx="208.05" cy="210.50" r="2.25" fill="#dedede" stroke="#767676" stroke-width="0.5"/>
<text x="208.05" y="211.69" font-size="3.3" text-anchor="middle" fill="#474747">G</text>
<circle cx="208.05" cy="203.90" r="2.25" fill="#dedede" stroke="#767676" stroke-width="0.5"/>
<text x="208.05" y="205.09" font-size="3.3" text-anchor="middle" fill="#474747">C</text>
<circle cx="208.05" cy="197.00" r="2.25" fill="#dedede" stroke="#767676" stroke-width="0.5"/>
<text x="208.05" y="198.19" font-size="3.3" text-anchor="middle" fill="#474747">C</text>
<circle cx="208.05" cy="191.60" r="2.25" fill="#dedede" stroke="#767676" stroke-width="0.5"/>
<text x="208.05" y="192.79" font-size="3.3" text-anchor="middle" fill="#474747">U</text>
<circle cx="213.50" cy="188.10" r="2.25" fill="#dedede" stroke="#767676" stroke-width="0.5"/>
<text x="213.50" y="189.29" font-size="3.3" text-anchor="middle" fill="#474747">C</text>
<circle cx="218.95" cy="191.60" r="2.25" fill="#dedede" stroke="#767676" stroke-width="0.5"/>
<text x="218.95" y="192.79" font-size="3.3" text-anchor="middle" fill="#474747">U</text>
<circle cx="218.95" cy="197.00" r="2.25" fill="#dedede" stroke="#767676" stroke-width="0.5"/>
<text x="218.95" y="198.19" font-size="3.3" text-anchor="middle" fill="#474747">G</text>
<circle cx="218.95" cy="203.90" r="2.25" fill="#dedede" stroke="#767676" stroke-width="0.5"/>
<text x="218.95" y="205.09" font-size="3.3" text-anchor="middle" fill="#474747">G</text>
<circle cx="218.95" cy="210.50" r="2.25" fill="#dedede" stroke="#767676" stroke-width="0.5"/>
<text x="218.95" y="211.69" font-size="3.3" text-anchor="middle" fill="#474747">C</text>
<circle cx="221.20" cy="215.80" r="2.25" fill="#dedede" stroke="#767676" stroke-width="0.5"/>
<text x="221.20" y="216.99" font-size="3.3" text-anchor="middle" fill="#474747">C</text>
<circle cx="218.95" cy="221.20" r="2.45" fill="#e8a526" stroke="#e8a526" stroke-width="0.2"/>
<circle cx="218.95" cy="227.73" r="2.25" fill="#dedede" stroke="#767676" stroke-width="0.5"/>
<text x="218.95" y="228.92" font-size="3.3" text-anchor="middle" fill="#474747">A</text>
<circle cx="218.95" cy="234.26" r="2.25" fill="#dedede" stroke="#767676" stroke-width="0.5"/>
<text x="218.95" y="235.45" font-size="3.3" text-anchor="middle" fill="#474747">G</text>
<circle cx="218.95" cy="240.79" r="2.25" fill="#dedede" stroke="#767676" stroke-width="0.5"/>
<text x="218.95" y="241.98" font-size="3.3" text-anchor="middle" fill="#474747">C</text>
<circle cx="218.95" cy="247.32" r="2.25" fill="#dedede" stroke="#767676" stroke-width="0.5"/>
<text x="218.95" y="248.51" font-size="3.3" text-anchor="middle" fill="#474747">C</text>
<circle cx="218.95" cy="253.85" r="2.25" fill="#dedede" stroke="#767676" stroke-width="0.5"/>
<text x="218.95" y="255.04" font-size="3.3" text-anchor="middle" fill="#474747">C</text>
<circle cx="218.95" cy="260.38" r="2.25" fill="#dedede" stroke="#767676" stroke-width="0.5"/>
<text x="218.95" y="261.57" font-size="3.3" text-anchor="middle" fill="#474747">U</text>
<circle cx="218.95" cy="266.91" r="2.25" fill="#dedede" stroke="#767676" stroke-width="0.5"/>
<text x="218.95" y="268.10" font-size="3.3" text-anchor="middle" fill="#474747">C</text>
<circle cx="218.95" cy="273.44" r="2.25" fill="#dedede" stroke="#767676" stroke-width="0.5"/>
<text x="218.95" y="274.63" font-size="3.3" text-anchor="middle" fill="#474747">U</text>
<circle cx="218.95" cy="279.97" r="2.25" fill="#dedede" stroke="#767676" stroke-width="0.5"/>
<text x="218.95" y="281.16" font-size="3.3" text-anchor="middle" fill="#474747">A</text>
<line x1="208.05" y1="284.17" x2="208.05" y2="285.97" stroke="#888" stroke-width="0.4" />
<line x1="218.95" y1="284.17" x2="218.95" y2="285.97" stroke="#888" stroke-width="0.4" />
<text x="208.05" y="291.57" font-size="5.2" text-anchor="middle" font-weight="normal" fill="#231f20" >1</text>
<text x="219.25" y="291.57" font-size="5.2" text-anchor="middle" font-weight="normal" fill="#231f20" textLength="4.6" lengthAdjust="spacingAndGlyphs">31</text>
<polyline points="236.95,279.97 236.95,273.44 236.95,266.91 236.95,260.38 236.95,253.85 236.95,247.32 236.95,240.79 236.95,234.26 236.95,227.73 236.95,221.20 234.70,215.80 236.95,210.50 236.95,203.90 236.95,197.00 236.95,191.60 242.40,188.10 247.85,191.60 247.85,197.00 247.85,203.90 247.85,210.50 250.10,215.80 247.85,221.20 247.85,227.73 247.85,234.26 247.85,240.79 247.85,247.32 247.85,253.85 247.85,260.38 247.85,266.91 247.85,273.44 247.85,279.97" fill="none" stroke="#9a9a9a" stroke-width="0.45"/>
<line x1="238.98" y1="279.97" x2="245.82" y2="279.97" stroke="#6f90d2" stroke-width="0.6" />
<line x1="238.98" y1="273.44" x2="245.82" y2="273.44" stroke="#aec2e8" stroke-width="0.6" />
<line x1="238.98" y1="266.91" x2="245.82" y2="266.91" stroke="#6f90d2" stroke-width="0.6" />
<line x1="238.98" y1="260.38" x2="245.82" y2="260.38" stroke="#6f90d2" stroke-width="0.6" />
<line x1="238.98" y1="253.85" x2="245.82" y2="253.85" stroke="#6f90d2" stroke-width="0.6" />
<line x1="238.98" y1="247.32" x2="245.82" y2="247.32" stroke="#aec2e8" stroke-width="0.6" />
<line x1="238.98" y1="240.79" x2="245.82" y2="240.79" stroke="#6f90d2" stroke-width="0.6" />
<line x1="238.98" y1="234.26" x2="245.82" y2="234.26" stroke="#6f90d2" stroke-width="0.6" />
<line x1="238.98" y1="227.73" x2="245.82" y2="227.73" stroke="#6f90d2" stroke-width="0.6" />
<line x1="238.98" y1="221.20" x2="245.82" y2="221.20" stroke="#aec2e8" stroke-width="0.6" />
<line x1="238.98" y1="210.50" x2="245.82" y2="210.50" stroke="#6f90d2" stroke-width="0.6" />
<line x1="238.98" y1="203.90" x2="245.82" y2="203.90" stroke="#aec2e8" stroke-width="0.6" />
<line x1="238.98" y1="197.00" x2="245.82" y2="197.00" stroke="#6f90d2" stroke-width="0.6" />
<circle cx="236.95" cy="279.97" r="2.25" fill="#dedede" stroke="#767676" stroke-width="0.5"/>
<text x="236.95" y="281.16" font-size="3.3" text-anchor="middle" fill="#474747">U</text>
<circle cx="236.95" cy="273.44" r="2.25" fill="#dedede" stroke="#767676" stroke-width="0.5"/>
<text x="236.95" y="274.63" font-size="3.3" text-anchor="middle" fill="#474747">A</text>
<circle cx="236.95" cy="266.91" r="2.25" fill="#dedede" stroke="#767676" stroke-width="0.5"/>
<text x="236.95" y="268.10" font-size="3.3" text-anchor="middle" fill="#474747">G</text>
<circle cx="236.95" cy="260.38" r="2.25" fill="#dedede" stroke="#767676" stroke-width="0.5"/>
<text x="236.95" y="261.57" font-size="3.3" text-anchor="middle" fill="#474747">G</text>
<circle cx="236.95" cy="253.85" r="2.25" fill="#dedede" stroke="#767676" stroke-width="0.5"/>
<text x="236.95" y="255.04" font-size="3.3" text-anchor="middle" fill="#474747">G</text>
<circle cx="236.95" cy="247.32" r="2.25" fill="#dedede" stroke="#767676" stroke-width="0.5"/>
<text x="236.95" y="248.51" font-size="3.3" text-anchor="middle" fill="#474747">G</text>
<circle cx="236.95" cy="240.79" r="2.25" fill="#dedede" stroke="#767676" stroke-width="0.5"/>
<text x="236.95" y="241.98" font-size="3.3" text-anchor="middle" fill="#474747">G</text>
<circle cx="236.95" cy="234.26" r="2.25" fill="#dedede" stroke="#767676" stroke-width="0.5"/>
<text x="236.95" y="235.45" font-size="3.3" text-anchor="middle" fill="#474747">C</text>
<circle cx="236.95" cy="227.73" r="2.25" fill="#dedede" stroke="#767676" stroke-width="0.5"/>
<text x="236.95" y="228.92" font-size="3.3" text-anchor="middle" fill="#474747">U</text>
<circle cx="236.95" cy="221.20" r="2.45" fill="#c40f1b" stroke="#c40f1b" stroke-width="0.2"/>
<circle cx="234.70" cy="215.80" r="2.25" fill="#dedede" stroke="#767676" stroke-width="0.5"/>
<text x="234.70" y="216.99" font-size="3.3" text-anchor="middle" fill="#474747">C</text>
<circle cx="236.95" cy="210.50" r="2.25" fill="#dedede" stroke="#767676" stroke-width="0.5"/>
<text x="236.95" y="211.69" font-size="3.3" text-anchor="middle" fill="#474747">G</text>
<circle cx="236.95" cy="203.90" r="2.25" fill="#dedede" stroke="#767676" stroke-width="0.5"/>
<text x="236.95" y="205.09" font-size="3.3" text-anchor="middle" fill="#474747">C</text>
<circle cx="236.95" cy="197.00" r="2.25" fill="#dedede" stroke="#767676" stroke-width="0.5"/>
<text x="236.95" y="198.19" font-size="3.3" text-anchor="middle" fill="#474747">C</text>
<circle cx="236.95" cy="191.60" r="2.25" fill="#dedede" stroke="#767676" stroke-width="0.5"/>
<text x="236.95" y="192.79" font-size="3.3" text-anchor="middle" fill="#474747">U</text>
<circle cx="242.40" cy="188.10" r="2.25" fill="#dedede" stroke="#767676" stroke-width="0.5"/>
<text x="242.40" y="189.29" font-size="3.3" text-anchor="middle" fill="#474747">C</text>
<circle cx="247.85" cy="191.60" r="2.25" fill="#dedede" stroke="#767676" stroke-width="0.5"/>
<text x="247.85" y="192.79" font-size="3.3" text-anchor="middle" fill="#474747">U</text>
<circle cx="247.85" cy="197.00" r="2.25" fill="#dedede" stroke="#767676" stroke-width="0.5"/>
<text x="247.85" y="198.19" font-size="3.3" text-anchor="middle" fill="#474747">G</text>
<circle cx="247.85" cy="203.90" r="2.25" fill="#dedede" stroke="#767676" stroke-width="0.5"/>
<text x="247.85" y="205.09" font-size="3.3" text-anchor="middle" fill="#474747">G</text>
<circle cx="247.85" cy="210.50" r="2.25" fill="#dedede" stroke="#767676" stroke-width="0.5"/>
<text x="247.85" y="211.69" font-size="3.3" text-anchor="middle" fill="#474747">C</text>
<circle cx="250.10" cy="215.80" r="2.25" fill="#dedede" stroke="#767676" stroke-width="0.5"/>
<text x="250.10" y="216.99" font-size="3.3" text-anchor="middle" fill="#474747">C</text>
<circle cx="247.85" cy="221.20" r="2.45" fill="#1b8ccc" stroke="#1b8ccc" stroke-width="0.2"/>
<circle cx="247.85" cy="227.73" r="2.25" fill="#dedede" stroke="#767676" stroke-width="0.5"/>
<text x="247.85" y="228.92" font-size="3.3" text-anchor="middle" fill="#474747">A</text>
<circle cx="247.85" cy="234.26" r="2.25" fill="#dedede" stroke="#767676" stroke-width="0.5"/>
<text x="247.85" y="235.45" font-size="3.3" text-anchor="middle" fill="#474747">G</text>
<circle cx="247.85" cy="240.79" r="2.25" fill="#dedede" stroke="#767676" stroke-width="0.5"/>
<text x="247.85" y="241.98" font-size="3.3" text-anchor="middle" fill="#474747">C</text>
<circle cx="247.85" cy="247.32" r="2.25" fill="#dedede" stroke="#767676" stroke-width="0.5"/>
<text x="247.85" y="248.51" font-size="3.3" text-anchor="middle" fill="#474747">C</text>
<circle cx="247.85" cy="253.85" r="2.25" fill="#dedede" stroke="#767676" stroke-width="0.5"/>
<text x="247.85" y="255.04" font-size="3.3" text-anchor="middle" fill="#474747">C</text>
<circle cx="247.85" cy="260.38" r="2.25" fill="#dedede" stroke="#767676" stroke-width="0.5"/>
<text x="247.85" y="261.57" font-size="3.3" text-anchor="middle" fill="#474747">U</text>
<circle cx="247.85" cy="266.91" r="2.25" fill="#dedede" stroke="#767676" stroke-width="0.5"/>
<text x="247.85" y="268.10" font-size="3.3" text-anchor="middle" fill="#474747">C</text>
<circle cx="247.85" cy="273.44" r="2.25" fill="#dedede" stroke="#767676" stroke-width="0.5"/>
<text x="247.85" y="274.63" font-size="3.3" text-anchor="middle" fill="#474747">U</text>
<circle cx="247.85" cy="279.97" r="2.25" fill="#dedede" stroke="#767676" stroke-width="0.5"/>
<text x="247.85" y="281.16" font-size="3.3" text-anchor="middle" fill="#474747">A</text>
<line x1="236.95" y1="284.17" x2="236.95" y2="285.97" stroke="#888" stroke-width="0.4" />
<line x1="247.85" y1="284.17" x2="247.85" y2="285.97" stroke="#888" stroke-width="0.4" />
<text x="236.95" y="291.57" font-size="5.2" text-anchor="middle" font-weight="normal" fill="#231f20" >1</text>
<text x="248.15" y="291.57" font-size="5.2" text-anchor="middle" font-weight="normal" fill="#231f20" textLength="4.6" lengthAdjust="spacingAndGlyphs">31</text>
<polyline points="265.85,279.97 265.85,273.44 265.85,266.91 265.85,260.38 265.85,253.85 265.85,247.32 265.85,240.79 265.85,234.26 265.85,227.73 265.85,221.20 263.60,215.80 265.85,210.50 265.85,203.90 265.85,197.00 265.85,191.60 271.30,188.10 276.75,191.60 276.75,197.00 276.75,203.90 276.75,210.50 279.00,215.80 276.75,221.20 276.75,227.73 276.75,234.26 276.75,240.79 276.75,247.32 276.75,253.85 276.75,260.38 276.75,266.91 276.75,273.44 276.75,279.97" fill="none" stroke="#9a9a9a" stroke-width="0.45"/>
<line x1="267.88" y1="279.97" x2="274.73" y2="279.97" stroke="#6f90d2" stroke-width="0.6" />
<line x1="267.88" y1="273.44" x2="274.73" y2="273.44" stroke="#aec2e8" stroke-width="0.6" />
<line x1="267.88" y1="266.91" x2="274.73" y2="266.91" stroke="#6f90d2" stroke-width="0.6" />
<line x1="267.88" y1="260.38" x2="274.73" y2="260.38" stroke="#6f90d2" stroke-width="0.6" />
<line x1="267.88" y1="253.85" x2="274.73" y2="253.85" stroke="#6f90d2" stroke-width="0.6" />
<line x1="267.88" y1="247.32" x2="274.73" y2="247.32" stroke="#aec2e8" stroke-width="0.6" />
<line x1="267.88" y1="240.79" x2="274.73" y2="240.79" stroke="#6f90d2" stroke-width="0.6" />
<line x1="267.88" y1="234.26" x2="274.73" y2="234.26" stroke="#6f90d2" stroke-width="0.6" />
<line x1="267.88" y1="227.73" x2="274.73" y2="227.73" stroke="#6f90d2" stroke-width="0.6" />
<line x1="267.88" y1="221.20" x2="274.73" y2="221.20" stroke="#aec2e8" stroke-width="0.6" />
<line x1="267.88" y1="210.50" x2="274.73" y2="210.50" stroke="#6f90d2" stroke-width="0.6" />
<line x1="267.88" y1="203.90" x2="274.73" y2="203.90" stroke="#aec2e8" stroke-width="0.6" />
<line x1="267.88" y1="197.00" x2="274.73" y2="197.00" stroke="#6f90d2" stroke-width="0.6" />
<circle cx="265.85" cy="279.97" r="2.25" fill="#dedede" stroke="#767676" stroke-width="0.5"/>
<text x="265.85" y="281.16" font-size="3.3" text-anchor="middle" fill="#474747">U</text>
<circle cx="265.85" cy="273.44" r="2.25" fill="#dedede" stroke="#767676" stroke-width="0.5"/>
<text x="265.85" y="274.63" font-size="3.3" text-anchor="middle" fill="#474747">A</text>
<circle cx="265.85" cy="266.91" r="2.25" fill="#dedede" stroke="#767676" stroke-width="0.5"/>
<text x="265.85" y="268.10" font-size="3.3" text-anchor="middle" fill="#474747">G</text>
<circle cx="265.85" cy="260.38" r="2.25" fill="#dedede" stroke="#767676" stroke-width="0.5"/>
<text x="265.85" y="261.57" font-size="3.3" text-anchor="middle" fill="#474747">G</text>
<circle cx="265.85" cy="253.85" r="2.25" fill="#dedede" stroke="#767676" stroke-width="0.5"/>
<text x="265.85" y="255.04" font-size="3.3" text-anchor="middle" fill="#474747">G</text>
<circle cx="265.85" cy="247.32" r="2.25" fill="#dedede" stroke="#767676" stroke-width="0.5"/>
<text x="265.85" y="248.51" font-size="3.3" text-anchor="middle" fill="#474747">G</text>
<circle cx="265.85" cy="240.79" r="2.25" fill="#dedede" stroke="#767676" stroke-width="0.5"/>
<text x="265.85" y="241.98" font-size="3.3" text-anchor="middle" fill="#474747">G</text>
<circle cx="265.85" cy="234.26" r="2.25" fill="#dedede" stroke="#767676" stroke-width="0.5"/>
<text x="265.85" y="235.45" font-size="3.3" text-anchor="middle" fill="#474747">C</text>
<circle cx="265.85" cy="227.73" r="2.25" fill="#dedede" stroke="#767676" stroke-width="0.5"/>
<text x="265.85" y="228.92" font-size="3.3" text-anchor="middle" fill="#474747">U</text>
<circle cx="265.85" cy="221.20" r="2.45" fill="#169a4e" stroke="#169a4e" stroke-width="0.2"/>
<circle cx="263.60" cy="215.80" r="2.45" fill="#e8a526" stroke="#e8a526" stroke-width="0.2"/>
<circle cx="265.85" cy="210.50" r="2.25" fill="#dedede" stroke="#767676" stroke-width="0.5"/>
<text x="265.85" y="211.69" font-size="3.3" text-anchor="middle" fill="#474747">G</text>
<circle cx="265.85" cy="203.90" r="2.25" fill="#dedede" stroke="#767676" stroke-width="0.5"/>
<text x="265.85" y="205.09" font-size="3.3" text-anchor="middle" fill="#474747">C</text>
<circle cx="265.85" cy="197.00" r="2.25" fill="#dedede" stroke="#767676" stroke-width="0.5"/>
<text x="265.85" y="198.19" font-size="3.3" text-anchor="middle" fill="#474747">C</text>
<circle cx="265.85" cy="191.60" r="2.25" fill="#dedede" stroke="#767676" stroke-width="0.5"/>
<text x="265.85" y="192.79" font-size="3.3" text-anchor="middle" fill="#474747">U</text>
<circle cx="271.30" cy="188.10" r="2.25" fill="#dedede" stroke="#767676" stroke-width="0.5"/>
<text x="271.30" y="189.29" font-size="3.3" text-anchor="middle" fill="#474747">C</text>
<circle cx="276.75" cy="191.60" r="2.25" fill="#dedede" stroke="#767676" stroke-width="0.5"/>
<text x="276.75" y="192.79" font-size="3.3" text-anchor="middle" fill="#474747">U</text>
<circle cx="276.75" cy="197.00" r="2.25" fill="#dedede" stroke="#767676" stroke-width="0.5"/>
<text x="276.75" y="198.19" font-size="3.3" text-anchor="middle" fill="#474747">G</text>
<circle cx="276.75" cy="203.90" r="2.25" fill="#dedede" stroke="#767676" stroke-width="0.5"/>
<text x="276.75" y="205.09" font-size="3.3" text-anchor="middle" fill="#474747">G</text>
<circle cx="276.75" cy="210.50" r="2.25" fill="#dedede" stroke="#767676" stroke-width="0.5"/>
<text x="276.75" y="211.69" font-size="3.3" text-anchor="middle" fill="#474747">C</text>
<circle cx="279.00" cy="215.80" r="2.45" fill="#e8a526" stroke="#e8a526" stroke-width="0.2"/>
<circle cx="276.75" cy="221.20" r="2.45" fill="#c40f1b" stroke="#c40f1b" stroke-width="0.2"/>
<circle cx="276.75" cy="227.73" r="2.25" fill="#dedede" stroke="#767676" stroke-width="0.5"/>
<text x="276.75" y="228.92" font-size="3.3" text-anchor="middle" fill="#474747">A</text>
<circle cx="276.75" cy="234.26" r="2.25" fill="#dedede" stroke="#767676" stroke-width="0.5"/>
<text x="276.75" y="235.45" font-size="3.3" text-anchor="middle" fill="#474747">G</text>
<circle cx="276.75" cy="240.79" r="2.25" fill="#dedede" stroke="#767676" stroke-width="0.5"/>
<text x="276.75" y="241.98" font-size="3.3" text-anchor="middle" fill="#474747">C</text>
<circle cx="276.75" cy="247.32" r="2.25" fill="#dedede" stroke="#767676" stroke-width="0.5"/>
<text x="276.75" y="248.51" font-size="3.3" text-anchor="middle" fill="#474747">C</text>
<circle cx="276.75" cy="253.85" r="2.25" fill="#dedede" stroke="#767676" stroke-width="0.5"/>
<text x="276.75" y="255.04" font-size="3.3" text-anchor="middle" fill="#474747">C</text>
<circle cx="276.75" cy="260.38" r="2.25" fill="#dedede" stroke="#767676" stroke-width="0.5"/>
<text x="276.75" y="261.57" font-size="3.3" text-anchor="middle" fill="#474747">U</text>
<circle cx="276.75" cy="266.91" r="2.25" fill="#dedede" stroke="#767676" stroke-width="0.5"/>
<text x="276.75" y="268.10" font-size="3.3" text-anchor="middle" fill="#474747">C</text>
<circle cx="276.75" cy="273.44" r="2.25" fill="#dedede" stroke="#767676" stroke-width="0.5"/>
<text x="276.75" y="274.63" font-size="3.3" text-anchor="middle" fill="#474747">U</text>
<circle cx="276.75" cy="279.97" r="2.25" fill="#dedede" stroke="#767676" stroke-width="0.5"/>
<text x="276.75" y="281.16" font-size="3.3" text-anchor="middle" fill="#474747">A</text>
<line x1="265.85" y1="284.17" x2="265.85" y2="285.97" stroke="#888" stroke-width="0.4" />
<line x1="276.75" y1="284.17" x2="276.75" y2="285.97" stroke="#888" stroke-width="0.4" />
<text x="265.85" y="291.57" font-size="5.2" text-anchor="middle" font-weight="normal" fill="#231f20" >1</text>
<text x="277.05" y="291.57" font-size="5.2" text-anchor="middle" font-weight="normal" fill="#231f20" textLength="4.6" lengthAdjust="spacingAndGlyphs">31</text>
<polyline points="308.85,279.40 308.85,272.80 308.85,266.20 308.85,259.60 308.85,253.00 308.85,246.40 308.85,239.80 308.85,233.20 308.85,226.60 306.40,221.40 308.85,215.90 308.85,209.30 308.85,202.80 308.85,196.40 308.85,190.30 314.30,187.20 319.75,190.30 319.75,196.40 319.75,202.80 319.75,209.30 319.75,215.90 322.20,221.40 319.75,226.60 319.75,233.20 319.75,239.80 319.75,246.40 319.75,253.00 319.75,259.60 319.75,266.20 319.75,272.80 319.75,279.40" fill="none" stroke="#9a9a9a" stroke-width="0.45"/>
<line x1="310.88" y1="279.40" x2="317.73" y2="279.40" stroke="#6f90d2" stroke-width="0.6" />
<line x1="310.88" y1="272.80" x2="317.73" y2="272.80" stroke="#aec2e8" stroke-width="0.6" />
<line x1="310.88" y1="266.20" x2="317.73" y2="266.20" stroke="#6f90d2" stroke-width="0.6" />
<line x1="310.88" y1="259.60" x2="317.73" y2="259.60" stroke="#6f90d2" stroke-width="0.6" />
<line x1="310.88" y1="253.00" x2="317.73" y2="253.00" stroke="#6f90d2" stroke-width="0.6" />
<line x1="310.88" y1="246.40" x2="317.73" y2="246.40" stroke="#aec2e8" stroke-width="0.6" />
<line x1="310.88" y1="239.80" x2="317.73" y2="239.80" stroke="#6f90d2" stroke-width="0.6" />
<line x1="310.88" y1="233.20" x2="317.73" y2="233.20" stroke="#6f90d2" stroke-width="0.6" />
<line x1="310.88" y1="226.60" x2="317.73" y2="226.60" stroke="#6f90d2" stroke-width="0.6" />
<line x1="310.88" y1="215.90" x2="317.73" y2="215.90" stroke="#6f90d2" stroke-width="0.6" />
<line x1="310.88" y1="209.30" x2="317.73" y2="209.30" stroke="#aec2e8" stroke-width="0.6" />
<line x1="310.88" y1="202.80" x2="317.73" y2="202.80" stroke="#6f90d2" stroke-width="0.6" />
<line x1="310.88" y1="196.40" x2="317.73" y2="196.40" stroke="#6f90d2" stroke-width="0.6" />
<circle cx="308.85" cy="279.40" r="2.25" fill="#dedede" stroke="#767676" stroke-width="0.5"/>
<text x="308.85" y="280.59" font-size="3.3" text-anchor="middle" fill="#474747">U</text>
<circle cx="308.85" cy="272.80" r="2.25" fill="#dedede" stroke="#767676" stroke-width="0.5"/>
<text x="308.85" y="273.99" font-size="3.3" text-anchor="middle" fill="#474747">A</text>
<circle cx="308.85" cy="266.20" r="2.25" fill="#dedede" stroke="#767676" stroke-width="0.5"/>
<text x="308.85" y="267.39" font-size="3.3" text-anchor="middle" fill="#474747">G</text>
<circle cx="308.85" cy="259.60" r="2.25" fill="#dedede" stroke="#767676" stroke-width="0.5"/>
<text x="308.85" y="260.79" font-size="3.3" text-anchor="middle" fill="#474747">G</text>
<circle cx="308.85" cy="253.00" r="2.25" fill="#dedede" stroke="#767676" stroke-width="0.5"/>
<text x="308.85" y="254.19" font-size="3.3" text-anchor="middle" fill="#474747">G</text>
<circle cx="308.85" cy="246.40" r="2.25" fill="#dedede" stroke="#767676" stroke-width="0.5"/>
<text x="308.85" y="247.59" font-size="3.3" text-anchor="middle" fill="#474747">G</text>
<circle cx="308.85" cy="239.80" r="2.25" fill="#dedede" stroke="#767676" stroke-width="0.5"/>
<text x="308.85" y="240.99" font-size="3.3" text-anchor="middle" fill="#474747">G</text>
<circle cx="308.85" cy="233.20" r="2.25" fill="#dedede" stroke="#767676" stroke-width="0.5"/>
<text x="308.85" y="234.39" font-size="3.3" text-anchor="middle" fill="#474747">C</text>
<circle cx="308.85" cy="226.60" r="2.25" fill="#dedede" stroke="#767676" stroke-width="0.5"/>
<text x="308.85" y="227.79" font-size="3.3" text-anchor="middle" fill="#474747">U</text>
<circle cx="306.40" cy="221.40" r="2.25" fill="#dedede" stroke="#767676" stroke-width="0.5"/>
<text x="306.40" y="222.59" font-size="3.3" text-anchor="middle" fill="#474747">U</text>
<circle cx="308.85" cy="215.90" r="2.45" fill="#c40f1b" stroke="#c40f1b" stroke-width="0.2"/>
<circle cx="308.85" cy="209.30" r="2.25" fill="#dedede" stroke="#767676" stroke-width="0.5"/>
<text x="308.85" y="210.49" font-size="3.3" text-anchor="middle" fill="#474747">G</text>
<circle cx="308.85" cy="202.80" r="2.25" fill="#dedede" stroke="#767676" stroke-width="0.5"/>
<text x="308.85" y="203.99" font-size="3.3" text-anchor="middle" fill="#474747">C</text>
<circle cx="308.85" cy="196.40" r="2.25" fill="#dedede" stroke="#767676" stroke-width="0.5"/>
<text x="308.85" y="197.59" font-size="3.3" text-anchor="middle" fill="#474747">C</text>
<circle cx="308.85" cy="190.30" r="2.25" fill="#dedede" stroke="#767676" stroke-width="0.5"/>
<text x="308.85" y="191.49" font-size="3.3" text-anchor="middle" fill="#474747">U</text>
<circle cx="314.30" cy="187.20" r="2.25" fill="#dedede" stroke="#767676" stroke-width="0.5"/>
<text x="314.30" y="188.39" font-size="3.3" text-anchor="middle" fill="#474747">C</text>
<circle cx="319.75" cy="190.30" r="2.25" fill="#dedede" stroke="#767676" stroke-width="0.5"/>
<text x="319.75" y="191.49" font-size="3.3" text-anchor="middle" fill="#474747">U</text>
<circle cx="319.75" cy="196.40" r="2.25" fill="#dedede" stroke="#767676" stroke-width="0.5"/>
<text x="319.75" y="197.59" font-size="3.3" text-anchor="middle" fill="#474747">G</text>
<circle cx="319.75" cy="202.80" r="2.25" fill="#dedede" stroke="#767676" stroke-width="0.5"/>
<text x="319.75" y="203.99" font-size="3.3" text-anchor="middle" fill="#474747">G</text>
<circle cx="319.75" cy="209.30" r="2.25" fill="#dedede" stroke="#767676" stroke-width="0.5"/>
<text x="319.75" y="210.49" font-size="3.3" text-anchor="middle" fill="#474747">C</text>
<circle cx="319.75" cy="215.90" r="2.25" fill="#dedede" stroke="#767676" stroke-width="0.5"/>
<text x="319.75" y="217.09" font-size="3.3" text-anchor="middle" fill="#474747">C</text>
<circle cx="322.20" cy="221.40" r="2.25" fill="#dedede" stroke="#767676" stroke-width="0.5"/>
<text x="322.20" y="222.59" font-size="3.3" text-anchor="middle" fill="#474747">C</text>
<circle cx="319.75" cy="226.60" r="2.25" fill="#dedede" stroke="#767676" stroke-width="0.5"/>
<text x="319.75" y="227.79" font-size="3.3" text-anchor="middle" fill="#474747">A</text>
<circle cx="319.75" cy="233.20" r="2.25" fill="#dedede" stroke="#767676" stroke-width="0.5"/>
<text x="319.75" y="234.39" font-size="3.3" text-anchor="middle" fill="#474747">G</text>
<circle cx="319.75" cy="239.80" r="2.25" fill="#dedede" stroke="#767676" stroke-width="0.5"/>
<text x="319.75" y="240.99" font-size="3.3" text-anchor="middle" fill="#474747">C</text>
<circle cx="319.75" cy="246.40" r="2.25" fill="#dedede" stroke="#767676" stroke-width="0.5"/>
<text x="319.75" y="247.59" font-size="3.3" text-anchor="middle" fill="#474747">C</text>
<circle cx="319.75" cy="253.00" r="2.25" fill="#dedede" stroke="#767676" stroke-width="0.5"/>
<text x="319.75" y="254.19" font-size="3.3" text-anchor="middle" fill="#474747">C</text>
<circle cx="319.75" cy="259.60" r="2.25" fill="#dedede" stroke="#767676" stroke-width="0.5"/>
<text x="319.75" y="260.79" font-size="3.3" text-anchor="middle" fill="#474747">U</text>
<circle cx="319.75" cy="266.20" r="2.25" fill="#dedede" stroke="#767676" stroke-width="0.5"/>
<text x="319.75" y="267.39" font-size="3.3" text-anchor="middle" fill="#474747">C</text>
<circle cx="319.75" cy="272.80" r="2.25" fill="#dedede" stroke="#767676" stroke-width="0.5"/>
<text x="319.75" y="273.99" font-size="3.3" text-anchor="middle" fill="#474747">U</text>
<circle cx="319.75" cy="279.40" r="2.25" fill="#dedede" stroke="#767676" stroke-width="0.5"/>
<text x="319.75" y="280.59" font-size="3.3" text-anchor="middle" fill="#474747">A</text>
<line x1="308.85" y1="283.60" x2="308.85" y2="285.40" stroke="#888" stroke-width="0.4" />
<line x1="319.75" y1="283.60" x2="319.75" y2="285.40" stroke="#888" stroke-width="0.4" />
<text x="308.85" y="291.00" font-size="5.2" text-anchor="middle" font-weight="normal" fill="#231f20" >1</text>
<text x="320.05" y="291.00" font-size="5.2" text-anchor="middle" font-weight="normal" fill="#231f20" textLength="4.6" lengthAdjust="spacingAndGlyphs">31</text>
<polyline points="337.15,279.40 337.15,272.80 337.15,266.20 337.15,259.60 337.15,253.00 337.15,246.40 337.15,239.80 337.15,233.20 337.15,226.60 334.70,221.40 337.15,215.90 337.15,209.30 337.15,202.80 337.15,196.40 337.15,190.30 342.60,187.20 348.05,190.30 348.05,196.40 348.05,202.80 348.05,209.30 348.05,215.90 350.50,221.40 348.05,226.60 348.05,233.20 348.05,239.80 348.05,246.40 348.05,253.00 348.05,259.60 348.05,266.20 348.05,272.80 348.05,279.40" fill="none" stroke="#9a9a9a" stroke-width="0.45"/>
<line x1="339.18" y1="279.40" x2="346.03" y2="279.40" stroke="#6f90d2" stroke-width="0.6" />
<line x1="339.18" y1="272.80" x2="346.03" y2="272.80" stroke="#aec2e8" stroke-width="0.6" />
<line x1="339.18" y1="266.20" x2="346.03" y2="266.20" stroke="#6f90d2" stroke-width="0.6" />
<line x1="339.18" y1="259.60" x2="346.03" y2="259.60" stroke="#6f90d2" stroke-width="0.6" />
<line x1="339.18" y1="253.00" x2="346.03" y2="253.00" stroke="#6f90d2" stroke-width="0.6" />
<line x1="339.18" y1="246.40" x2="346.03" y2="246.40" stroke="#aec2e8" stroke-width="0.6" />
<line x1="339.18" y1="239.80" x2="346.03" y2="239.80" stroke="#6f90d2" stroke-width="0.6" />
<line x1="339.18" y1="233.20" x2="346.03" y2="233.20" stroke="#6f90d2" stroke-width="0.6" />
<line x1="339.18" y1="226.60" x2="346.03" y2="226.60" stroke="#6f90d2" stroke-width="0.6" />
<line x1="339.18" y1="215.90" x2="346.03" y2="215.90" stroke="#6f90d2" stroke-width="0.6" />
<line x1="339.18" y1="209.30" x2="346.03" y2="209.30" stroke="#aec2e8" stroke-width="0.6" />
<line x1="339.18" y1="202.80" x2="346.03" y2="202.80" stroke="#6f90d2" stroke-width="0.6" />
<line x1="339.18" y1="196.40" x2="346.03" y2="196.40" stroke="#6f90d2" stroke-width="0.6" />
<circle cx="337.15" cy="279.40" r="2.25" fill="#dedede" stroke="#767676" stroke-width="0.5"/>
<text x="337.15" y="280.59" font-size="3.3" text-anchor="middle" fill="#474747">U</text>
<circle cx="337.15" cy="272.80" r="2.25" fill="#dedede" stroke="#767676" stroke-width="0.5"/>
<text x="337.15" y="273.99" font-size="3.3" text-anchor="middle" fill="#474747">A</text>
<circle cx="337.15" cy="266.20" r="2.25" fill="#dedede" stroke="#767676" stroke-width="0.5"/>
<text x="337.15" y="267.39" font-size="3.3" text-anchor="middle" fill="#474747">G</text>
<circle cx="337.15" cy="259.60" r="2.25" fill="#dedede" stroke="#767676" stroke-width="0.5"/>
<text x="337.15" y="260.79" font-size="3.3" text-anchor="middle" fill="#474747">G</text>
<circle cx="337.15" cy="253.00" r="2.25" fill="#dedede" stroke="#767676" stroke-width="0.5"/>
<text x="337.15" y="254.19" font-size="3.3" text-anchor="middle" fill="#474747">G</text>
<circle cx="337.15" cy="246.40" r="2.25" fill="#dedede" stroke="#767676" stroke-width="0.5"/>
<text x="337.15" y="247.59" font-size="3.3" text-anchor="middle" fill="#474747">G</text>
<circle cx="337.15" cy="239.80" r="2.25" fill="#dedede" stroke="#767676" stroke-width="0.5"/>
<text x="337.15" y="240.99" font-size="3.3" text-anchor="middle" fill="#474747">G</text>
<circle cx="337.15" cy="233.20" r="2.25" fill="#dedede" stroke="#767676" stroke-width="0.5"/>
<text x="337.15" y="234.39" font-size="3.3" text-anchor="middle" fill="#474747">C</text>
<circle cx="337.15" cy="226.60" r="2.25" fill="#dedede" stroke="#767676" stroke-width="0.5"/>
<text x="337.15" y="227.79" font-size="3.3" text-anchor="middle" fill="#474747">U</text>
<circle cx="334.70" cy="221.40" r="2.25" fill="#dedede" stroke="#767676" stroke-width="0.5"/>
<text x="334.70" y="222.59" font-size="3.3" text-anchor="middle" fill="#474747">U</text>
<circle cx="337.15" cy="215.90" r="2.25" fill="#dedede" stroke="#767676" stroke-width="0.5"/>
<text x="337.15" y="217.09" font-size="3.3" text-anchor="middle" fill="#474747">C</text>
<circle cx="337.15" cy="209.30" r="2.25" fill="#dedede" stroke="#767676" stroke-width="0.5"/>
<text x="337.15" y="210.49" font-size="3.3" text-anchor="middle" fill="#474747">G</text>
<circle cx="337.15" cy="202.80" r="2.25" fill="#dedede" stroke="#767676" stroke-width="0.5"/>
<text x="337.15" y="203.99" font-size="3.3" text-anchor="middle" fill="#474747">C</text>
<circle cx="337.15" cy="196.40" r="2.25" fill="#dedede" stroke="#767676" stroke-width="0.5"/>
<text x="337.15" y="197.59" font-size="3.3" text-anchor="middle" fill="#474747">C</text>
<circle cx="337.15" cy="190.30" r="2.25" fill="#dedede" stroke="#767676" stroke-width="0.5"/>
<text x="337.15" y="191.49" font-size="3.3" text-anchor="middle" fill="#474747">U</text>
<circle cx="342.60" cy="187.20" r="2.25" fill="#dedede" stroke="#767676" stroke-width="0.5"/>
<text x="342.60" y="188.39" font-size="3.3" text-anchor="middle" fill="#474747">C</text>
<circle cx="348.05" cy="190.30" r="2.25" fill="#dedede" stroke="#767676" stroke-width="0.5"/>
<text x="348.05" y="191.49" font-size="3.3" text-anchor="middle" fill="#474747">U</text>
<circle cx="348.05" cy="196.40" r="2.25" fill="#dedede" stroke="#767676" stroke-width="0.5"/>
<text x="348.05" y="197.59" font-size="3.3" text-anchor="middle" fill="#474747">G</text>
<circle cx="348.05" cy="202.80" r="2.25" fill="#dedede" stroke="#767676" stroke-width="0.5"/>
<text x="348.05" y="203.99" font-size="3.3" text-anchor="middle" fill="#474747">G</text>
<circle cx="348.05" cy="209.30" r="2.25" fill="#dedede" stroke="#767676" stroke-width="0.5"/>
<text x="348.05" y="210.49" font-size="3.3" text-anchor="middle" fill="#474747">C</text>
<circle cx="348.05" cy="215.90" r="2.45" fill="#c40f1b" stroke="#c40f1b" stroke-width="0.2"/>
<circle cx="350.50" cy="221.40" r="2.25" fill="#dedede" stroke="#767676" stroke-width="0.5"/>
<text x="350.50" y="222.59" font-size="3.3" text-anchor="middle" fill="#474747">C</text>
<circle cx="348.05" cy="226.60" r="2.25" fill="#dedede" stroke="#767676" stroke-width="0.5"/>
<text x="348.05" y="227.79" font-size="3.3" text-anchor="middle" fill="#474747">A</text>
<circle cx="348.05" cy="233.20" r="2.25" fill="#dedede" stroke="#767676" stroke-width="0.5"/>
<text x="348.05" y="234.39" font-size="3.3" text-anchor="middle" fill="#474747">G</text>
<circle cx="348.05" cy="239.80" r="2.25" fill="#dedede" stroke="#767676" stroke-width="0.5"/>
<text x="348.05" y="240.99" font-size="3.3" text-anchor="middle" fill="#474747">C</text>
<circle cx="348.05" cy="246.40" r="2.25" fill="#dedede" stroke="#767676" stroke-width="0.5"/>
<text x="348.05" y="247.59" font-size="3.3" text-anchor="middle" fill="#474747">C</text>
<circle cx="348.05" cy="253.00" r="2.25" fill="#dedede" stroke="#767676" stroke-width="0.5"/>
<text x="348.05" y="254.19" font-size="3.3" text-anchor="middle" fill="#474747">C</text>
<circle cx="348.05" cy="259.60" r="2.25" fill="#dedede" stroke="#767676" stroke-width="0.5"/>
<text x="348.05" y="260.79" font-size="3.3" text-anchor="middle" fill="#474747">U</text>
<circle cx="348.05" cy="266.20" r="2.25" fill="#dedede" stroke="#767676" stroke-width="0.5"/>
<text x="348.05" y="267.39" font-size="3.3" text-anchor="middle" fill="#474747">C</text>
<circle cx="348.05" cy="272.80" r="2.25" fill="#dedede" stroke="#767676" stroke-width="0.5"/>
<text x="348.05" y="273.99" font-size="3.3" text-anchor="middle" fill="#474747">U</text>
<circle cx="348.05" cy="279.40" r="2.25" fill="#dedede" stroke="#767676" stroke-width="0.5"/>
<text x="348.05" y="280.59" font-size="3.3" text-anchor="middle" fill="#474747">A</text>
<line x1="337.15" y1="283.60" x2="337.15" y2="285.40" stroke="#888" stroke-width="0.4" />
<line x1="348.05" y1="283.60" x2="348.05" y2="285.40" stroke="#888" stroke-width="0.4" />
<text x="337.15" y="291.00" font-size="5.2" text-anchor="middle" font-weight="normal" fill="#231f20" >1</text>
<text x="348.35" y="291.00" font-size="5.2" text-anchor="middle" font-weight="normal" fill="#231f20" textLength="4.6" lengthAdjust="spacingAndGlyphs">31</text>
<polyline points="365.55,279.40 365.55,272.80 365.55,266.20 365.55,259.60 365.55,253.00 365.55,246.40 365.55,239.80 365.55,233.20 365.55,226.60 363.10,221.40 365.55,215.90 365.55,209.30 365.55,202.80 365.55,196.40 365.55,190.30 371.00,187.20 376.45,190.30 376.45,196.40 376.45,202.80 376.45,209.30 376.45,215.90 378.90,221.40 376.45,226.60 376.45,233.20 376.45,239.80 376.45,246.40 376.45,253.00 376.45,259.60 376.45,266.20 376.45,272.80 376.45,279.40" fill="none" stroke="#9a9a9a" stroke-width="0.45"/>
<line x1="367.57" y1="279.40" x2="374.43" y2="279.40" stroke="#6f90d2" stroke-width="0.6" />
<line x1="367.57" y1="272.80" x2="374.43" y2="272.80" stroke="#aec2e8" stroke-width="0.6" />
<line x1="367.57" y1="266.20" x2="374.43" y2="266.20" stroke="#6f90d2" stroke-width="0.6" />
<line x1="367.57" y1="259.60" x2="374.43" y2="259.60" stroke="#6f90d2" stroke-width="0.6" />
<line x1="367.57" y1="253.00" x2="374.43" y2="253.00" stroke="#6f90d2" stroke-width="0.6" />
<line x1="367.57" y1="246.40" x2="374.43" y2="246.40" stroke="#aec2e8" stroke-width="0.6" />
<line x1="367.57" y1="239.80" x2="374.43" y2="239.80" stroke="#6f90d2" stroke-width="0.6" />
<line x1="367.57" y1="233.20" x2="374.43" y2="233.20" stroke="#6f90d2" stroke-width="0.6" />
<line x1="367.57" y1="226.60" x2="374.43" y2="226.60" stroke="#6f90d2" stroke-width="0.6" />
<line x1="367.57" y1="215.90" x2="374.43" y2="215.90" stroke="#6f90d2" stroke-width="0.6" />
<line x1="367.57" y1="209.30" x2="374.43" y2="209.30" stroke="#aec2e8" stroke-width="0.6" />
<line x1="367.57" y1="202.80" x2="374.43" y2="202.80" stroke="#6f90d2" stroke-width="0.6" />
<line x1="367.57" y1="196.40" x2="374.43" y2="196.40" stroke="#6f90d2" stroke-width="0.6" />
<circle cx="365.55" cy="279.40" r="2.25" fill="#dedede" stroke="#767676" stroke-width="0.5"/>
<text x="365.55" y="280.59" font-size="3.3" text-anchor="middle" fill="#474747">U</text>
<circle cx="365.55" cy="272.80" r="2.25" fill="#dedede" stroke="#767676" stroke-width="0.5"/>
<text x="365.55" y="273.99" font-size="3.3" text-anchor="middle" fill="#474747">A</text>
<circle cx="365.55" cy="266.20" r="2.25" fill="#dedede" stroke="#767676" stroke-width="0.5"/>
<text x="365.55" y="267.39" font-size="3.3" text-anchor="middle" fill="#474747">G</text>
<circle cx="365.55" cy="259.60" r="2.25" fill="#dedede" stroke="#767676" stroke-width="0.5"/>
<text x="365.55" y="260.79" font-size="3.3" text-anchor="middle" fill="#474747">G</text>
<circle cx="365.55" cy="253.00" r="2.25" fill="#dedede" stroke="#767676" stroke-width="0.5"/>
<text x="365.55" y="254.19" font-size="3.3" text-anchor="middle" fill="#474747">G</text>
<circle cx="365.55" cy="246.40" r="2.25" fill="#dedede" stroke="#767676" stroke-width="0.5"/>
<text x="365.55" y="247.59" font-size="3.3" text-anchor="middle" fill="#474747">G</text>
<circle cx="365.55" cy="239.80" r="2.25" fill="#dedede" stroke="#767676" stroke-width="0.5"/>
<text x="365.55" y="240.99" font-size="3.3" text-anchor="middle" fill="#474747">G</text>
<circle cx="365.55" cy="233.20" r="2.25" fill="#dedede" stroke="#767676" stroke-width="0.5"/>
<text x="365.55" y="234.39" font-size="3.3" text-anchor="middle" fill="#474747">C</text>
<circle cx="365.55" cy="226.60" r="2.25" fill="#dedede" stroke="#767676" stroke-width="0.5"/>
<text x="365.55" y="227.79" font-size="3.3" text-anchor="middle" fill="#474747">U</text>
<circle cx="363.10" cy="221.40" r="2.25" fill="#dedede" stroke="#767676" stroke-width="0.5"/>
<text x="363.10" y="222.59" font-size="3.3" text-anchor="middle" fill="#474747">U</text>
<circle cx="365.55" cy="215.90" r="2.45" fill="#1b8ccc" stroke="#1b8ccc" stroke-width="0.2"/>
<circle cx="365.55" cy="209.30" r="2.25" fill="#dedede" stroke="#767676" stroke-width="0.5"/>
<text x="365.55" y="210.49" font-size="3.3" text-anchor="middle" fill="#474747">G</text>
<circle cx="365.55" cy="202.80" r="2.25" fill="#dedede" stroke="#767676" stroke-width="0.5"/>
<text x="365.55" y="203.99" font-size="3.3" text-anchor="middle" fill="#474747">C</text>
<circle cx="365.55" cy="196.40" r="2.25" fill="#dedede" stroke="#767676" stroke-width="0.5"/>
<text x="365.55" y="197.59" font-size="3.3" text-anchor="middle" fill="#474747">C</text>
<circle cx="365.55" cy="190.30" r="2.25" fill="#dedede" stroke="#767676" stroke-width="0.5"/>
<text x="365.55" y="191.49" font-size="3.3" text-anchor="middle" fill="#474747">U</text>
<circle cx="371.00" cy="187.20" r="2.25" fill="#dedede" stroke="#767676" stroke-width="0.5"/>
<text x="371.00" y="188.39" font-size="3.3" text-anchor="middle" fill="#474747">C</text>
<circle cx="376.45" cy="190.30" r="2.25" fill="#dedede" stroke="#767676" stroke-width="0.5"/>
<text x="376.45" y="191.49" font-size="3.3" text-anchor="middle" fill="#474747">U</text>
<circle cx="376.45" cy="196.40" r="2.25" fill="#dedede" stroke="#767676" stroke-width="0.5"/>
<text x="376.45" y="197.59" font-size="3.3" text-anchor="middle" fill="#474747">G</text>
<circle cx="376.45" cy="202.80" r="2.25" fill="#dedede" stroke="#767676" stroke-width="0.5"/>
<text x="376.45" y="203.99" font-size="3.3" text-anchor="middle" fill="#474747">G</text>
<circle cx="376.45" cy="209.30" r="2.25" fill="#dedede" stroke="#767676" stroke-width="0.5"/>
<text x="376.45" y="210.49" font-size="3.3" text-anchor="middle" fill="#474747">C</text>
<circle cx="376.45" cy="215.90" r="2.45" fill="#c40f1b" stroke="#c40f1b" stroke-width="0.2"/>
<circle cx="378.90" cy="221.40" r="2.25" fill="#dedede" stroke="#767676" stroke-width="0.5"/>
<text x="378.90" y="222.59" font-size="3.3" text-anchor="middle" fill="#474747">C</text>
<circle cx="376.45" cy="226.60" r="2.25" fill="#dedede" stroke="#767676" stroke-width="0.5"/>
<text x="376.45" y="227.79" font-size="3.3" text-anchor="middle" fill="#474747">A</text>
<circle cx="376.45" cy="233.20" r="2.25" fill="#dedede" stroke="#767676" stroke-width="0.5"/>
<text x="376.45" y="234.39" font-size="3.3" text-anchor="middle" fill="#474747">G</text>
<circle cx="376.45" cy="239.80" r="2.25" fill="#dedede" stroke="#767676" stroke-width="0.5"/>
<text x="376.45" y="240.99" font-size="3.3" text-anchor="middle" fill="#474747">C</text>
<circle cx="376.45" cy="246.40" r="2.25" fill="#dedede" stroke="#767676" stroke-width="0.5"/>
<text x="376.45" y="247.59" font-size="3.3" text-anchor="middle" fill="#474747">C</text>
<circle cx="376.45" cy="253.00" r="2.25" fill="#dedede" stroke="#767676" stroke-width="0.5"/>
<text x="376.45" y="254.19" font-size="3.3" text-anchor="middle" fill="#474747">C</text>
<circle cx="376.45" cy="259.60" r="2.25" fill="#dedede" stroke="#767676" stroke-width="0.5"/>
<text x="376.45" y="260.79" font-size="3.3" text-anchor="middle" fill="#474747">U</text>
<circle cx="376.45" cy="266.20" r="2.25" fill="#dedede" stroke="#767676" stroke-width="0.5"/>
<text x="376.45" y="267.39" font-size="3.3" text-anchor="middle" fill="#474747">C</text>
<circle cx="376.45" cy="272.80" r="2.25" fill="#dedede" stroke="#767676" stroke-width="0.5"/>
<text x="376.45" y="273.99" font-size="3.3" text-anchor="middle" fill="#474747">U</text>
<circle cx="376.45" cy="279.40" r="2.25" fill="#dedede" stroke="#767676" stroke-width="0.5"/>
<text x="376.45" y="280.59" font-size="3.3" text-anchor="middle" fill="#474747">A</text>
<line x1="365.55" y1="283.60" x2="365.55" y2="285.40" stroke="#888" stroke-width="0.4" />
<line x1="376.45" y1="283.60" x2="376.45" y2="285.40" stroke="#888" stroke-width="0.4" />
<text x="365.55" y="291.00" font-size="5.2" text-anchor="middle" font-weight="normal" fill="#231f20" >1</text>
<text x="376.75" y="291.00" font-size="5.2" text-anchor="middle" font-weight="normal" fill="#231f20" textLength="4.6" lengthAdjust="spacingAndGlyphs">31</text>
<polyline points="393.95,279.40 393.95,272.80 393.95,266.20 393.95,259.60 393.95,253.00 393.95,246.40 393.95,239.80 393.95,233.20 393.95,226.60 391.50,221.40 393.95,215.90 393.95,209.30 393.95,202.80 393.95,196.40 393.95,190.30 399.40,187.20 404.85,190.30 404.85,196.40 404.85,202.80 404.85,209.30 404.85,215.90 407.30,221.40 404.85,226.60 404.85,233.20 404.85,239.80 404.85,246.40 404.85,253.00 404.85,259.60 404.85,266.20 404.85,272.80 404.85,279.40" fill="none" stroke="#9a9a9a" stroke-width="0.45"/>
<line x1="395.97" y1="279.40" x2="402.82" y2="279.40" stroke="#6f90d2" stroke-width="0.6" />
<line x1="395.97" y1="272.80" x2="402.82" y2="272.80" stroke="#aec2e8" stroke-width="0.6" />
<line x1="395.97" y1="266.20" x2="402.82" y2="266.20" stroke="#6f90d2" stroke-width="0.6" />
<line x1="395.97" y1="259.60" x2="402.82" y2="259.60" stroke="#6f90d2" stroke-width="0.6" />
<line x1="395.97" y1="253.00" x2="402.82" y2="253.00" stroke="#6f90d2" stroke-width="0.6" />
<line x1="395.97" y1="246.40" x2="402.82" y2="246.40" stroke="#aec2e8" stroke-width="0.6" />
<line x1="395.97" y1="239.80" x2="402.82" y2="239.80" stroke="#6f90d2" stroke-width="0.6" />
<line x1="395.97" y1="233.20" x2="402.82" y2="233.20" stroke="#6f90d2" stroke-width="0.6" />
<line x1="395.97" y1="226.60" x2="402.82" y2="226.60" stroke="#6f90d2" stroke-width="0.6" />
<line x1="395.97" y1="215.90" x2="402.82" y2="215.90" stroke="#6f90d2" stroke-width="0.6" />
<line x1="395.97" y1="209.30" x2="402.82" y2="209.30" stroke="#aec2e8" stroke-width="0.6" />
<line x1="395.97" y1="202.80" x2="402.82" y2="202.80" stroke="#6f90d2" stroke-width="0.6" />
<line x1="395.97" y1="196.40" x2="402.82" y2="196.40" stroke="#6f90d2" stroke-width="0.6" />
<circle cx="393.95" cy="279.40" r="2.25" fill="#dedede" stroke="#767676" stroke-width="0.5"/>
<text x="393.95" y="280.59" font-size="3.3" text-anchor="middle" fill="#474747">U</text>
<circle cx="393.95" cy="272.80" r="2.25" fill="#dedede" stroke="#767676" stroke-width="0.5"/>
<text x="393.95" y="273.99" font-size="3.3" text-anchor="middle" fill="#474747">A</text>
<circle cx="393.95" cy="266.20" r="2.25" fill="#dedede" stroke="#767676" stroke-width="0.5"/>
<text x="393.95" y="267.39" font-size="3.3" text-anchor="middle" fill="#474747">G</text>
<circle cx="393.95" cy="259.60" r="2.25" fill="#dedede" stroke="#767676" stroke-width="0.5"/>
<text x="393.95" y="260.79" font-size="3.3" text-anchor="middle" fill="#474747">G</text>
<circle cx="393.95" cy="253.00" r="2.25" fill="#dedede" stroke="#767676" stroke-width="0.5"/>
<text x="393.95" y="254.19" font-size="3.3" text-anchor="middle" fill="#474747">G</text>
<circle cx="393.95" cy="246.40" r="2.25" fill="#dedede" stroke="#767676" stroke-width="0.5"/>
<text x="393.95" y="247.59" font-size="3.3" text-anchor="middle" fill="#474747">G</text>
<circle cx="393.95" cy="239.80" r="2.25" fill="#dedede" stroke="#767676" stroke-width="0.5"/>
<text x="393.95" y="240.99" font-size="3.3" text-anchor="middle" fill="#474747">G</text>
<circle cx="393.95" cy="233.20" r="2.25" fill="#dedede" stroke="#767676" stroke-width="0.5"/>
<text x="393.95" y="234.39" font-size="3.3" text-anchor="middle" fill="#474747">C</text>
<circle cx="393.95" cy="226.60" r="2.25" fill="#dedede" stroke="#767676" stroke-width="0.5"/>
<text x="393.95" y="227.79" font-size="3.3" text-anchor="middle" fill="#474747">U</text>
<circle cx="391.50" cy="221.40" r="2.45" fill="#c40f1b" stroke="#c40f1b" stroke-width="0.2"/>
<circle cx="393.95" cy="215.90" r="2.45" fill="#e8a526" stroke="#e8a526" stroke-width="0.2"/>
<circle cx="393.95" cy="209.30" r="2.25" fill="#dedede" stroke="#767676" stroke-width="0.5"/>
<text x="393.95" y="210.49" font-size="3.3" text-anchor="middle" fill="#474747">G</text>
<circle cx="393.95" cy="202.80" r="2.25" fill="#dedede" stroke="#767676" stroke-width="0.5"/>
<text x="393.95" y="203.99" font-size="3.3" text-anchor="middle" fill="#474747">C</text>
<circle cx="393.95" cy="196.40" r="2.25" fill="#dedede" stroke="#767676" stroke-width="0.5"/>
<text x="393.95" y="197.59" font-size="3.3" text-anchor="middle" fill="#474747">C</text>
<circle cx="393.95" cy="190.30" r="2.25" fill="#dedede" stroke="#767676" stroke-width="0.5"/>
<text x="393.95" y="191.49" font-size="3.3" text-anchor="middle" fill="#474747">U</text>
<circle cx="399.40" cy="187.20" r="2.25" fill="#dedede" stroke="#767676" stroke-width="0.5"/>
<text x="399.40" y="188.39" font-size="3.3" text-anchor="middle" fill="#474747">C</text>
<circle cx="404.85" cy="190.30" r="2.25" fill="#dedede" stroke="#767676" stroke-width="0.5"/>
<text x="404.85" y="191.49" font-size="3.3" text-anchor="middle" fill="#474747">U</text>
<circle cx="404.85" cy="196.40" r="2.25" fill="#dedede" stroke="#767676" stroke-width="0.5"/>
<text x="404.85" y="197.59" font-size="3.3" text-anchor="middle" fill="#474747">G</text>
<circle cx="404.85" cy="202.80" r="2.25" fill="#dedede" stroke="#767676" stroke-width="0.5"/>
<text x="404.85" y="203.99" font-size="3.3" text-anchor="middle" fill="#474747">G</text>
<circle cx="404.85" cy="209.30" r="2.25" fill="#dedede" stroke="#767676" stroke-width="0.5"/>
<text x="404.85" y="210.49" font-size="3.3" text-anchor="middle" fill="#474747">C</text>
<circle cx="404.85" cy="215.90" r="2.45" fill="#1b8ccc" stroke="#1b8ccc" stroke-width="0.2"/>
<circle cx="407.30" cy="221.40" r="2.45" fill="#c40f1b" stroke="#c40f1b" stroke-width="0.2"/>
<circle cx="404.85" cy="226.60" r="2.25" fill="#dedede" stroke="#767676" stroke-width="0.5"/>
<text x="404.85" y="227.79" font-size="3.3" text-anchor="middle" fill="#474747">A</text>
<circle cx="404.85" cy="233.20" r="2.25" fill="#dedede" stroke="#767676" stroke-width="0.5"/>
<text x="404.85" y="234.39" font-size="3.3" text-anchor="middle" fill="#474747">G</text>
<circle cx="404.85" cy="239.80" r="2.25" fill="#dedede" stroke="#767676" stroke-width="0.5"/>
<text x="404.85" y="240.99" font-size="3.3" text-anchor="middle" fill="#474747">C</text>
<circle cx="404.85" cy="246.40" r="2.25" fill="#dedede" stroke="#767676" stroke-width="0.5"/>
<text x="404.85" y="247.59" font-size="3.3" text-anchor="middle" fill="#474747">C</text>
<circle cx="404.85" cy="253.00" r="2.25" fill="#dedede" stroke="#767676" stroke-width="0.5"/>
<text x="404.85" y="254.19" font-size="3.3" text-anchor="middle" fill="#474747">C</text>
<circle cx="404.85" cy="259.60" r="2.25" fill="#dedede" stroke="#767676" stroke-width="0.5"/>
<text x="404.85" y="260.79" font-size="3.3" text-anchor="middle" fill="#474747">U</text>
<circle cx="404.85" cy="266.20" r="2.25" fill="#dedede" stroke="#767676" stroke-width="0.5"/>
<text x="404.85" y="267.39" font-size="3.3" text-anchor="middle" fill="#474747">C</text>
<circle cx="404.85" cy="272.80" r="2.25" fill="#dedede" stroke="#767676" stroke-width="0.5"/>
<text x="404.85" y="273.99" font-size="3.3" text-anchor="middle" fill="#474747">U</text>
<circle cx="404.85" cy="279.40" r="2.25" fill="#dedede" stroke="#767676" stroke-width="0.5"/>
<text x="404.85" y="280.59" font-size="3.3" text-anchor="middle" fill="#474747">A</text>
<line x1="393.95" y1="283.60" x2="393.95" y2="285.40" stroke="#888" stroke-width="0.4" />
<line x1="404.85" y1="283.60" x2="404.85" y2="285.40" stroke="#888" stroke-width="0.4" />
<text x="393.95" y="291.00" font-size="5.2" text-anchor="middle" font-weight="normal" fill="#231f20" >1</text>
<text x="405.15" y="291.00" font-size="5.2" text-anchor="middle" font-weight="normal" fill="#231f20" textLength="4.6" lengthAdjust="spacingAndGlyphs">31</text>
<polyline points="438.75,278.80 438.75,272.20 438.75,265.60 438.75,259.00 438.75,252.40 438.75,245.80 438.75,239.20 438.75,232.60 438.75,226.00 435.00,221.30 435.00,215.60 438.75,210.40 438.75,203.70 438.75,197.00 438.75,191.50 444.20,188.00 449.65,191.50 449.65,197.00 449.65,203.70 449.65,210.40 453.40,215.60 453.40,221.30 449.65,226.00 449.65,232.60 449.65,239.20 449.65,245.80 449.65,252.40 449.65,259.00 449.65,265.60 449.65,272.20 449.65,278.80" fill="none" stroke="#9a9a9a" stroke-width="0.45"/>
<line x1="440.77" y1="278.80" x2="447.62" y2="278.80" stroke="#6f90d2" stroke-width="0.6" />
<line x1="440.77" y1="272.20" x2="447.62" y2="272.20" stroke="#aec2e8" stroke-width="0.6" />
<line x1="440.77" y1="265.60" x2="447.62" y2="265.60" stroke="#6f90d2" stroke-width="0.6" />
<line x1="440.77" y1="259.00" x2="447.62" y2="259.00" stroke="#6f90d2" stroke-width="0.6" />
<line x1="440.77" y1="252.40" x2="447.62" y2="252.40" stroke="#6f90d2" stroke-width="0.6" />
<line x1="440.77" y1="245.80" x2="447.62" y2="245.80" stroke="#aec2e8" stroke-width="0.6" />
<line x1="440.77" y1="239.20" x2="447.62" y2="239.20" stroke="#6f90d2" stroke-width="0.6" />
<line x1="440.77" y1="232.60" x2="447.62" y2="232.60" stroke="#6f90d2" stroke-width="0.6" />
<line x1="440.77" y1="226.00" x2="447.62" y2="226.00" stroke="#6f90d2" stroke-width="0.6" />
<line x1="440.77" y1="210.40" x2="447.62" y2="210.40" stroke="#6f90d2" stroke-width="0.6" />
<line x1="440.77" y1="203.70" x2="447.62" y2="203.70" stroke="#aec2e8" stroke-width="0.6" />
<line x1="440.77" y1="197.00" x2="447.62" y2="197.00" stroke="#6f90d2" stroke-width="0.6" />
<circle cx="438.75" cy="278.80" r="2.25" fill="#dedede" stroke="#767676" stroke-width="0.5"/>
<text x="438.75" y="279.99" font-size="3.3" text-anchor="middle" fill="#474747">U</text>
<circle cx="438.75" cy="272.20" r="2.25" fill="#dedede" stroke="#767676" stroke-width="0.5"/>
<text x="438.75" y="273.39" font-size="3.3" text-anchor="middle" fill="#474747">A</text>
<circle cx="438.75" cy="265.60" r="2.25" fill="#dedede" stroke="#767676" stroke-width="0.5"/>
<text x="438.75" y="266.79" font-size="3.3" text-anchor="middle" fill="#474747">G</text>
<circle cx="438.75" cy="259.00" r="2.25" fill="#dedede" stroke="#767676" stroke-width="0.5"/>
<text x="438.75" y="260.19" font-size="3.3" text-anchor="middle" fill="#474747">G</text>
<circle cx="438.75" cy="252.40" r="2.25" fill="#dedede" stroke="#767676" stroke-width="0.5"/>
<text x="438.75" y="253.59" font-size="3.3" text-anchor="middle" fill="#474747">G</text>
<circle cx="438.75" cy="245.80" r="2.25" fill="#dedede" stroke="#767676" stroke-width="0.5"/>
<text x="438.75" y="246.99" font-size="3.3" text-anchor="middle" fill="#474747">G</text>
<circle cx="438.75" cy="239.20" r="2.25" fill="#dedede" stroke="#767676" stroke-width="0.5"/>
<text x="438.75" y="240.39" font-size="3.3" text-anchor="middle" fill="#474747">G</text>
<circle cx="438.75" cy="232.60" r="2.25" fill="#dedede" stroke="#767676" stroke-width="0.5"/>
<text x="438.75" y="233.79" font-size="3.3" text-anchor="middle" fill="#474747">C</text>
<circle cx="438.75" cy="226.00" r="2.25" fill="#dedede" stroke="#767676" stroke-width="0.5"/>
<text x="438.75" y="227.19" font-size="3.3" text-anchor="middle" fill="#474747">U</text>
<circle cx="435.00" cy="221.30" r="2.45" fill="#e8a526" stroke="#e8a526" stroke-width="0.2"/>
<circle cx="435.00" cy="215.60" r="2.45" fill="#e8a526" stroke="#e8a526" stroke-width="0.2"/>
<circle cx="438.75" cy="210.40" r="2.25" fill="#dedede" stroke="#767676" stroke-width="0.5"/>
<text x="438.75" y="211.59" font-size="3.3" text-anchor="middle" fill="#474747">G</text>
<circle cx="438.75" cy="203.70" r="2.25" fill="#dedede" stroke="#767676" stroke-width="0.5"/>
<text x="438.75" y="204.89" font-size="3.3" text-anchor="middle" fill="#474747">C</text>
<circle cx="438.75" cy="197.00" r="2.25" fill="#dedede" stroke="#767676" stroke-width="0.5"/>
<text x="438.75" y="198.19" font-size="3.3" text-anchor="middle" fill="#474747">C</text>
<circle cx="438.75" cy="191.50" r="2.25" fill="#dedede" stroke="#767676" stroke-width="0.5"/>
<text x="438.75" y="192.69" font-size="3.3" text-anchor="middle" fill="#474747">U</text>
<circle cx="444.20" cy="188.00" r="2.25" fill="#dedede" stroke="#767676" stroke-width="0.5"/>
<text x="444.20" y="189.19" font-size="3.3" text-anchor="middle" fill="#474747">C</text>
<circle cx="449.65" cy="191.50" r="2.25" fill="#dedede" stroke="#767676" stroke-width="0.5"/>
<text x="449.65" y="192.69" font-size="3.3" text-anchor="middle" fill="#474747">U</text>
<circle cx="449.65" cy="197.00" r="2.25" fill="#dedede" stroke="#767676" stroke-width="0.5"/>
<text x="449.65" y="198.19" font-size="3.3" text-anchor="middle" fill="#474747">G</text>
<circle cx="449.65" cy="203.70" r="2.25" fill="#dedede" stroke="#767676" stroke-width="0.5"/>
<text x="449.65" y="204.89" font-size="3.3" text-anchor="middle" fill="#474747">G</text>
<circle cx="449.65" cy="210.40" r="2.25" fill="#dedede" stroke="#767676" stroke-width="0.5"/>
<text x="449.65" y="211.59" font-size="3.3" text-anchor="middle" fill="#474747">C</text>
<circle cx="453.40" cy="215.60" r="2.25" fill="#dedede" stroke="#767676" stroke-width="0.5"/>
<text x="453.40" y="216.79" font-size="3.3" text-anchor="middle" fill="#474747">C</text>
<circle cx="453.40" cy="221.30" r="2.25" fill="#dedede" stroke="#767676" stroke-width="0.5"/>
<text x="453.40" y="222.49" font-size="3.3" text-anchor="middle" fill="#474747">C</text>
<circle cx="449.65" cy="226.00" r="2.25" fill="#dedede" stroke="#767676" stroke-width="0.5"/>
<text x="449.65" y="227.19" font-size="3.3" text-anchor="middle" fill="#474747">A</text>
<circle cx="449.65" cy="232.60" r="2.25" fill="#dedede" stroke="#767676" stroke-width="0.5"/>
<text x="449.65" y="233.79" font-size="3.3" text-anchor="middle" fill="#474747">G</text>
<circle cx="449.65" cy="239.20" r="2.25" fill="#dedede" stroke="#767676" stroke-width="0.5"/>
<text x="449.65" y="240.39" font-size="3.3" text-anchor="middle" fill="#474747">C</text>
<circle cx="449.65" cy="245.80" r="2.25" fill="#dedede" stroke="#767676" stroke-width="0.5"/>
<text x="449.65" y="246.99" font-size="3.3" text-anchor="middle" fill="#474747">C</text>
<circle cx="449.65" cy="252.40" r="2.25" fill="#dedede" stroke="#767676" stroke-width="0.5"/>
<text x="449.65" y="253.59" font-size="3.3" text-anchor="middle" fill="#474747">C</text>
<circle cx="449.65" cy="259.00" r="2.25" fill="#dedede" stroke="#767676" stroke-width="0.5"/>
<text x="449.65" y="260.19" font-size="3.3" text-anchor="middle" fill="#474747">U</text>
<circle cx="449.65" cy="265.60" r="2.25" fill="#dedede" stroke="#767676" stroke-width="0.5"/>
<text x="449.65" y="266.79" font-size="3.3" text-anchor="middle" fill="#474747">C</text>
<circle cx="449.65" cy="272.20" r="2.25" fill="#dedede" stroke="#767676" stroke-width="0.5"/>
<text x="449.65" y="273.39" font-size="3.3" text-anchor="middle" fill="#474747">U</text>
<circle cx="449.65" cy="278.80" r="2.25" fill="#dedede" stroke="#767676" stroke-width="0.5"/>
<text x="449.65" y="279.99" font-size="3.3" text-anchor="middle" fill="#474747">A</text>
<line x1="438.75" y1="283.00" x2="438.75" y2="284.80" stroke="#888" stroke-width="0.4" />
<line x1="449.65" y1="283.00" x2="449.65" y2="284.80" stroke="#888" stroke-width="0.4" />
<text x="438.75" y="290.40" font-size="5.2" text-anchor="middle" font-weight="normal" fill="#231f20" >1</text>
<text x="449.95" y="290.40" font-size="5.2" text-anchor="middle" font-weight="normal" fill="#231f20" textLength="4.6" lengthAdjust="spacingAndGlyphs">31</text>
<polyline points="466.95,278.80 466.95,272.20 466.95,265.60 466.95,259.00 466.95,252.40 466.95,245.80 466.95,239.20 466.95,232.60 466.95,226.00 463.20,221.30 463.20,215.60 466.95,210.40 466.95,203.70 466.95,197.00 466.95,191.50 472.40,188.00 477.85,191.50 477.85,197.00 477.85,203.70 477.85,210.40 481.60,215.60 481.60,221.30 477.85,226.00 477.85,232.60 477.85,239.20 477.85,245.80 477.85,252.40 477.85,259.00 477.85,265.60 477.85,272.20 477.85,278.80" fill="none" stroke="#9a9a9a" stroke-width="0.45"/>
<line x1="468.97" y1="278.80" x2="475.82" y2="278.80" stroke="#6f90d2" stroke-width="0.6" />
<line x1="468.97" y1="272.20" x2="475.82" y2="272.20" stroke="#aec2e8" stroke-width="0.6" />
<line x1="468.97" y1="265.60" x2="475.82" y2="265.60" stroke="#6f90d2" stroke-width="0.6" />
<line x1="468.97" y1="259.00" x2="475.82" y2="259.00" stroke="#6f90d2" stroke-width="0.6" />
<line x1="468.97" y1="252.40" x2="475.82" y2="252.40" stroke="#6f90d2" stroke-width="0.6" />
<line x1="468.97" y1="245.80" x2="475.82" y2="245.80" stroke="#aec2e8" stroke-width="0.6" />
<line x1="468.97" y1="239.20" x2="475.82" y2="239.20" stroke="#6f90d2" stroke-width="0.6" />
<line x1="468.97" y1="232.60" x2="475.82" y2="232.60" stroke="#6f90d2" stroke-width="0.6" />
<line x1="468.97" y1="226.00" x2="475.82" y2="226.00" stroke="#6f90d2" stroke-width="0.6" />
<line x1="468.97" y1="210.40" x2="475.82" y2="210.40" stroke="#6f90d2" stroke-width="0.6" />
<line x1="468.97" y1="203.70" x2="475.82" y2="203.70" stroke="#aec2e8" stroke-width="0.6" />
<line x1="468.97" y1="197.00" x2="475.82" y2="197.00" stroke="#6f90d2" stroke-width="0.6" />
<circle cx="466.95" cy="278.80" r="2.25" fill="#dedede" stroke="#767676" stroke-width="0.5"/>
<text x="466.95" y="279.99" font-size="3.3" text-anchor="middle" fill="#474747">U</text>
<circle cx="466.95" cy="272.20" r="2.25" fill="#dedede" stroke="#767676" stroke-width="0.5"/>
<text x="466.95" y="273.39" font-size="3.3" text-anchor="middle" fill="#474747">A</text>
<circle cx="466.95" cy="265.60" r="2.25" fill="#dedede" stroke="#767676" stroke-width="0.5"/>
<text x="466.95" y="266.79" font-size="3.3" text-anchor="middle" fill="#474747">G</text>
<circle cx="466.95" cy="259.00" r="2.25" fill="#dedede" stroke="#767676" stroke-width="0.5"/>
<text x="466.95" y="260.19" font-size="3.3" text-anchor="middle" fill="#474747">G</text>
<circle cx="466.95" cy="252.40" r="2.25" fill="#dedede" stroke="#767676" stroke-width="0.5"/>
<text x="466.95" y="253.59" font-size="3.3" text-anchor="middle" fill="#474747">G</text>
<circle cx="466.95" cy="245.80" r="2.25" fill="#dedede" stroke="#767676" stroke-width="0.5"/>
<text x="466.95" y="246.99" font-size="3.3" text-anchor="middle" fill="#474747">G</text>
<circle cx="466.95" cy="239.20" r="2.25" fill="#dedede" stroke="#767676" stroke-width="0.5"/>
<text x="466.95" y="240.39" font-size="3.3" text-anchor="middle" fill="#474747">G</text>
<circle cx="466.95" cy="232.60" r="2.25" fill="#dedede" stroke="#767676" stroke-width="0.5"/>
<text x="466.95" y="233.79" font-size="3.3" text-anchor="middle" fill="#474747">C</text>
<circle cx="466.95" cy="226.00" r="2.25" fill="#dedede" stroke="#767676" stroke-width="0.5"/>
<text x="466.95" y="227.19" font-size="3.3" text-anchor="middle" fill="#474747">U</text>
<circle cx="463.20" cy="221.30" r="2.25" fill="#dedede" stroke="#767676" stroke-width="0.5"/>
<text x="463.20" y="222.49" font-size="3.3" text-anchor="middle" fill="#474747">U</text>
<circle cx="463.20" cy="215.60" r="2.25" fill="#dedede" stroke="#767676" stroke-width="0.5"/>
<text x="463.20" y="216.79" font-size="3.3" text-anchor="middle" fill="#474747">C</text>
<circle cx="466.95" cy="210.40" r="2.25" fill="#dedede" stroke="#767676" stroke-width="0.5"/>
<text x="466.95" y="211.59" font-size="3.3" text-anchor="middle" fill="#474747">G</text>
<circle cx="466.95" cy="203.70" r="2.25" fill="#dedede" stroke="#767676" stroke-width="0.5"/>
<text x="466.95" y="204.89" font-size="3.3" text-anchor="middle" fill="#474747">C</text>
<circle cx="466.95" cy="197.00" r="2.25" fill="#dedede" stroke="#767676" stroke-width="0.5"/>
<text x="466.95" y="198.19" font-size="3.3" text-anchor="middle" fill="#474747">C</text>
<circle cx="466.95" cy="191.50" r="2.25" fill="#dedede" stroke="#767676" stroke-width="0.5"/>
<text x="466.95" y="192.69" font-size="3.3" text-anchor="middle" fill="#474747">U</text>
<circle cx="472.40" cy="188.00" r="2.25" fill="#dedede" stroke="#767676" stroke-width="0.5"/>
<text x="472.40" y="189.19" font-size="3.3" text-anchor="middle" fill="#474747">C</text>
<circle cx="477.85" cy="191.50" r="2.25" fill="#dedede" stroke="#767676" stroke-width="0.5"/>
<text x="477.85" y="192.69" font-size="3.3" text-anchor="middle" fill="#474747">U</text>
<circle cx="477.85" cy="197.00" r="2.25" fill="#dedede" stroke="#767676" stroke-width="0.5"/>
<text x="477.85" y="198.19" font-size="3.3" text-anchor="middle" fill="#474747">G</text>
<circle cx="477.85" cy="203.70" r="2.25" fill="#dedede" stroke="#767676" stroke-width="0.5"/>
<text x="477.85" y="204.89" font-size="3.3" text-anchor="middle" fill="#474747">G</text>
<circle cx="477.85" cy="210.40" r="2.25" fill="#dedede" stroke="#767676" stroke-width="0.5"/>
<text x="477.85" y="211.59" font-size="3.3" text-anchor="middle" fill="#474747">C</text>
<circle cx="481.60" cy="215.60" r="2.45" fill="#1b8ccc" stroke="#1b8ccc" stroke-width="0.2"/>
<circle cx="481.60" cy="221.30" r="2.45" fill="#1b8ccc" stroke="#1b8ccc" stroke-width="0.2"/>
<circle cx="477.85" cy="226.00" r="2.25" fill="#dedede" stroke="#767676" stroke-width="0.5"/>
<text x="477.85" y="227.19" font-size="3.3" text-anchor="middle" fill="#474747">A</text>
<circle cx="477.85" cy="232.60" r="2.25" fill="#dedede" stroke="#767676" stroke-width="0.5"/>
<text x="477.85" y="233.79" font-size="3.3" text-anchor="middle" fill="#474747">G</text>
<circle cx="477.85" cy="239.20" r="2.25" fill="#dedede" stroke="#767676" stroke-width="0.5"/>
<text x="477.85" y="240.39" font-size="3.3" text-anchor="middle" fill="#474747">C</text>
<circle cx="477.85" cy="245.80" r="2.25" fill="#dedede" stroke="#767676" stroke-width="0.5"/>
<text x="477.85" y="246.99" font-size="3.3" text-anchor="middle" fill="#474747">C</text>
<circle cx="477.85" cy="252.40" r="2.25" fill="#dedede" stroke="#767676" stroke-width="0.5"/>
<text x="477.85" y="253.59" font-size="3.3" text-anchor="middle" fill="#474747">C</text>
<circle cx="477.85" cy="259.00" r="2.25" fill="#dedede" stroke="#767676" stroke-width="0.5"/>
<text x="477.85" y="260.19" font-size="3.3" text-anchor="middle" fill="#474747">U</text>
<circle cx="477.85" cy="265.60" r="2.25" fill="#dedede" stroke="#767676" stroke-width="0.5"/>
<text x="477.85" y="266.79" font-size="3.3" text-anchor="middle" fill="#474747">C</text>
<circle cx="477.85" cy="272.20" r="2.25" fill="#dedede" stroke="#767676" stroke-width="0.5"/>
<text x="477.85" y="273.39" font-size="3.3" text-anchor="middle" fill="#474747">U</text>
<circle cx="477.85" cy="278.80" r="2.25" fill="#dedede" stroke="#767676" stroke-width="0.5"/>
<text x="477.85" y="279.99" font-size="3.3" text-anchor="middle" fill="#474747">A</text>
<line x1="466.95" y1="283.00" x2="466.95" y2="284.80" stroke="#888" stroke-width="0.4" />
<line x1="477.85" y1="283.00" x2="477.85" y2="284.80" stroke="#888" stroke-width="0.4" />
<text x="466.95" y="290.40" font-size="5.2" text-anchor="middle" font-weight="normal" fill="#231f20" >1</text>
<text x="478.15" y="290.40" font-size="5.2" text-anchor="middle" font-weight="normal" fill="#231f20" textLength="4.6" lengthAdjust="spacingAndGlyphs">31</text>
<polyline points="494.95,278.80 494.95,272.20 494.95,265.60 494.95,259.00 494.95,252.40 494.95,245.80 494.95,239.20 494.95,232.60 494.95,226.00 491.20,221.30 491.20,215.60 494.95,210.40 494.95,203.70 494.95,197.00 494.95,191.50 500.40,188.00 505.85,191.50 505.85,197.00 505.85,203.70 505.85,210.40 509.60,215.60 509.60,221.30 505.85,226.00 505.85,232.60 505.85,239.20 505.85,245.80 505.85,252.40 505.85,259.00 505.85,265.60 505.85,272.20 505.85,278.80" fill="none" stroke="#9a9a9a" stroke-width="0.45"/>
<line x1="496.97" y1="278.80" x2="503.82" y2="278.80" stroke="#6f90d2" stroke-width="0.6" />
<line x1="496.97" y1="272.20" x2="503.82" y2="272.20" stroke="#aec2e8" stroke-width="0.6" />
<line x1="496.97" y1="265.60" x2="503.82" y2="265.60" stroke="#6f90d2" stroke-width="0.6" />
<line x1="496.97" y1="259.00" x2="503.82" y2="259.00" stroke="#6f90d2" stroke-width="0.6" />
<line x1="496.97" y1="252.40" x2="503.82" y2="252.40" stroke="#6f90d2" stroke-width="0.6" />
<line x1="496.97" y1="245.80" x2="503.82" y2="245.80" stroke="#aec2e8" stroke-width="0.6" />
<line x1="496.97" y1="239.20" x2="503.82" y2="239.20" stroke="#6f90d2" stroke-width="0.6" />
<line x1="496.97" y1="232.60" x2="503.82" y2="232.60" stroke="#6f90d2" stroke-width="0.6" />
<line x1="496.97" y1="226.00" x2="503.82" y2="226.00" stroke="#6f90d2" stroke-width="0.6" />
<line x1="496.97" y1="210.40" x2="503.82" y2="210.40" stroke="#6f90d2" stroke-width="0.6" />
<line x1="496.97" y1="203.70" x2="503.82" y2="203.70" stroke="#aec2e8" stroke-width="0.6" />
<line x1="496.97" y1="197.00" x2="503.82" y2="197.00" stroke="#6f90d2" stroke-width="0.6" />
<circle cx="494.95" cy="278.80" r="2.25" fill="#dedede" stroke="#767676" stroke-width="0.5"/>
<text x="494.95" y="279.99" font-size="3.3" text-anchor="middle" fill="#474747">U</text>
<circle cx="494.95" cy="272.20" r="2.25" fill="#dedede" stroke="#767676" stroke-width="0.5"/>
<text x="494.95" y="273.39" font-size="3.3" text-anchor="middle" fill="#474747">A</text>
<circle cx="494.95" cy="265.60" r="2.25" fill="#dedede" stroke="#767676" stroke-width="0.5"/>
<text x="494.95" y="266.79" font-size="3.3" text-anchor="middle" fill="#474747">G</text>
<circle cx="494.95" cy="259.00" r="2.25" fill="#dedede" stroke="#767676" stroke-width="0.5"/>
<text x="494.95" y="260.19" font-size="3.3" text-anchor="middle" fill="#474747">G</text>
<circle cx="494.95" cy="252.40" r="2.25" fill="#dedede" stroke="#767676" stroke-width="0.5"/>
<text x="494.95" y="253.59" font-size="3.3" text-anchor="middle" fill="#474747">G</text>
<circle cx="494.95" cy="245.80" r="2.25" fill="#dedede" stroke="#767676" stroke-width="0.5"/>
<text x="494.95" y="246.99" font-size="3.3" text-anchor="middle" fill="#474747">G</text>
<circle cx="494.95" cy="239.20" r="2.25" fill="#dedede" stroke="#767676" stroke-width="0.5"/>
<text x="494.95" y="240.39" font-size="3.3" text-anchor="middle" fill="#474747">G</text>
<circle cx="494.95" cy="232.60" r="2.25" fill="#dedede" stroke="#767676" stroke-width="0.5"/>
<text x="494.95" y="233.79" font-size="3.3" text-anchor="middle" fill="#474747">C</text>
<circle cx="494.95" cy="226.00" r="2.25" fill="#dedede" stroke="#767676" stroke-width="0.5"/>
<text x="494.95" y="227.19" font-size="3.3" text-anchor="middle" fill="#474747">U</text>
<circle cx="491.20" cy="221.30" r="2.45" fill="#169a4e" stroke="#169a4e" stroke-width="0.2"/>
<circle cx="491.20" cy="215.60" r="2.45" fill="#c40f1b" stroke="#c40f1b" stroke-width="0.2"/>
<circle cx="494.95" cy="210.40" r="2.25" fill="#dedede" stroke="#767676" stroke-width="0.5"/>
<text x="494.95" y="211.59" font-size="3.3" text-anchor="middle" fill="#474747">G</text>
<circle cx="494.95" cy="203.70" r="2.25" fill="#dedede" stroke="#767676" stroke-width="0.5"/>
<text x="494.95" y="204.89" font-size="3.3" text-anchor="middle" fill="#474747">C</text>
<circle cx="494.95" cy="197.00" r="2.25" fill="#dedede" stroke="#767676" stroke-width="0.5"/>
<text x="494.95" y="198.19" font-size="3.3" text-anchor="middle" fill="#474747">C</text>
<circle cx="494.95" cy="191.50" r="2.25" fill="#dedede" stroke="#767676" stroke-width="0.5"/>
<text x="494.95" y="192.69" font-size="3.3" text-anchor="middle" fill="#474747">U</text>
<circle cx="500.40" cy="188.00" r="2.25" fill="#dedede" stroke="#767676" stroke-width="0.5"/>
<text x="500.40" y="189.19" font-size="3.3" text-anchor="middle" fill="#474747">C</text>
<circle cx="505.85" cy="191.50" r="2.25" fill="#dedede" stroke="#767676" stroke-width="0.5"/>
<text x="505.85" y="192.69" font-size="3.3" text-anchor="middle" fill="#474747">U</text>
<circle cx="505.85" cy="197.00" r="2.25" fill="#dedede" stroke="#767676" stroke-width="0.5"/>
<text x="505.85" y="198.19" font-size="3.3" text-anchor="middle" fill="#474747">G</text>
<circle cx="505.85" cy="203.70" r="2.25" fill="#dedede" stroke="#767676" stroke-width="0.5"/>
<text x="505.85" y="204.89" font-size="3.3" text-anchor="middle" fill="#474747">G</text>
<circle cx="505.85" cy="210.40" r="2.25" fill="#dedede" stroke="#767676" stroke-width="0.5"/>
<text x="505.85" y="211.59" font-size="3.3" text-anchor="middle" fill="#474747">C</text>
<circle cx="509.60" cy="215.60" r="2.45" fill="#c40f1b" stroke="#c40f1b" stroke-width="0.2"/>
<circle cx="509.60" cy="221.30" r="2.45" fill="#e8a526" stroke="#e8a526" stroke-width="0.2"/>
<circle cx="505.85" cy="226.00" r="2.25" fill="#dedede" stroke="#767676" stroke-width="0.5"/>
<text x="505.85" y="227.19" font-size="3.3" text-anchor="middle" fill="#474747">A</text>
<circle cx="505.85" cy="232.60" r="2.25" fill="#dedede" stroke="#767676" stroke-width="0.5"/>
<text x="505.85" y="233.79" font-size="3.3" text-anchor="middle" fill="#474747">G</text>
<circle cx="505.85" cy="239.20" r="2.25" fill="#dedede" stroke="#767676" stroke-width="0.5"/>
<text x="505.85" y="240.39" font-size="3.3" text-anchor="middle" fill="#474747">C</text>
<circle cx="505.85" cy="245.80" r="2.25" fill="#dedede" stroke="#767676" stroke-width="0.5"/>
<text x="505.85" y="246.99" font-size="3.3" text-anchor="middle" fill="#474747">C</text>
<circle cx="505.85" cy="252.40" r="2.25" fill="#dedede" stroke="#767676" stroke-width="0.5"/>
<text x="505.85" y="253.59" font-size="3.3" text-anchor="middle" fill="#474747">C</text>
<circle cx="505.85" cy="259.00" r="2.25" fill="#dedede" stroke="#767676" stroke-width="0.5"/>
<text x="505.85" y="260.19" font-size="3.3" text-anchor="middle" fill="#474747">U</text>
<circle cx="505.85" cy="265.60" r="2.25" fill="#dedede" stroke="#767676" stroke-width="0.5"/>
<text x="505.85" y="266.79" font-size="3.3" text-anchor="middle" fill="#474747">C</text>
<circle cx="505.85" cy="272.20" r="2.25" fill="#dedede" stroke="#767676" stroke-width="0.5"/>
<text x="505.85" y="273.39" font-size="3.3" text-anchor="middle" fill="#474747">U</text>
<circle cx="505.85" cy="278.80" r="2.25" fill="#dedede" stroke="#767676" stroke-width="0.5"/>
<text x="505.85" y="279.99" font-size="3.3" text-anchor="middle" fill="#474747">A</text>
<line x1="494.95" y1="283.00" x2="494.95" y2="284.80" stroke="#888" stroke-width="0.4" />
<line x1="505.85" y1="283.00" x2="505.85" y2="284.80" stroke="#888" stroke-width="0.4" />
<text x="494.95" y="290.40" font-size="5.2" text-anchor="middle" font-weight="normal" fill="#231f20" >1</text>
<text x="506.15" y="290.40" font-size="5.2" text-anchor="middle" font-weight="normal" fill="#231f20" textLength="4.6" lengthAdjust="spacingAndGlyphs">31</text>
<polyline points="521.75,278.80 521.75,272.20 521.75,265.60 521.75,259.00 521.75,252.40 521.75,245.80 521.75,239.20 521.75,232.60 521.75,226.00 518.00,221.30 518.00,215.60 521.75,210.40 521.75,203.70 521.75,197.00 521.75,191.50 527.20,188.00 532.65,191.50 532.65,197.00 532.65,203.70 532.65,210.40 536.40,215.60 536.40,221.30 532.65,226.00 532.65,232.60 532.65,239.20 532.65,245.80 532.65,252.40 532.65,259.00 532.65,265.60 532.65,272.20 532.65,278.80" fill="none" stroke="#9a9a9a" stroke-width="0.45"/>
<line x1="523.77" y1="278.80" x2="530.63" y2="278.80" stroke="#6f90d2" stroke-width="0.6" />
<line x1="523.77" y1="272.20" x2="530.63" y2="272.20" stroke="#aec2e8" stroke-width="0.6" />
<line x1="523.77" y1="265.60" x2="530.63" y2="265.60" stroke="#6f90d2" stroke-width="0.6" />
<line x1="523.77" y1="259.00" x2="530.63" y2="259.00" stroke="#6f90d2" stroke-width="0.6" />
<line x1="523.77" y1="252.40" x2="530.63" y2="252.40" stroke="#6f90d2" stroke-width="0.6" />
<line x1="523.77" y1="245.80" x2="530.63" y2="245.80" stroke="#aec2e8" stroke-width="0.6" />
<line x1="523.77" y1="239.20" x2="530.63" y2="239.20" stroke="#6f90d2" stroke-width="0.6" />
<line x1="523.77" y1="232.60" x2="530.63" y2="232.60" stroke="#6f90d2" stroke-width="0.6" />
<line x1="523.77" y1="226.00" x2="530.63" y2="226.00" stroke="#6f90d2" stroke-width="0.6" />
<line x1="523.77" y1="210.40" x2="530.63" y2="210.40" stroke="#6f90d2" stroke-width="0.6" />
<line x1="523.77" y1="203.70" x2="530.63" y2="203.70" stroke="#aec2e8" stroke-width="0.6" />
<line x1="523.77" y1="197.00" x2="530.63" y2="197.00" stroke="#6f90d2" stroke-width="0.6" />
<circle cx="521.75" cy="278.80" r="2.25" fill="#dedede" stroke="#767676" stroke-width="0.5"/>
<text x="521.75" y="279.99" font-size="3.3" text-anchor="middle" fill="#474747">U</text>
<circle cx="521.75" cy="272.20" r="2.25" fill="#dedede" stroke="#767676" stroke-width="0.5"/>
<text x="521.75" y="273.39" font-size="3.3" text-anchor="middle" fill="#474747">A</text>
<circle cx="521.75" cy="265.60" r="2.25" fill="#dedede" stroke="#767676" stroke-width="0.5"/>
<text x="521.75" y="266.79" font-size="3.3" text-anchor="middle" fill="#474747">G</text>
<circle cx="521.75" cy="259.00" r="2.25" fill="#dedede" stroke="#767676" stroke-width="0.5"/>
<text x="521.75" y="260.19" font-size="3.3" text-anchor="middle" fill="#474747">G</text>
<circle cx="521.75" cy="252.40" r="2.25" fill="#dedede" stroke="#767676" stroke-width="0.5"/>
<text x="521.75" y="253.59" font-size="3.3" text-anchor="middle" fill="#474747">G</text>
<circle cx="521.75" cy="245.80" r="2.25" fill="#dedede" stroke="#767676" stroke-width="0.5"/>
<text x="521.75" y="246.99" font-size="3.3" text-anchor="middle" fill="#474747">G</text>
<circle cx="521.75" cy="239.20" r="2.25" fill="#dedede" stroke="#767676" stroke-width="0.5"/>
<text x="521.75" y="240.39" font-size="3.3" text-anchor="middle" fill="#474747">G</text>
<circle cx="521.75" cy="232.60" r="2.25" fill="#dedede" stroke="#767676" stroke-width="0.5"/>
<text x="521.75" y="233.79" font-size="3.3" text-anchor="middle" fill="#474747">C</text>
<circle cx="521.75" cy="226.00" r="2.25" fill="#dedede" stroke="#767676" stroke-width="0.5"/>
<text x="521.75" y="227.19" font-size="3.3" text-anchor="middle" fill="#474747">U</text>
<circle cx="518.00" cy="221.30" r="2.45" fill="#e8a526" stroke="#e8a526" stroke-width="0.2"/>
<circle cx="518.00" cy="215.60" r="2.45" fill="#e8a526" stroke="#e8a526" stroke-width="0.2"/>
<circle cx="521.75" cy="210.40" r="2.25" fill="#dedede" stroke="#767676" stroke-width="0.5"/>
<text x="521.75" y="211.59" font-size="3.3" text-anchor="middle" fill="#474747">G</text>
<circle cx="521.75" cy="203.70" r="2.25" fill="#dedede" stroke="#767676" stroke-width="0.5"/>
<text x="521.75" y="204.89" font-size="3.3" text-anchor="middle" fill="#474747">C</text>
<circle cx="521.75" cy="197.00" r="2.25" fill="#dedede" stroke="#767676" stroke-width="0.5"/>
<text x="521.75" y="198.19" font-size="3.3" text-anchor="middle" fill="#474747">C</text>
<circle cx="521.75" cy="191.50" r="2.25" fill="#dedede" stroke="#767676" stroke-width="0.5"/>
<text x="521.75" y="192.69" font-size="3.3" text-anchor="middle" fill="#474747">U</text>
<circle cx="527.20" cy="188.00" r="2.25" fill="#dedede" stroke="#767676" stroke-width="0.5"/>
<text x="527.20" y="189.19" font-size="3.3" text-anchor="middle" fill="#474747">C</text>
<circle cx="532.65" cy="191.50" r="2.25" fill="#dedede" stroke="#767676" stroke-width="0.5"/>
<text x="532.65" y="192.69" font-size="3.3" text-anchor="middle" fill="#474747">U</text>
<circle cx="532.65" cy="197.00" r="2.25" fill="#dedede" stroke="#767676" stroke-width="0.5"/>
<text x="532.65" y="198.19" font-size="3.3" text-anchor="middle" fill="#474747">G</text>
<circle cx="532.65" cy="203.70" r="2.25" fill="#dedede" stroke="#767676" stroke-width="0.5"/>
<text x="532.65" y="204.89" font-size="3.3" text-anchor="middle" fill="#474747">G</text>
<circle cx="532.65" cy="210.40" r="2.25" fill="#dedede" stroke="#767676" stroke-width="0.5"/>
<text x="532.65" y="211.59" font-size="3.3" text-anchor="middle" fill="#474747">C</text>
<circle cx="536.40" cy="215.60" r="2.45" fill="#c40f1b" stroke="#c40f1b" stroke-width="0.2"/>
<circle cx="536.40" cy="221.30" r="2.45" fill="#c40f1b" stroke="#c40f1b" stroke-width="0.2"/>
<circle cx="532.65" cy="226.00" r="2.25" fill="#dedede" stroke="#767676" stroke-width="0.5"/>
<text x="532.65" y="227.19" font-size="3.3" text-anchor="middle" fill="#474747">A</text>
<circle cx="532.65" cy="232.60" r="2.25" fill="#dedede" stroke="#767676" stroke-width="0.5"/>
<text x="532.65" y="233.79" font-size="3.3" text-anchor="middle" fill="#474747">G</text>
<circle cx="532.65" cy="239.20" r="2.25" fill="#dedede" stroke="#767676" stroke-width="0.5"/>
<text x="532.65" y="240.39" font-size="3.3" text-anchor="middle" fill="#474747">C</text>
<circle cx="532.65" cy="245.80" r="2.25" fill="#dedede" stroke="#767676" stroke-width="0.5"/>
<text x="532.65" y="246.99" font-size="3.3" text-anchor="middle" fill="#474747">C</text>
<circle cx="532.65" cy="252.40" r="2.25" fill="#dedede" stroke="#767676" stroke-width="0.5"/>
<text x="532.65" y="253.59" font-size="3.3" text-anchor="middle" fill="#474747">C</text>
<circle cx="532.65" cy="259.00" r="2.25" fill="#dedede" stroke="#767676" stroke-width="0.5"/>
<text x="532.65" y="260.19" font-size="3.3" text-anchor="middle" fill="#474747">U</text>
<circle cx="532.65" cy="265.60" r="2.25" fill="#dedede" stroke="#767676" stroke-width="0.5"/>
<text x="532.65" y="266.79" font-size="3.3" text-anchor="middle" fill="#474747">C</text>
<circle cx="532.65" cy="272.20" r="2.25" fill="#dedede" stroke="#767676" stroke-width="0.5"/>
<text x="532.65" y="273.39" font-size="3.3" text-anchor="middle" fill="#474747">U</text>
<circle cx="532.65" cy="278.80" r="2.25" fill="#dedede" stroke="#767676" stroke-width="0.5"/>
<text x="532.65" y="279.99" font-size="3.3" text-anchor="middle" fill="#474747">A</text>
<line x1="521.75" y1="283.00" x2="521.75" y2="284.80" stroke="#888" stroke-width="0.4" />
<line x1="532.65" y1="283.00" x2="532.65" y2="284.80" stroke="#888" stroke-width="0.4" />
<text x="521.75" y="290.40" font-size="5.2" text-anchor="middle" font-weight="normal" fill="#231f20" >1</text>
<text x="532.95" y="290.40" font-size="5.2" text-anchor="middle" font-weight="normal" fill="#231f20" textLength="4.6" lengthAdjust="spacingAndGlyphs">31</text>
<polyline points="572.55,275.54 572.55,269.01 572.55,262.48 572.55,255.95 572.55,249.42 572.55,242.89 572.55,236.36 572.55,229.83 572.55,223.30 568.40,219.20 567.10,213.90 568.40,208.20 572.55,204.30 572.55,197.70 572.55,192.50 578.00,189.20 583.45,192.50 583.45,197.70 583.45,204.30 587.60,208.20 588.90,213.90 587.60,219.20 583.45,223.30 583.45,229.83 583.45,236.36 583.45,242.89 583.45,249.42 583.45,255.95 583.45,262.48 583.45,269.01 583.45,275.54" fill="none" stroke="#9a9a9a" stroke-width="0.45"/>
<line x1="574.57" y1="275.54" x2="581.43" y2="275.54" stroke="#6f90d2" stroke-width="0.6" />
<line x1="574.57" y1="269.01" x2="581.43" y2="269.01" stroke="#aec2e8" stroke-width="0.6" />
<line x1="574.57" y1="262.48" x2="581.43" y2="262.48" stroke="#6f90d2" stroke-width="0.6" />
<line x1="574.57" y1="255.95" x2="581.43" y2="255.95" stroke="#6f90d2" stroke-width="0.6" />
<line x1="574.57" y1="249.42" x2="581.43" y2="249.42" stroke="#6f90d2" stroke-width="0.6" />
<line x1="574.57" y1="242.89" x2="581.43" y2="242.89" stroke="#aec2e8" stroke-width="0.6" />
<line x1="574.57" y1="236.36" x2="581.43" y2="236.36" stroke="#6f90d2" stroke-width="0.6" />
<line x1="574.57" y1="229.83" x2="581.43" y2="229.83" stroke="#6f90d2" stroke-width="0.6" />
<line x1="574.57" y1="223.30" x2="581.43" y2="223.30" stroke="#6f90d2" stroke-width="0.6" />
<line x1="574.57" y1="204.30" x2="581.43" y2="204.30" stroke="#6f90d2" stroke-width="0.6" />
<line x1="574.57" y1="197.70" x2="581.43" y2="197.70" stroke="#aec2e8" stroke-width="0.6" />
<circle cx="572.55" cy="275.54" r="2.25" fill="#dedede" stroke="#767676" stroke-width="0.5"/>
<text x="572.55" y="276.73" font-size="3.3" text-anchor="middle" fill="#474747">U</text>
<circle cx="572.55" cy="269.01" r="2.25" fill="#dedede" stroke="#767676" stroke-width="0.5"/>
<text x="572.55" y="270.20" font-size="3.3" text-anchor="middle" fill="#474747">A</text>
<circle cx="572.55" cy="262.48" r="2.25" fill="#dedede" stroke="#767676" stroke-width="0.5"/>
<text x="572.55" y="263.67" font-size="3.3" text-anchor="middle" fill="#474747">G</text>
<circle cx="572.55" cy="255.95" r="2.25" fill="#dedede" stroke="#767676" stroke-width="0.5"/>
<text x="572.55" y="257.14" font-size="3.3" text-anchor="middle" fill="#474747">G</text>
<circle cx="572.55" cy="249.42" r="2.25" fill="#dedede" stroke="#767676" stroke-width="0.5"/>
<text x="572.55" y="250.61" font-size="3.3" text-anchor="middle" fill="#474747">G</text>
<circle cx="572.55" cy="242.89" r="2.25" fill="#dedede" stroke="#767676" stroke-width="0.5"/>
<text x="572.55" y="244.08" font-size="3.3" text-anchor="middle" fill="#474747">G</text>
<circle cx="572.55" cy="236.36" r="2.25" fill="#dedede" stroke="#767676" stroke-width="0.5"/>
<text x="572.55" y="237.55" font-size="3.3" text-anchor="middle" fill="#474747">G</text>
<circle cx="572.55" cy="229.83" r="2.25" fill="#dedede" stroke="#767676" stroke-width="0.5"/>
<text x="572.55" y="231.02" font-size="3.3" text-anchor="middle" fill="#474747">C</text>
<circle cx="572.55" cy="223.30" r="2.25" fill="#dedede" stroke="#767676" stroke-width="0.5"/>
<text x="572.55" y="224.49" font-size="3.3" text-anchor="middle" fill="#474747">U</text>
<circle cx="568.40" cy="219.20" r="2.45" fill="#e8a526" stroke="#e8a526" stroke-width="0.2"/>
<circle cx="567.10" cy="213.90" r="2.45" fill="#e8a526" stroke="#e8a526" stroke-width="0.2"/>
<circle cx="568.40" cy="208.20" r="2.45" fill="#1b8ccc" stroke="#1b8ccc" stroke-width="0.2"/>
<circle cx="572.55" cy="204.30" r="2.25" fill="#dedede" stroke="#767676" stroke-width="0.5"/>
<text x="572.55" y="205.49" font-size="3.3" text-anchor="middle" fill="#474747">C</text>
<circle cx="572.55" cy="197.70" r="2.25" fill="#dedede" stroke="#767676" stroke-width="0.5"/>
<text x="572.55" y="198.89" font-size="3.3" text-anchor="middle" fill="#474747">C</text>
<circle cx="572.55" cy="192.50" r="2.25" fill="#dedede" stroke="#767676" stroke-width="0.5"/>
<text x="572.55" y="193.69" font-size="3.3" text-anchor="middle" fill="#474747">U</text>
<circle cx="578.00" cy="189.20" r="2.25" fill="#dedede" stroke="#767676" stroke-width="0.5"/>
<text x="578.00" y="190.39" font-size="3.3" text-anchor="middle" fill="#474747">C</text>
<circle cx="583.45" cy="192.50" r="2.25" fill="#dedede" stroke="#767676" stroke-width="0.5"/>
<text x="583.45" y="193.69" font-size="3.3" text-anchor="middle" fill="#474747">U</text>
<circle cx="583.45" cy="197.70" r="2.25" fill="#dedede" stroke="#767676" stroke-width="0.5"/>
<text x="583.45" y="198.89" font-size="3.3" text-anchor="middle" fill="#474747">G</text>
<circle cx="583.45" cy="204.30" r="2.25" fill="#dedede" stroke="#767676" stroke-width="0.5"/>
<text x="583.45" y="205.49" font-size="3.3" text-anchor="middle" fill="#474747">G</text>
<circle cx="587.60" cy="208.20" r="2.25" fill="#dedede" stroke="#767676" stroke-width="0.5"/>
<text x="587.60" y="209.39" font-size="3.3" text-anchor="middle" fill="#474747">C</text>
<circle cx="588.90" cy="213.90" r="2.25" fill="#dedede" stroke="#767676" stroke-width="0.5"/>
<text x="588.90" y="215.09" font-size="3.3" text-anchor="middle" fill="#474747">C</text>
<circle cx="587.60" cy="219.20" r="2.25" fill="#dedede" stroke="#767676" stroke-width="0.5"/>
<text x="587.60" y="220.39" font-size="3.3" text-anchor="middle" fill="#474747">C</text>
<circle cx="583.45" cy="223.30" r="2.25" fill="#dedede" stroke="#767676" stroke-width="0.5"/>
<text x="583.45" y="224.49" font-size="3.3" text-anchor="middle" fill="#474747">A</text>
<circle cx="583.45" cy="229.83" r="2.25" fill="#dedede" stroke="#767676" stroke-width="0.5"/>
<text x="583.45" y="231.02" font-size="3.3" text-anchor="middle" fill="#474747">G</text>
<circle cx="583.45" cy="236.36" r="2.25" fill="#dedede" stroke="#767676" stroke-width="0.5"/>
<text x="583.45" y="237.55" font-size="3.3" text-anchor="middle" fill="#474747">C</text>
<circle cx="583.45" cy="242.89" r="2.25" fill="#dedede" stroke="#767676" stroke-width="0.5"/>
<text x="583.45" y="244.08" font-size="3.3" text-anchor="middle" fill="#474747">C</text>
<circle cx="583.45" cy="249.42" r="2.25" fill="#dedede" stroke="#767676" stroke-width="0.5"/>
<text x="583.45" y="250.61" font-size="3.3" text-anchor="middle" fill="#474747">C</text>
<circle cx="583.45" cy="255.95" r="2.25" fill="#dedede" stroke="#767676" stroke-width="0.5"/>
<text x="583.45" y="257.14" font-size="3.3" text-anchor="middle" fill="#474747">U</text>
<circle cx="583.45" cy="262.48" r="2.25" fill="#dedede" stroke="#767676" stroke-width="0.5"/>
<text x="583.45" y="263.67" font-size="3.3" text-anchor="middle" fill="#474747">C</text>
<circle cx="583.45" cy="269.01" r="2.25" fill="#dedede" stroke="#767676" stroke-width="0.5"/>
<text x="583.45" y="270.20" font-size="3.3" text-anchor="middle" fill="#474747">U</text>
<circle cx="583.45" cy="275.54" r="2.25" fill="#dedede" stroke="#767676" stroke-width="0.5"/>
<text x="583.45" y="276.73" font-size="3.3" text-anchor="middle" fill="#474747">A</text>
<line x1="572.55" y1="279.74" x2="572.55" y2="281.54" stroke="#888" stroke-width="0.4" />
<line x1="583.45" y1="279.74" x2="583.45" y2="281.54" stroke="#888" stroke-width="0.4" />
<text x="572.55" y="287.14" font-size="5.2" text-anchor="middle" font-weight="normal" fill="#231f20" >1</text>
<text x="583.75" y="287.14" font-size="5.2" text-anchor="middle" font-weight="normal" fill="#231f20" textLength="4.6" lengthAdjust="spacingAndGlyphs">31</text>
<polyline points="601.25,275.54 601.25,269.01 601.25,262.48 601.25,255.95 601.25,249.42 601.25,242.89 601.25,236.36 601.25,229.83 601.25,223.30 597.10,219.20 595.80,213.90 597.10,208.20 601.25,204.30 601.25,197.70 601.25,192.50 606.70,189.20 612.15,192.50 612.15,197.70 612.15,204.30 616.30,208.20 617.60,213.90 616.30,219.20 612.15,223.30 612.15,229.83 612.15,236.36 612.15,242.89 612.15,249.42 612.15,255.95 612.15,262.48 612.15,269.01 612.15,275.54" fill="none" stroke="#9a9a9a" stroke-width="0.45"/>
<line x1="603.27" y1="275.54" x2="610.13" y2="275.54" stroke="#6f90d2" stroke-width="0.6" />
<line x1="603.27" y1="269.01" x2="610.13" y2="269.01" stroke="#aec2e8" stroke-width="0.6" />
<line x1="603.27" y1="262.48" x2="610.13" y2="262.48" stroke="#6f90d2" stroke-width="0.6" />
<line x1="603.27" y1="255.95" x2="610.13" y2="255.95" stroke="#6f90d2" stroke-width="0.6" />
<line x1="603.27" y1="249.42" x2="610.13" y2="249.42" stroke="#6f90d2" stroke-width="0.6" />
<line x1="603.27" y1="242.89" x2="610.13" y2="242.89" stroke="#aec2e8" stroke-width="0.6" />
<line x1="603.27" y1="236.36" x2="610.13" y2="236.36" stroke="#6f90d2" stroke-width="0.6" />
<line x1="603.27" y1="229.83" x2="610.13" y2="229.83" stroke="#6f90d2" stroke-width="0.6" />
<line x1="603.27" y1="223.30" x2="610.13" y2="223.30" stroke="#6f90d2" stroke-width="0.6" />
<line x1="603.27" y1="204.30" x2="610.13" y2="204.30" stroke="#6f90d2" stroke-width="0.6" />
<line x1="603.27" y1="197.70" x2="610.13" y2="197.70" stroke="#aec2e8" stroke-width="0.6" />
<circle cx="601.25" cy="275.54" r="2.25" fill="#dedede" stroke="#767676" stroke-width="0.5"/>
<text x="601.25" y="276.73" font-size="3.3" text-anchor="middle" fill="#474747">U</text>
<circle cx="601.25" cy="269.01" r="2.25" fill="#dedede" stroke="#767676" stroke-width="0.5"/>
<text x="601.25" y="270.20" font-size="3.3" text-anchor="middle" fill="#474747">A</text>
<circle cx="601.25" cy="262.48" r="2.25" fill="#dedede" stroke="#767676" stroke-width="0.5"/>
<text x="601.25" y="263.67" font-size="3.3" text-anchor="middle" fill="#474747">G</text>
<circle cx="601.25" cy="255.95" r="2.25" fill="#dedede" stroke="#767676" stroke-width="0.5"/>
<text x="601.25" y="257.14" font-size="3.3" text-anchor="middle" fill="#474747">G</text>
<circle cx="601.25" cy="249.42" r="2.25" fill="#dedede" stroke="#767676" stroke-width="0.5"/>
<text x="601.25" y="250.61" font-size="3.3" text-anchor="middle" fill="#474747">G</text>
<circle cx="601.25" cy="242.89" r="2.25" fill="#dedede" stroke="#767676" stroke-width="0.5"/>
<text x="601.25" y="244.08" font-size="3.3" text-anchor="middle" fill="#474747">G</text>
<circle cx="601.25" cy="236.36" r="2.25" fill="#dedede" stroke="#767676" stroke-width="0.5"/>
<text x="601.25" y="237.55" font-size="3.3" text-anchor="middle" fill="#474747">G</text>
<circle cx="601.25" cy="229.83" r="2.25" fill="#dedede" stroke="#767676" stroke-width="0.5"/>
<text x="601.25" y="231.02" font-size="3.3" text-anchor="middle" fill="#474747">C</text>
<circle cx="601.25" cy="223.30" r="2.25" fill="#dedede" stroke="#767676" stroke-width="0.5"/>
<text x="601.25" y="224.49" font-size="3.3" text-anchor="middle" fill="#474747">U</text>
<circle cx="597.10" cy="219.20" r="2.25" fill="#dedede" stroke="#767676" stroke-width="0.5"/>
<text x="597.10" y="220.39" font-size="3.3" text-anchor="middle" fill="#474747">U</text>
<circle cx="595.80" cy="213.90" r="2.25" fill="#dedede" stroke="#767676" stroke-width="0.5"/>
<text x="595.80" y="215.09" font-size="3.3" text-anchor="middle" fill="#474747">C</text>
<circle cx="597.10" cy="208.20" r="2.25" fill="#dedede" stroke="#767676" stroke-width="0.5"/>
<text x="597.10" y="209.39" font-size="3.3" text-anchor="middle" fill="#474747">G</text>
<circle cx="601.25" cy="204.30" r="2.25" fill="#dedede" stroke="#767676" stroke-width="0.5"/>
<text x="601.25" y="205.49" font-size="3.3" text-anchor="middle" fill="#474747">C</text>
<circle cx="601.25" cy="197.70" r="2.25" fill="#dedede" stroke="#767676" stroke-width="0.5"/>
<text x="601.25" y="198.89" font-size="3.3" text-anchor="middle" fill="#474747">C</text>
<circle cx="601.25" cy="192.50" r="2.25" fill="#dedede" stroke="#767676" stroke-width="0.5"/>
<text x="601.25" y="193.69" font-size="3.3" text-anchor="middle" fill="#474747">U</text>
<circle cx="606.70" cy="189.20" r="2.25" fill="#dedede" stroke="#767676" stroke-width="0.5"/>
<text x="606.70" y="190.39" font-size="3.3" text-anchor="middle" fill="#474747">C</text>
<circle cx="612.15" cy="192.50" r="2.25" fill="#dedede" stroke="#767676" stroke-width="0.5"/>
<text x="612.15" y="193.69" font-size="3.3" text-anchor="middle" fill="#474747">U</text>
<circle cx="612.15" cy="197.70" r="2.25" fill="#dedede" stroke="#767676" stroke-width="0.5"/>
<text x="612.15" y="198.89" font-size="3.3" text-anchor="middle" fill="#474747">G</text>
<circle cx="612.15" cy="204.30" r="2.25" fill="#dedede" stroke="#767676" stroke-width="0.5"/>
<text x="612.15" y="205.49" font-size="3.3" text-anchor="middle" fill="#474747">G</text>
<circle cx="616.30" cy="208.20" r="2.45" fill="#e8a526" stroke="#e8a526" stroke-width="0.2"/>
<circle cx="617.60" cy="213.90" r="2.45" fill="#e8a526" stroke="#e8a526" stroke-width="0.2"/>
<circle cx="616.30" cy="219.20" r="2.45" fill="#1b8ccc" stroke="#1b8ccc" stroke-width="0.2"/>
<circle cx="612.15" cy="223.30" r="2.25" fill="#dedede" stroke="#767676" stroke-width="0.5"/>
<text x="612.15" y="224.49" font-size="3.3" text-anchor="middle" fill="#474747">A</text>
<circle cx="612.15" cy="229.83" r="2.25" fill="#dedede" stroke="#767676" stroke-width="0.5"/>
<text x="612.15" y="231.02" font-size="3.3" text-anchor="middle" fill="#474747">G</text>
<circle cx="612.15" cy="236.36" r="2.25" fill="#dedede" stroke="#767676" stroke-width="0.5"/>
<text x="612.15" y="237.55" font-size="3.3" text-anchor="middle" fill="#474747">C</text>
<circle cx="612.15" cy="242.89" r="2.25" fill="#dedede" stroke="#767676" stroke-width="0.5"/>
<text x="612.15" y="244.08" font-size="3.3" text-anchor="middle" fill="#474747">C</text>
<circle cx="612.15" cy="249.42" r="2.25" fill="#dedede" stroke="#767676" stroke-width="0.5"/>
<text x="612.15" y="250.61" font-size="3.3" text-anchor="middle" fill="#474747">C</text>
<circle cx="612.15" cy="255.95" r="2.25" fill="#dedede" stroke="#767676" stroke-width="0.5"/>
<text x="612.15" y="257.14" font-size="3.3" text-anchor="middle" fill="#474747">U</text>
<circle cx="612.15" cy="262.48" r="2.25" fill="#dedede" stroke="#767676" stroke-width="0.5"/>
<text x="612.15" y="263.67" font-size="3.3" text-anchor="middle" fill="#474747">C</text>
<circle cx="612.15" cy="269.01" r="2.25" fill="#dedede" stroke="#767676" stroke-width="0.5"/>
<text x="612.15" y="270.20" font-size="3.3" text-anchor="middle" fill="#474747">U</text>
<circle cx="612.15" cy="275.54" r="2.25" fill="#dedede" stroke="#767676" stroke-width="0.5"/>
<text x="612.15" y="276.73" font-size="3.3" text-anchor="middle" fill="#474747">A</text>
<line x1="601.25" y1="279.74" x2="601.25" y2="281.54" stroke="#888" stroke-width="0.4" />
<line x1="612.15" y1="279.74" x2="612.15" y2="281.54" stroke="#888" stroke-width="0.4" />
<text x="601.25" y="287.14" font-size="5.2" text-anchor="middle" font-weight="normal" fill="#231f20" >1</text>
<text x="612.45" y="287.14" font-size="5.2" text-anchor="middle" font-weight="normal" fill="#231f20" textLength="4.6" lengthAdjust="spacingAndGlyphs">31</text>
<polyline points="629.65,275.54 629.65,269.01 629.65,262.48 629.65,255.95 629.65,249.42 629.65,242.89 629.65,236.36 629.65,229.83 629.65,223.30 625.50,219.20 624.20,213.90 625.50,208.20 629.65,204.30 629.65,197.70 629.65,192.50 635.10,189.20 640.55,192.50 640.55,197.70 640.55,204.30 644.70,208.20 646.00,213.90 644.70,219.20 640.55,223.30 640.55,229.83 640.55,236.36 640.55,242.89 640.55,249.42 640.55,255.95 640.55,262.48 640.55,269.01 640.55,275.54" fill="none" stroke="#9a9a9a" stroke-width="0.45"/>
<line x1="631.67" y1="275.54" x2="638.53" y2="275.54" stroke="#6f90d2" stroke-width="0.6" />
<line x1="631.67" y1="269.01" x2="638.53" y2="269.01" stroke="#aec2e8" stroke-width="0.6" />
<line x1="631.67" y1="262.48" x2="638.53" y2="262.48" stroke="#6f90d2" stroke-width="0.6" />
<line x1="631.67" y1="255.95" x2="638.53" y2="255.95" stroke="#6f90d2" stroke-width="0.6" />
<line x1="631.67" y1="249.42" x2="638.53" y2="249.42" stroke="#6f90d2" stroke-width="0.6" />
<line x1="631.67" y1="242.89" x2="638.53" y2="242.89" stroke="#aec2e8" stroke-width="0.6" />
<line x1="631.67" y1="236.36" x2="638.53" y2="236.36" stroke="#6f90d2" stroke-width="0.6" />
<line x1="631.67" y1="229.83" x2="638.53" y2="229.83" stroke="#6f90d2" stroke-width="0.6" />
<line x1="631.67" y1="223.30" x2="638.53" y2="223.30" stroke="#6f90d2" stroke-width="0.6" />
<line x1="631.67" y1="204.30" x2="638.53" y2="204.30" stroke="#6f90d2" stroke-width="0.6" />
<line x1="631.67" y1="197.70" x2="638.53" y2="197.70" stroke="#aec2e8" stroke-width="0.6" />
<circle cx="629.65" cy="275.54" r="2.25" fill="#dedede" stroke="#767676" stroke-width="0.5"/>
<text x="629.65" y="276.73" font-size="3.3" text-anchor="middle" fill="#474747">U</text>
<circle cx="629.65" cy="269.01" r="2.25" fill="#dedede" stroke="#767676" stroke-width="0.5"/>
<text x="629.65" y="270.20" font-size="3.3" text-anchor="middle" fill="#474747">A</text>
<circle cx="629.65" cy="262.48" r="2.25" fill="#dedede" stroke="#767676" stroke-width="0.5"/>
<text x="629.65" y="263.67" font-size="3.3" text-anchor="middle" fill="#474747">G</text>
<circle cx="629.65" cy="255.95" r="2.25" fill="#dedede" stroke="#767676" stroke-width="0.5"/>
<text x="629.65" y="257.14" font-size="3.3" text-anchor="middle" fill="#474747">G</text>
<circle cx="629.65" cy="249.42" r="2.25" fill="#dedede" stroke="#767676" stroke-width="0.5"/>
<text x="629.65" y="250.61" font-size="3.3" text-anchor="middle" fill="#474747">G</text>
<circle cx="629.65" cy="242.89" r="2.25" fill="#dedede" stroke="#767676" stroke-width="0.5"/>
<text x="629.65" y="244.08" font-size="3.3" text-anchor="middle" fill="#474747">G</text>
<circle cx="629.65" cy="236.36" r="2.25" fill="#dedede" stroke="#767676" stroke-width="0.5"/>
<text x="629.65" y="237.55" font-size="3.3" text-anchor="middle" fill="#474747">G</text>
<circle cx="629.65" cy="229.83" r="2.25" fill="#dedede" stroke="#767676" stroke-width="0.5"/>
<text x="629.65" y="231.02" font-size="3.3" text-anchor="middle" fill="#474747">C</text>
<circle cx="629.65" cy="223.30" r="2.25" fill="#dedede" stroke="#767676" stroke-width="0.5"/>
<text x="629.65" y="224.49" font-size="3.3" text-anchor="middle" fill="#474747">U</text>
<circle cx="625.50" cy="219.20" r="2.25" fill="#dedede" stroke="#767676" stroke-width="0.5"/>
<text x="625.50" y="220.39" font-size="3.3" text-anchor="middle" fill="#474747">U</text>
<circle cx="624.20" cy="213.90" r="2.25" fill="#dedede" stroke="#767676" stroke-width="0.5"/>
<text x="624.20" y="215.09" font-size="3.3" text-anchor="middle" fill="#474747">C</text>
<circle cx="625.50" cy="208.20" r="2.45" fill="#e8a526" stroke="#e8a526" stroke-width="0.2"/>
<circle cx="629.65" cy="204.30" r="2.25" fill="#dedede" stroke="#767676" stroke-width="0.5"/>
<text x="629.65" y="205.49" font-size="3.3" text-anchor="middle" fill="#474747">C</text>
<circle cx="629.65" cy="197.70" r="2.25" fill="#dedede" stroke="#767676" stroke-width="0.5"/>
<text x="629.65" y="198.89" font-size="3.3" text-anchor="middle" fill="#474747">C</text>
<circle cx="629.65" cy="192.50" r="2.25" fill="#dedede" stroke="#767676" stroke-width="0.5"/>
<text x="629.65" y="193.69" font-size="3.3" text-anchor="middle" fill="#474747">U</text>
<circle cx="635.10" cy="189.20" r="2.25" fill="#dedede" stroke="#767676" stroke-width="0.5"/>
<text x="635.10" y="190.39" font-size="3.3" text-anchor="middle" fill="#474747">C</text>
<circle cx="640.55" cy="192.50" r="2.25" fill="#dedede" stroke="#767676" stroke-width="0.5"/>
<text x="640.55" y="193.69" font-size="3.3" text-anchor="middle" fill="#474747">U</text>
<circle cx="640.55" cy="197.70" r="2.25" fill="#dedede" stroke="#767676" stroke-width="0.5"/>
<text x="640.55" y="198.89" font-size="3.3" text-anchor="middle" fill="#474747">G</text>
<circle cx="640.55" cy="204.30" r="2.25" fill="#dedede" stroke="#767676" stroke-width="0.5"/>
<text x="640.55" y="205.49" font-size="3.3" text-anchor="middle" fill="#474747">G</text>
<circle cx="644.70" cy="208.20" r="2.45" fill="#c40f1b" stroke="#c40f1b" stroke-width="0.2"/>
<circle cx="646.00" cy="213.90" r="2.25" fill="#dedede" stroke="#767676" stroke-width="0.5"/>
<text x="646.00" y="215.09" font-size="3.3" text-anchor="middle" fill="#474747">C</text>
<circle cx="644.70" cy="219.20" r="2.25" fill="#dedede" stroke="#767676" stroke-width="0.5"/>
<text x="644.70" y="220.39" font-size="3.3" text-anchor="middle" fill="#474747">C</text>
<circle cx="640.55" cy="223.30" r="2.25" fill="#dedede" stroke="#767676" stroke-width="0.5"/>
<text x="640.55" y="224.49" font-size="3.3" text-anchor="middle" fill="#474747">A</text>
<circle cx="640.55" cy="229.83" r="2.25" fill="#dedede" stroke="#767676" stroke-width="0.5"/>
<text x="640.55" y="231.02" font-size="3.3" text-anchor="middle" fill="#474747">G</text>
<circle cx="640.55" cy="236.36" r="2.25" fill="#dedede" stroke="#767676" stroke-width="0.5"/>
<text x="640.55" y="237.55" font-size="3.3" text-anchor="middle" fill="#474747">C</text>
<circle cx="640.55" cy="242.89" r="2.25" fill="#dedede" stroke="#767676" stroke-width="0.5"/>
<text x="640.55" y="244.08" font-size="3.3" text-anchor="middle" fill="#474747">C</text>
<circle cx="640.55" cy="249.42" r="2.25" fill="#dedede" stroke="#767676" stroke-width="0.5"/>
<text x="640.55" y="250.61" font-size="3.3" text-anchor="middle" fill="#474747">C</text>
<circle cx="640.55" cy="255.95" r="2.25" fill="#dedede" stroke="#767676" stroke-width="0.5"/>
<text x="640.55" y="257.14" font-size="3.3" text-anchor="middle" fill="#474747">U</text>
<circle cx="640.55" cy="262.48" r="2.25" fill="#dedede" stroke="#767676" stroke-width="0.5"/>
<text x="640.55" y="263.67" font-size="3.3" text-anchor="middle" fill="#474747">C</text>
<circle cx="640.55" cy="269.01" r="2.25" fill="#dedede" stroke="#767676" stroke-width="0.5"/>
<text x="640.55" y="270.20" font-size="3.3" text-anchor="middle" fill="#474747">U</text>
<circle cx="640.55" cy="275.54" r="2.25" fill="#dedede" stroke="#767676" stroke-width="0.5"/>
<text x="640.55" y="276.73" font-size="3.3" text-anchor="middle" fill="#474747">A</text>
<line x1="629.65" y1="279.74" x2="629.65" y2="281.54" stroke="#888" stroke-width="0.4" />
<line x1="640.55" y1="279.74" x2="640.55" y2="281.54" stroke="#888" stroke-width="0.4" />
<text x="629.65" y="287.14" font-size="5.2" text-anchor="middle" font-weight="normal" fill="#231f20" >1</text>
<text x="640.85" y="287.14" font-size="5.2" text-anchor="middle" font-weight="normal" fill="#231f20" textLength="4.6" lengthAdjust="spacingAndGlyphs">31</text>
<polyline points="658.45,275.54 658.45,269.01 658.45,262.48 658.45,255.95 658.45,249.42 658.45,242.89 658.45,236.36 658.45,229.83 658.45,223.30 654.30,219.20 653.00,213.90 654.30,208.20 658.45,204.30 658.45,197.70 658.45,192.50 663.90,189.20 669.35,192.50 669.35,197.70 669.35,204.30 673.50,208.20 674.80,213.90 673.50,219.20 669.35,223.30 669.35,229.83 669.35,236.36 669.35,242.89 669.35,249.42 669.35,255.95 669.35,262.48 669.35,269.01 669.35,275.54" fill="none" stroke="#9a9a9a" stroke-width="0.45"/>
<line x1="660.47" y1="275.54" x2="667.33" y2="275.54" stroke="#6f90d2" stroke-width="0.6" />
<line x1="660.47" y1="269.01" x2="667.33" y2="269.01" stroke="#aec2e8" stroke-width="0.6" />
<line x1="660.47" y1="262.48" x2="667.33" y2="262.48" stroke="#6f90d2" stroke-width="0.6" />
<line x1="660.47" y1="255.95" x2="667.33" y2="255.95" stroke="#6f90d2" stroke-width="0.6" />
<line x1="660.47" y1="249.42" x2="667.33" y2="249.42" stroke="#6f90d2" stroke-width="0.6" />
<line x1="660.47" y1="242.89" x2="667.33" y2="242.89" stroke="#aec2e8" stroke-width="0.6" />
<line x1="660.47" y1="236.36" x2="667.33" y2="236.36" stroke="#6f90d2" stroke-width="0.6" />
<line x1="660.47" y1="229.83" x2="667.33" y2="229.83" stroke="#6f90d2" stroke-width="0.6" />
<line x1="660.47" y1="223.30" x2="667.33" y2="223.30" stroke="#6f90d2" stroke-width="0.6" />
<line x1="660.47" y1="204.30" x2="667.33" y2="204.30" stroke="#6f90d2" stroke-width="0.6" />
<line x1="660.47" y1="197.70" x2="667.33" y2="197.70" stroke="#aec2e8" stroke-width="0.6" />
<circle cx="658.45" cy="275.54" r="2.25" fill="#dedede" stroke="#767676" stroke-width="0.5"/>
<text x="658.45" y="276.73" font-size="3.3" text-anchor="middle" fill="#474747">U</text>
<circle cx="658.45" cy="269.01" r="2.25" fill="#dedede" stroke="#767676" stroke-width="0.5"/>
<text x="658.45" y="270.20" font-size="3.3" text-anchor="middle" fill="#474747">A</text>
<circle cx="658.45" cy="262.48" r="2.25" fill="#dedede" stroke="#767676" stroke-width="0.5"/>
<text x="658.45" y="263.67" font-size="3.3" text-anchor="middle" fill="#474747">G</text>
<circle cx="658.45" cy="255.95" r="2.25" fill="#dedede" stroke="#767676" stroke-width="0.5"/>
<text x="658.45" y="257.14" font-size="3.3" text-anchor="middle" fill="#474747">G</text>
<circle cx="658.45" cy="249.42" r="2.25" fill="#dedede" stroke="#767676" stroke-width="0.5"/>
<text x="658.45" y="250.61" font-size="3.3" text-anchor="middle" fill="#474747">G</text>
<circle cx="658.45" cy="242.89" r="2.25" fill="#dedede" stroke="#767676" stroke-width="0.5"/>
<text x="658.45" y="244.08" font-size="3.3" text-anchor="middle" fill="#474747">G</text>
<circle cx="658.45" cy="236.36" r="2.25" fill="#dedede" stroke="#767676" stroke-width="0.5"/>
<text x="658.45" y="237.55" font-size="3.3" text-anchor="middle" fill="#474747">G</text>
<circle cx="658.45" cy="229.83" r="2.25" fill="#dedede" stroke="#767676" stroke-width="0.5"/>
<text x="658.45" y="231.02" font-size="3.3" text-anchor="middle" fill="#474747">C</text>
<circle cx="658.45" cy="223.30" r="2.25" fill="#dedede" stroke="#767676" stroke-width="0.5"/>
<text x="658.45" y="224.49" font-size="3.3" text-anchor="middle" fill="#474747">U</text>
<circle cx="654.30" cy="219.20" r="2.45" fill="#e8a526" stroke="#e8a526" stroke-width="0.2"/>
<circle cx="653.00" cy="213.90" r="2.45" fill="#1b8ccc" stroke="#1b8ccc" stroke-width="0.2"/>
<circle cx="654.30" cy="208.20" r="2.45" fill="#1b8ccc" stroke="#1b8ccc" stroke-width="0.2"/>
<circle cx="658.45" cy="204.30" r="2.25" fill="#dedede" stroke="#767676" stroke-width="0.5"/>
<text x="658.45" y="205.49" font-size="3.3" text-anchor="middle" fill="#474747">C</text>
<circle cx="658.45" cy="197.70" r="2.25" fill="#dedede" stroke="#767676" stroke-width="0.5"/>
<text x="658.45" y="198.89" font-size="3.3" text-anchor="middle" fill="#474747">C</text>
<circle cx="658.45" cy="192.50" r="2.25" fill="#dedede" stroke="#767676" stroke-width="0.5"/>
<text x="658.45" y="193.69" font-size="3.3" text-anchor="middle" fill="#474747">U</text>
<circle cx="663.90" cy="189.20" r="2.25" fill="#dedede" stroke="#767676" stroke-width="0.5"/>
<text x="663.90" y="190.39" font-size="3.3" text-anchor="middle" fill="#474747">C</text>
<circle cx="669.35" cy="192.50" r="2.25" fill="#dedede" stroke="#767676" stroke-width="0.5"/>
<text x="669.35" y="193.69" font-size="3.3" text-anchor="middle" fill="#474747">U</text>
<circle cx="669.35" cy="197.70" r="2.25" fill="#dedede" stroke="#767676" stroke-width="0.5"/>
<text x="669.35" y="198.89" font-size="3.3" text-anchor="middle" fill="#474747">G</text>
<circle cx="669.35" cy="204.30" r="2.25" fill="#dedede" stroke="#767676" stroke-width="0.5"/>
<text x="669.35" y="205.49" font-size="3.3" text-anchor="middle" fill="#474747">G</text>
<circle cx="673.50" cy="208.20" r="2.45" fill="#1b8ccc" stroke="#1b8ccc" stroke-width="0.2"/>
<circle cx="674.80" cy="213.90" r="2.45" fill="#1b8ccc" stroke="#1b8ccc" stroke-width="0.2"/>
<circle cx="673.50" cy="219.20" r="2.45" fill="#c40f1b" stroke="#c40f1b" stroke-width="0.2"/>
<circle cx="669.35" cy="223.30" r="2.25" fill="#dedede" stroke="#767676" stroke-width="0.5"/>
<text x="669.35" y="224.49" font-size="3.3" text-anchor="middle" fill="#474747">A</text>
<circle cx="669.35" cy="229.83" r="2.25" fill="#dedede" stroke="#767676" stroke-width="0.5"/>
<text x="669.35" y="231.02" font-size="3.3" text-anchor="middle" fill="#474747">G</text>
<circle cx="669.35" cy="236.36" r="2.25" fill="#dedede" stroke="#767676" stroke-width="0.5"/>
<text x="669.35" y="237.55" font-size="3.3" text-anchor="middle" fill="#474747">C</text>
<circle cx="669.35" cy="242.89" r="2.25" fill="#dedede" stroke="#767676" stroke-width="0.5"/>
<text x="669.35" y="244.08" font-size="3.3" text-anchor="middle" fill="#474747">C</text>
<circle cx="669.35" cy="249.42" r="2.25" fill="#dedede" stroke="#767676" stroke-width="0.5"/>
<text x="669.35" y="250.61" font-size="3.3" text-anchor="middle" fill="#474747">C</text>
<circle cx="669.35" cy="255.95" r="2.25" fill="#dedede" stroke="#767676" stroke-width="0.5"/>
<text x="669.35" y="257.14" font-size="3.3" text-anchor="middle" fill="#474747">U</text>
<circle cx="669.35" cy="262.48" r="2.25" fill="#dedede" stroke="#767676" stroke-width="0.5"/>
<text x="669.35" y="263.67" font-size="3.3" text-anchor="middle" fill="#474747">C</text>
<circle cx="669.35" cy="269.01" r="2.25" fill="#dedede" stroke="#767676" stroke-width="0.5"/>
<text x="669.35" y="270.20" font-size="3.3" text-anchor="middle" fill="#474747">U</text>
<circle cx="669.35" cy="275.54" r="2.25" fill="#dedede" stroke="#767676" stroke-width="0.5"/>
<text x="669.35" y="276.73" font-size="3.3" text-anchor="middle" fill="#474747">A</text>
<line x1="658.45" y1="279.74" x2="658.45" y2="281.54" stroke="#888" stroke-width="0.4" />
<line x1="669.35" y1="279.74" x2="669.35" y2="281.54" stroke="#888" stroke-width="0.4" />
<text x="658.45" y="287.14" font-size="5.2" text-anchor="middle" font-weight="normal" fill="#231f20" >1</text>
<text x="669.65" y="287.14" font-size="5.2" text-anchor="middle" font-weight="normal" fill="#231f20" textLength="4.6" lengthAdjust="spacingAndGlyphs">31</text>
<text x="13.10" y="302.60" font-size="7.6" text-anchor="middle" font-weight="normal" fill="#231f20"  textLength="10.40" lengthAdjust="spacingAndGlyphs">WT</text>
<text x="50.60" y="302.60" font-size="7.6" text-anchor="middle" font-weight="normal" fill="#231f20"  textLength="9.29" lengthAdjust="spacingAndGlyphs">M1</text>
<text x="79.90" y="302.60" font-size="7.6" text-anchor="middle" font-weight="normal" fill="#231f20"  textLength="9.29" lengthAdjust="spacingAndGlyphs">M2</text>
<text x="107.30" y="302.60" font-size="7.6" text-anchor="middle" font-weight="normal" fill="#231f20"  textLength="9.29" lengthAdjust="spacingAndGlyphs">M3</text>
<text x="136.40" y="302.60" font-size="7.6" text-anchor="middle" font-weight="normal" fill="#231f20"  textLength="9.29" lengthAdjust="spacingAndGlyphs">M4</text>
<text x="184.70" y="302.60" font-size="7.6" text-anchor="middle" font-weight="normal" fill="#231f20"  textLength="9.29" lengthAdjust="spacingAndGlyphs">M5</text>
<text x="213.60" y="302.60" font-size="7.6" text-anchor="middle" font-weight="normal" fill="#231f20"  textLength="9.29" lengthAdjust="spacingAndGlyphs">M6</text>
<text x="241.50" y="302.60" font-size="7.6" text-anchor="middle" font-weight="normal" fill="#231f20"  textLength="9.29" lengthAdjust="spacingAndGlyphs">M7</text>
<text x="270.50" y="302.60" font-size="7.6" text-anchor="middle" font-weight="normal" fill="#231f20"  textLength="9.29" lengthAdjust="spacingAndGlyphs">M8</text>
<text x="315.20" y="302.60" font-size="7.6" text-anchor="middle" font-weight="normal" fill="#231f20"  textLength="9.29" lengthAdjust="spacingAndGlyphs">M9</text>
<text x="342.40" y="302.60" font-size="7.6" text-anchor="middle" font-weight="normal" fill="#231f20"  textLength="13.01" lengthAdjust="spacingAndGlyphs">M10</text>
<text x="370.30" y="302.60" font-size="7.6" text-anchor="middle" font-weight="normal" fill="#231f20"  textLength="12.51" lengthAdjust="spacingAndGlyphs">M11</text>
<text x="400.00" y="302.60" font-size="7.6" text-anchor="middle" font-weight="normal" fill="#231f20"  textLength="13.01" lengthAdjust="spacingAndGlyphs">M12</text>
<text x="442.30" y="302.60" font-size="7.6" text-anchor="middle" font-weight="normal" fill="#231f20"  textLength="13.01" lengthAdjust="spacingAndGlyphs">M13</text>
<text x="471.60" y="302.60" font-size="7.6" text-anchor="middle" font-weight="normal" fill="#231f20"  textLength="13.01" lengthAdjust="spacingAndGlyphs">M14</text>
<text x="498.80" y="302.60" font-size="7.6" text-anchor="middle" font-weight="normal" fill="#231f20"  textLength="13.01" lengthAdjust="spacingAndGlyphs">M15</text>
<text x="528.40" y="302.60" font-size="7.6" text-anchor="middle" font-weight="normal" fill="#231f20"  textLength="13.01" lengthAdjust="spacingAndGlyphs">M16</text>
<text x="578.00" y="302.60" font-size="7.6" text-anchor="middle" font-weight="normal" fill="#231f20"  textLength="13.01" lengthAdjust="spacingAndGlyphs">M17</text>
<text x="607.30" y="302.60" font-size="7.6" text-anchor="middle" font-weight="normal" fill="#231f20"  textLength="13.01" lengthAdjust="spacingAndGlyphs">M18</text>
<text x="635.10" y="302.60" font-size="7.6" text-anchor="middle" font-weight="normal" fill="#231f20"  textLength="13.01" lengthAdjust="spacingAndGlyphs">M19</text>
<text x="664.00" y="302.60" font-size="7.6" text-anchor="middle" font-weight="normal" fill="#231f20"  textLength="13.01" lengthAdjust="spacingAndGlyphs">M20</text>
<rect x="50.8" y="330.8" width="56.6" height="117" fill="#e6e4f0"/>
<rect x="108.6" y="330.8" width="57.7" height="117" fill="#ebebe8"/>
<rect x="167.4" y="330.8" width="56.0" height="117" fill="#f3eded"/>
<rect x="224.3" y="330.8" width="57.9" height="117" fill="#fbf7f1"/>
<rect x="283.2" y="330.8" width="58.5" height="117" fill="#f1f1f1"/>
<line x1="36.00" y1="347.20" x2="339.40" y2="347.20" stroke="#8c8c8c" stroke-width="0.85" stroke-dasharray="3.4,2.4"/>
<rect x="37.80" y="342.2" width="9.9" height="39.90" fill="#5aae8b"/>
<line x1="42.75" y1="382.10" x2="42.75" y2="384.40" stroke="#555" stroke-width="0.5" />
<text x="42.75" y="393.90" font-size="6.4" text-anchor="middle" font-weight="normal" fill="#333"  textLength="8.76" lengthAdjust="spacingAndGlyphs">WT</text>
<rect x="52.31" y="363.1" width="9.9" height="19.00" fill="#5aae8b"/>
<line x1="57.26" y1="382.10" x2="57.26" y2="384.40" stroke="#555" stroke-width="0.5" />
<text x="57.26" y="393.90" font-size="6.4" text-anchor="middle" font-weight="normal" fill="#333"  textLength="7.82" lengthAdjust="spacingAndGlyphs">M1</text>
<rect x="66.82" y="360.8" width="9.9" height="21.30" fill="#5aae8b"/>
<line x1="71.77" y1="382.10" x2="71.77" y2="384.40" stroke="#555" stroke-width="0.5" />
<text x="71.77" y="393.90" font-size="6.4" text-anchor="middle" font-weight="normal" fill="#333"  textLength="7.82" lengthAdjust="spacingAndGlyphs">M2</text>
<rect x="81.33" y="361.9" width="9.9" height="20.20" fill="#5aae8b"/>
<line x1="86.28" y1="382.10" x2="86.28" y2="384.40" stroke="#555" stroke-width="0.5" />
<text x="86.28" y="393.90" font-size="6.4" text-anchor="middle" font-weight="normal" fill="#333"  textLength="7.82" lengthAdjust="spacingAndGlyphs">M3</text>
<rect x="95.84" y="359.8" width="9.9" height="22.30" fill="#5aae8b"/>
<line x1="100.79" y1="382.10" x2="100.79" y2="384.40" stroke="#555" stroke-width="0.5" />
<text x="100.79" y="393.90" font-size="6.4" text-anchor="middle" font-weight="normal" fill="#333"  textLength="7.82" lengthAdjust="spacingAndGlyphs">M4</text>
<rect x="110.35" y="363.1" width="9.9" height="19.00" fill="#5aae8b"/>
<line x1="115.30" y1="382.10" x2="115.30" y2="384.40" stroke="#555" stroke-width="0.5" />
<text x="115.30" y="393.90" font-size="6.4" text-anchor="middle" font-weight="normal" fill="#333"  textLength="7.82" lengthAdjust="spacingAndGlyphs">M5</text>
<rect x="124.86" y="355.0" width="9.9" height="27.10" fill="#5aae8b"/>
<line x1="129.81" y1="382.10" x2="129.81" y2="384.40" stroke="#555" stroke-width="0.5" />
<text x="129.81" y="393.90" font-size="6.4" text-anchor="middle" font-weight="normal" fill="#333"  textLength="7.82" lengthAdjust="spacingAndGlyphs">M6</text>
<rect x="139.37" y="358.9" width="9.9" height="23.20" fill="#5aae8b"/>
<line x1="144.32" y1="382.10" x2="144.32" y2="384.40" stroke="#555" stroke-width="0.5" />
<text x="144.32" y="393.90" font-size="6.4" text-anchor="middle" font-weight="normal" fill="#333"  textLength="7.82" lengthAdjust="spacingAndGlyphs">M7</text>
<rect x="153.88" y="353.4" width="9.9" height="28.70" fill="#5aae8b"/>
<line x1="158.83" y1="382.10" x2="158.83" y2="384.40" stroke="#555" stroke-width="0.5" />
<text x="158.83" y="393.90" font-size="6.4" text-anchor="middle" font-weight="normal" fill="#333"  textLength="7.82" lengthAdjust="spacingAndGlyphs">M8</text>
<rect x="168.39" y="345.4" width="9.9" height="36.70" fill="#5aae8b"/>
<line x1="173.34" y1="382.10" x2="173.34" y2="384.40" stroke="#555" stroke-width="0.5" />
<text x="173.34" y="393.90" font-size="6.4" text-anchor="middle" font-weight="normal" fill="#333"  textLength="7.82" lengthAdjust="spacingAndGlyphs">M9</text>
<rect x="182.90" y="357.3" width="9.9" height="24.80" fill="#5aae8b"/>
<line x1="187.85" y1="382.10" x2="187.85" y2="384.40" stroke="#555" stroke-width="0.5" />
<text x="187.85" y="393.90" font-size="6.4" text-anchor="middle" font-weight="normal" fill="#333"  textLength="10.96" lengthAdjust="spacingAndGlyphs">M10</text>
<rect x="197.41" y="373.4" width="9.9" height="8.70" fill="#5aae8b"/>
<line x1="202.36" y1="382.10" x2="202.36" y2="384.40" stroke="#555" stroke-width="0.5" />
<text x="202.36" y="393.90" font-size="6.4" text-anchor="middle" font-weight="normal" fill="#333"  textLength="10.54" lengthAdjust="spacingAndGlyphs">M11</text>
<rect x="211.92" y="352.8" width="9.9" height="29.30" fill="#5aae8b"/>
<line x1="216.87" y1="382.10" x2="216.87" y2="384.40" stroke="#555" stroke-width="0.5" />
<text x="216.87" y="393.90" font-size="6.4" text-anchor="middle" font-weight="normal" fill="#333"  textLength="10.96" lengthAdjust="spacingAndGlyphs">M12</text>
<rect x="226.43" y="347.0" width="9.9" height="35.10" fill="#5aae8b"/>
<line x1="231.38" y1="382.10" x2="231.38" y2="384.40" stroke="#555" stroke-width="0.5" />
<text x="231.38" y="393.90" font-size="6.4" text-anchor="middle" font-weight="normal" fill="#333"  textLength="10.96" lengthAdjust="spacingAndGlyphs">M13</text>
<rect x="240.94" y="357.3" width="9.9" height="24.80" fill="#5aae8b"/>
<line x1="245.89" y1="382.10" x2="245.89" y2="384.40" stroke="#555" stroke-width="0.5" />
<text x="245.89" y="393.90" font-size="6.4" text-anchor="middle" font-weight="normal" fill="#333"  textLength="10.96" lengthAdjust="spacingAndGlyphs">M14</text>
<rect x="255.45" y="341.2" width="9.9" height="40.90" fill="#5aae8b"/>
<line x1="260.40" y1="382.10" x2="260.40" y2="384.40" stroke="#555" stroke-width="0.5" />
<text x="260.40" y="393.90" font-size="6.4" text-anchor="middle" font-weight="normal" fill="#333"  textLength="10.96" lengthAdjust="spacingAndGlyphs">M15</text>
<rect x="269.96" y="375.3" width="9.9" height="6.80" fill="#5aae8b"/>
<line x1="274.91" y1="382.10" x2="274.91" y2="384.40" stroke="#555" stroke-width="0.5" />
<text x="274.91" y="393.90" font-size="6.4" text-anchor="middle" font-weight="normal" fill="#333"  textLength="10.96" lengthAdjust="spacingAndGlyphs">M16</text>
<rect x="284.47" y="341.2" width="9.9" height="40.90" fill="#5aae8b"/>
<line x1="289.42" y1="382.10" x2="289.42" y2="384.40" stroke="#555" stroke-width="0.5" />
<text x="289.42" y="393.90" font-size="6.4" text-anchor="middle" font-weight="normal" fill="#333"  textLength="10.96" lengthAdjust="spacingAndGlyphs">M17</text>
<rect x="298.98" y="352.8" width="9.9" height="29.30" fill="#5aae8b"/>
<line x1="303.93" y1="382.10" x2="303.93" y2="384.40" stroke="#555" stroke-width="0.5" />
<text x="303.93" y="393.90" font-size="6.4" text-anchor="middle" font-weight="normal" fill="#333"  textLength="10.96" lengthAdjust="spacingAndGlyphs">M18</text>
<rect x="313.49" y="342.8" width="9.9" height="39.30" fill="#5aae8b"/>
<line x1="318.44" y1="382.10" x2="318.44" y2="384.40" stroke="#555" stroke-width="0.5" />
<text x="318.44" y="393.90" font-size="6.4" text-anchor="middle" font-weight="normal" fill="#333"  textLength="10.96" lengthAdjust="spacingAndGlyphs">M19</text>
<rect x="328.00" y="346.0" width="9.9" height="36.10" fill="#5aae8b"/>
<line x1="332.95" y1="382.10" x2="332.95" y2="384.40" stroke="#555" stroke-width="0.5" />
<text x="332.95" y="393.90" font-size="6.4" text-anchor="middle" font-weight="normal" fill="#333"  textLength="10.96" lengthAdjust="spacingAndGlyphs">M20</text>
<line x1="35.70" y1="332.20" x2="35.70" y2="382.40" stroke="#444" stroke-width="0.6" />
<line x1="35.40" y1="382.10" x2="339.40" y2="382.10" stroke="#444" stroke-width="0.6" />
<line x1="33.40" y1="332.40" x2="35.70" y2="332.40" stroke="#444" stroke-width="0.6" />
<text x="31.60" y="334.70" font-size="6.6" text-anchor="end" font-weight="normal" fill="#231f20" >1.0</text>
<line x1="33.40" y1="357.25" x2="35.70" y2="357.25" stroke="#444" stroke-width="0.6" />
<text x="31.60" y="359.55" font-size="6.6" text-anchor="end" font-weight="normal" fill="#231f20" >0.5</text>
<line x1="33.40" y1="382.10" x2="35.70" y2="382.10" stroke="#444" stroke-width="0.6" />
<text x="31.60" y="384.40" font-size="6.6" text-anchor="end" font-weight="normal" fill="#231f20" >0</text>
<polyline points="78.7,360.8 136.7,357.6 195.0,356.7 253.0,354.0 311.3,345.4" fill="none" stroke="#e0242b" stroke-width="0.9" stroke-dasharray="1.1,1.3"/>
<circle cx="78.7" cy="360.8" r="1.35" fill="#e0242b"/>
<circle cx="136.7" cy="357.6" r="1.35" fill="#e0242b"/>
<circle cx="195.0" cy="356.7" r="1.35" fill="#e0242b"/>
<circle cx="253.0" cy="354.0" r="1.35" fill="#e0242b"/>
<circle cx="311.3" cy="345.4" r="1.35" fill="#e0242b"/>
<text x="7.00" y="360.00" font-size="8.2" text-anchor="middle" font-weight="normal" fill="#231f20" transform="rotate(-90 7.0 360.0)" textLength="46" lengthAdjust="spacingAndGlyphs">Binding score</text>
<rect x="37.80" y="408.9" width="9.9" height="16.3" fill="#91afd3"/>
<rect x="52.31" y="425.6" width="9.9" height="16.4" fill="#d9514a"/>
<rect x="66.82" y="425.6" width="9.9" height="16.4" fill="#d9514a"/>
<rect x="81.33" y="425.6" width="9.9" height="16.4" fill="#d9514a"/>
<rect x="95.84" y="425.6" width="9.9" height="16.4" fill="#d9514a"/>
<rect x="110.35" y="425.6" width="9.9" height="16.4" fill="#d9514a"/>
<rect x="124.86" y="425.6" width="9.9" height="16.4" fill="#d9514a"/>
<rect x="139.37" y="425.6" width="9.9" height="16.4" fill="#d9514a"/>
<rect x="153.88" y="408.9" width="9.9" height="16.3" fill="#91afd3"/>
<rect x="168.39" y="408.9" width="9.9" height="16.3" fill="#91afd3"/>
<rect x="182.90" y="425.6" width="9.9" height="16.4" fill="#d9514a"/>
<rect x="197.41" y="425.6" width="9.9" height="16.4" fill="#d9514a"/>
<rect x="211.92" y="425.6" width="9.9" height="16.4" fill="#d9514a"/>
<rect x="226.43" y="425.6" width="9.9" height="16.4" fill="#d9514a"/>
<rect x="240.94" y="425.6" width="9.9" height="16.4" fill="#d9514a"/>
<rect x="255.45" y="408.9" width="9.9" height="16.3" fill="#91afd3"/>
<rect x="269.96" y="425.6" width="9.9" height="16.4" fill="#d9514a"/>
<rect x="284.47" y="408.9" width="9.9" height="16.3" fill="#91afd3"/>
<rect x="298.98" y="408.9" width="9.9" height="16.3" fill="#91afd3"/>
<rect x="313.49" y="408.9" width="9.9" height="16.3" fill="#91afd3"/>
<rect x="328.00" y="408.9" width="9.9" height="16.3" fill="#91afd3"/>
<line x1="35.60" y1="409.00" x2="35.60" y2="440.00" stroke="#444" stroke-width="0.6" />
<line x1="33.30" y1="409.00" x2="35.60" y2="409.00" stroke="#444" stroke-width="0.6" />
<line x1="33.30" y1="440.00" x2="35.60" y2="440.00" stroke="#444" stroke-width="0.6" />
<line x1="33.30" y1="425.30" x2="339.40" y2="425.30" stroke="#444" stroke-width="0.6" />
<text x="15.30" y="406.00" font-size="6.6" text-anchor="start" font-weight="normal" fill="#231f20" textLength="20.8" lengthAdjust="spacingAndGlyphs">Binding</text>
<text x="13.90" y="451.80" font-size="6.6" text-anchor="start" font-weight="normal" fill="#231f20" textLength="33.9" lengthAdjust="spacingAndGlyphs">Non binding</text>
<text x="7.00" y="423.60" font-size="8.2" text-anchor="middle" font-weight="normal" fill="#231f20" transform="rotate(-90 7.0 423.6)" textLength="39" lengthAdjust="spacingAndGlyphs">MST results</text>
<circle cx="446.3" cy="389.95" r="9.70" fill="none" stroke="#d9d9d9" stroke-width="0.6"/>
<circle cx="446.3" cy="389.95" r="20.85" fill="none" stroke="#d9d9d9" stroke-width="0.6"/>
<circle cx="446.3" cy="389.95" r="32.00" fill="none" stroke="#d9d9d9" stroke-width="0.6"/>
<circle cx="446.3" cy="389.95" r="43.15" fill="none" stroke="#d9d9d9" stroke-width="0.6"/>
<circle cx="446.3" cy="389.95" r="54.30" fill="none" stroke="#333" stroke-width="0.7"/>
<line x1="446.30" y1="389.95" x2="446.30" y2="335.65" stroke="#d9d9d9" stroke-width="0.6" />
<line x1="446.30" y1="389.95" x2="493.33" y2="362.80" stroke="#d9d9d9" stroke-width="0.6" />
<line x1="446.30" y1="389.95" x2="493.33" y2="417.10" stroke="#d9d9d9" stroke-width="0.6" />
<line x1="446.30" y1="389.95" x2="446.30" y2="444.25" stroke="#d9d9d9" stroke-width="0.6" />
<line x1="446.30" y1="389.95" x2="399.27" y2="417.10" stroke="#d9d9d9" stroke-width="0.6" />
<line x1="446.30" y1="389.95" x2="399.27" y2="362.80" stroke="#d9d9d9" stroke-width="0.6" />
<polygon points="446.30,352.35 485.62,367.25 488.65,414.40 446.30,423.35 423.61,403.05 414.86,371.80" fill="none" stroke="#6dbfa3" stroke-width="1.3" stroke-linejoin="miter"/>
<text x="420.20" y="338.20" font-size="6.4" text-anchor="middle" font-weight="normal" fill="#231f20" >1.0</text>
<text x="425.00" y="349.30" font-size="6.4" text-anchor="middle" font-weight="normal" fill="#231f20" >0.9</text>
<text x="429.40" y="359.10" font-size="6.4" text-anchor="middle" font-weight="normal" fill="#231f20" >0.8</text>
<text x="434.10" y="369.10" font-size="6.4" text-anchor="middle" font-weight="normal" fill="#231f20" >0.7</text>
<text x="437.30" y="379.60" font-size="6.4" text-anchor="middle" font-weight="normal" fill="#231f20" >0.6</text>
<text x="446.30" y="330.90" font-size="7.4" text-anchor="middle" font-weight="normal" fill="#231f20" >Accuracy</text>
<text x="495.60" y="363.20" font-size="7.4" text-anchor="start" font-weight="normal" fill="#231f20" >auPRC</text>
<text x="494.00" y="420.00" font-size="7.4" text-anchor="start" font-weight="normal" fill="#231f20" >auROC</text>
<text x="397.30" y="424.20" font-size="7.4" text-anchor="end" font-weight="normal" fill="#231f20" >Recall</text>
<text x="394.80" y="363.20" font-size="7.4" text-anchor="end" font-weight="normal" fill="#231f20" >Precision</text>
<text x="431.5" y="454.3" font-size="7.4" fill="#231f20">F<tspan font-size="4.6" dy="1.6">0.5</tspan><tspan dy="-1.6"> score</tspan></text>
<defs><filter id="blr" x="-10%" y="-10%" width="120%" height="120%"><feGaussianBlur stdDeviation="0.9"/></filter><filter id="blr2" x="-10%" y="-10%" width="120%" height="120%"><feGaussianBlur stdDeviation="1.6"/></filter><linearGradient id="gtri" x1="0" x2="1" y1="0" y2="0"><stop offset="0" stop-color="#2a2a2a"/><stop offset="0.35" stop-color="#6a6a6a"/><stop offset="1" stop-color="#ffffff"/></linearGradient></defs>
<circle cx="434.5" cy="32.3" r="4.0" fill="#c9c9c9"/>
<circle cx="438.2" cy="29.9" r="3.7" fill="#c9c9c9"/>
<circle cx="442.4" cy="28.4" r="4.5" fill="#c9c9c9"/>
<circle cx="446.3" cy="26.9" r="3.6" fill="#c9c9c9"/>
<circle cx="450.8" cy="26.9" r="4.4" fill="#c9c9c9"/>
<circle cx="457.4" cy="23.8" r="4.1" fill="#c9c9c9"/>
<circle cx="461.7" cy="22.0" r="3.6" fill="#c9c9c9"/>
<circle cx="466.0" cy="21.5" r="4.3" fill="#c9c9c9"/>
<circle cx="471.8" cy="19.7" r="3.6" fill="#c9c9c9"/>
<circle cx="477.5" cy="19.3" r="4.2" fill="#c9c9c9"/>
<circle cx="481.5" cy="16.7" r="3.6" fill="#c9c9c9"/>
<circle cx="485.3" cy="14.7" r="3.6" fill="#c9c9c9"/>
<circle cx="489.5" cy="15.5" r="4.2" fill="#c9c9c9"/>
<circle cx="493.6" cy="16.2" r="4.8" fill="#c9c9c9"/>
<circle cx="497.9" cy="21.1" r="3.7" fill="#c9c9c9"/>
<circle cx="496.7" cy="25.7" r="3.9" fill="#c9c9c9"/>
<circle cx="495.4" cy="30.8" r="4.5" fill="#c9c9c9"/>
<circle cx="492.1" cy="35.2" r="5.0" fill="#c9c9c9"/>
<circle cx="489.5" cy="38.7" r="4.4" fill="#c9c9c9"/>
<circle cx="488.5" cy="42.9" r="4.1" fill="#c9c9c9"/>
<circle cx="486.9" cy="48.1" r="5.1" fill="#c9c9c9"/>
<circle cx="488.1" cy="52.3" r="3.6" fill="#c9c9c9"/>
<circle cx="487.5" cy="58.5" r="4.9" fill="#c9c9c9"/>
<circle cx="488.4" cy="63.6" r="4.0" fill="#c9c9c9"/>
<circle cx="488.8" cy="69.1" r="3.7" fill="#c9c9c9"/>
<circle cx="489.7" cy="74.5" r="3.7" fill="#c9c9c9"/>
<circle cx="490.3" cy="80.0" r="4.0" fill="#c9c9c9"/>
<circle cx="489.8" cy="84.4" r="4.8" fill="#c9c9c9"/>
<circle cx="491.2" cy="89.1" r="3.8" fill="#c9c9c9"/>
<circle cx="491.0" cy="94.4" r="4.4" fill="#c9c9c9"/>
<circle cx="491.5" cy="100.0" r="4.5" fill="#c9c9c9"/>
<circle cx="491.8" cy="106.0" r="4.1" fill="#c9c9c9"/>
<circle cx="491.6" cy="111.6" r="4.4" fill="#c9c9c9"/>
<circle cx="494.2" cy="120.1" r="3.6" fill="#c9c9c9"/>
<circle cx="496.8" cy="128.1" r="3.6" fill="#c9c9c9"/>
<circle cx="495.8" cy="135.3" r="3.8" fill="#c9c9c9"/>
<circle cx="490.3" cy="135.2" r="4.6" fill="#c9c9c9"/>
<circle cx="485.4" cy="136.1" r="4.2" fill="#c9c9c9"/>
<circle cx="480.3" cy="136.9" r="4.0" fill="#c9c9c9"/>
<circle cx="475.0" cy="137.7" r="4.4" fill="#c9c9c9"/>
<circle cx="469.8" cy="139.1" r="4.2" fill="#c9c9c9"/>
<circle cx="464.1" cy="138.8" r="4.0" fill="#c9c9c9"/>
<circle cx="458.5" cy="137.6" r="4.8" fill="#c9c9c9"/>
<circle cx="455.6" cy="134.5" r="4.6" fill="#c9c9c9"/>
<circle cx="452.6" cy="132.0" r="3.9" fill="#c9c9c9"/>
<circle cx="453.8" cy="124.5" r="4.4" fill="#c9c9c9"/>
<circle cx="457.1" cy="121.3" r="4.3" fill="#c9c9c9"/>
<circle cx="460.5" cy="117.4" r="4.9" fill="#c9c9c9"/>
<circle cx="466.0" cy="113.6" r="4.7" fill="#c9c9c9"/>
<circle cx="462.3" cy="111.9" r="4.0" fill="#c9c9c9"/>
<circle cx="458.9" cy="108.3" r="5.1" fill="#c9c9c9"/>
<circle cx="454.4" cy="107.8" r="3.7" fill="#c9c9c9"/>
<circle cx="450.5" cy="105.5" r="4.2" fill="#c9c9c9"/>
<circle cx="447.1" cy="103.8" r="4.7" fill="#c9c9c9"/>
<circle cx="442.7" cy="103.3" r="3.7" fill="#c9c9c9"/>
<circle cx="439.3" cy="101.6" r="4.3" fill="#c9c9c9"/>
<circle cx="434.0" cy="98.9" r="3.6" fill="#c9c9c9"/>
<circle cx="430.0" cy="95.2" r="4.6" fill="#c9c9c9"/>
<circle cx="427.8" cy="88.3" r="4.7" fill="#c9c9c9"/>
<circle cx="430.1" cy="81.8" r="4.4" fill="#c9c9c9"/>
<circle cx="434.6" cy="76.4" r="4.9" fill="#c9c9c9"/>
<circle cx="433.1" cy="72.0" r="4.0" fill="#c9c9c9"/>
<circle cx="433.1" cy="67.8" r="4.6" fill="#c9c9c9"/>
<circle cx="432.3" cy="63.4" r="4.5" fill="#c9c9c9"/>
<circle cx="432.3" cy="58.4" r="4.4" fill="#c9c9c9"/>
<circle cx="432.1" cy="53.2" r="4.2" fill="#c9c9c9"/>
<circle cx="432.6" cy="48.4" r="4.8" fill="#c9c9c9"/>
<circle cx="433.5" cy="43.4" r="5.0" fill="#c9c9c9"/>
<circle cx="433.8" cy="37.7" r="4.3" fill="#c9c9c9"/>
<path d="M433.0,30.0 C434.8,26.6 438.2,26.5 441.0,25.5 C443.8,24.5 447.3,24.8 450.0,24.0 C452.7,23.2 454.3,21.9 457.0,21.0 C459.7,20.1 462.5,19.2 466.0,18.5 C469.5,17.8 474.7,17.5 478.0,16.5 C481.3,15.5 483.2,13.1 486.0,12.5 C488.8,11.9 492.8,11.9 495.0,13.0 C497.2,14.1 498.7,16.5 499.0,19.0 C499.3,21.5 498.3,25.2 497.0,28.0 C495.7,30.8 492.3,33.2 491.0,36.0 C489.7,38.8 489.2,41.7 489.0,45.0 C488.8,48.3 489.7,52.2 490.0,56.0 C490.3,59.8 490.5,64.0 491.0,68.0 C491.5,72.0 492.6,76.3 493.0,80.0 C493.4,83.7 493.3,86.3 493.5,90.0 C493.7,93.7 494.0,98.0 494.0,102.0 C494.0,106.0 493.2,110.7 493.5,114.0 C493.8,117.3 494.8,119.3 495.5,122.0 C496.2,124.7 497.8,127.4 498.0,130.0 C498.2,132.6 499.8,135.9 497.0,137.5 C494.2,139.1 485.5,138.8 481.0,139.5 C476.5,140.2 473.8,141.8 470.0,142.0 C466.2,142.2 461.0,142.2 458.0,141.0 C455.0,139.8 452.8,136.8 452.0,134.5 C451.2,132.2 451.7,129.8 453.0,127.5 C454.3,125.2 457.8,122.8 460.0,121.0 C462.2,119.2 466.3,118.5 466.0,117.0 C465.7,115.5 460.8,113.5 458.0,112.0 C455.2,110.5 452.5,109.4 449.0,108.0 C445.5,106.6 440.7,105.4 437.0,103.5 C433.3,101.6 429.1,98.9 427.0,96.5 C424.9,94.1 424.5,91.4 424.5,89.0 C424.5,86.6 425.9,84.2 427.0,82.0 C428.1,79.8 430.6,79.3 431.0,76.0 C431.4,72.7 429.7,67.0 429.5,62.0 C429.3,57.0 429.4,51.3 430.0,46.0 C430.6,40.7 431.2,33.4 433.0,30.0 Z" fill="#efefef" stroke="#c9c9c9" stroke-width="1.0"/>
<circle cx="434.5" cy="32.3" r="3.5" fill="#f3f3f3"/>
<circle cx="438.2" cy="29.9" r="3.2" fill="#f3f3f3"/>
<circle cx="442.4" cy="28.4" r="4.0" fill="#f3f3f3"/>
<circle cx="446.3" cy="26.9" r="3.1" fill="#f3f3f3"/>
<circle cx="450.8" cy="26.9" r="3.9" fill="#f3f3f3"/>
<circle cx="457.4" cy="23.8" r="3.6" fill="#f3f3f3"/>
<circle cx="461.7" cy="22.0" r="3.1" fill="#f3f3f3"/>
<circle cx="466.0" cy="21.5" r="3.8" fill="#f3f3f3"/>
<circle cx="471.8" cy="19.7" r="3.1" fill="#f3f3f3"/>
<circle cx="477.5" cy="19.3" r="3.7" fill="#f3f3f3"/>
<circle cx="481.5" cy="16.7" r="3.1" fill="#f3f3f3"/>
<circle cx="485.3" cy="14.7" r="3.1" fill="#f3f3f3"/>
<circle cx="489.5" cy="15.5" r="3.7" fill="#f3f3f3"/>
<circle cx="493.6" cy="16.2" r="4.3" fill="#f3f3f3"/>
<circle cx="497.9" cy="21.1" r="3.2" fill="#f3f3f3"/>
<circle cx="496.7" cy="25.7" r="3.4" fill="#f3f3f3"/>
<circle cx="495.4" cy="30.8" r="4.0" fill="#f3f3f3"/>
<circle cx="492.1" cy="35.2" r="4.5" fill="#f3f3f3"/>
<circle cx="489.5" cy="38.7" r="3.9" fill="#f3f3f3"/>
<circle cx="488.5" cy="42.9" r="3.6" fill="#f3f3f3"/>
<circle cx="486.9" cy="48.1" r="4.6" fill="#f3f3f3"/>
<circle cx="488.1" cy="52.3" r="3.1" fill="#f3f3f3"/>
<circle cx="487.5" cy="58.5" r="4.4" fill="#f3f3f3"/>
<circle cx="488.4" cy="63.6" r="3.5" fill="#f3f3f3"/>
<circle cx="488.8" cy="69.1" r="3.2" fill="#f3f3f3"/>
<circle cx="489.7" cy="74.5" r="3.2" fill="#f3f3f3"/>
<circle cx="490.3" cy="80.0" r="3.5" fill="#f3f3f3"/>
<circle cx="489.8" cy="84.4" r="4.3" fill="#f3f3f3"/>
<circle cx="491.2" cy="89.1" r="3.3" fill="#f3f3f3"/>
<circle cx="491.0" cy="94.4" r="3.9" fill="#f3f3f3"/>
<circle cx="491.5" cy="100.0" r="4.0" fill="#f3f3f3"/>
<circle cx="491.8" cy="106.0" r="3.6" fill="#f3f3f3"/>
<circle cx="491.6" cy="111.6" r="3.9" fill="#f3f3f3"/>
<circle cx="494.2" cy="120.1" r="3.1" fill="#f3f3f3"/>
<circle cx="496.8" cy="128.1" r="3.1" fill="#f3f3f3"/>
<circle cx="495.8" cy="135.3" r="3.3" fill="#f3f3f3"/>
<circle cx="490.3" cy="135.2" r="4.1" fill="#f3f3f3"/>
<circle cx="485.4" cy="136.1" r="3.7" fill="#f3f3f3"/>
<circle cx="480.3" cy="136.9" r="3.5" fill="#f3f3f3"/>
<circle cx="475.0" cy="137.7" r="3.9" fill="#f3f3f3"/>
<circle cx="469.8" cy="139.1" r="3.7" fill="#f3f3f3"/>
<circle cx="464.1" cy="138.8" r="3.5" fill="#f3f3f3"/>
<circle cx="458.5" cy="137.6" r="4.3" fill="#f3f3f3"/>
<circle cx="455.6" cy="134.5" r="4.1" fill="#f3f3f3"/>
<circle cx="452.6" cy="132.0" r="3.4" fill="#f3f3f3"/>
<circle cx="453.8" cy="124.5" r="3.9" fill="#f3f3f3"/>
<circle cx="457.1" cy="121.3" r="3.8" fill="#f3f3f3"/>
<circle cx="460.5" cy="117.4" r="4.4" fill="#f3f3f3"/>
<circle cx="466.0" cy="113.6" r="4.2" fill="#f3f3f3"/>
<circle cx="462.3" cy="111.9" r="3.5" fill="#f3f3f3"/>
<circle cx="458.9" cy="108.3" r="4.6" fill="#f3f3f3"/>
<circle cx="454.4" cy="107.8" r="3.2" fill="#f3f3f3"/>
<circle cx="450.5" cy="105.5" r="3.7" fill="#f3f3f3"/>
<circle cx="447.1" cy="103.8" r="4.2" fill="#f3f3f3"/>
<circle cx="442.7" cy="103.3" r="3.2" fill="#f3f3f3"/>
<circle cx="439.3" cy="101.6" r="3.8" fill="#f3f3f3"/>
<circle cx="434.0" cy="98.9" r="3.1" fill="#f3f3f3"/>
<circle cx="430.0" cy="95.2" r="4.1" fill="#f3f3f3"/>
<circle cx="427.8" cy="88.3" r="4.2" fill="#f3f3f3"/>
<circle cx="430.1" cy="81.8" r="3.9" fill="#f3f3f3"/>
<circle cx="434.6" cy="76.4" r="4.4" fill="#f3f3f3"/>
<circle cx="433.1" cy="72.0" r="3.5" fill="#f3f3f3"/>
<circle cx="433.1" cy="67.8" r="4.1" fill="#f3f3f3"/>
<circle cx="432.3" cy="63.4" r="4.0" fill="#f3f3f3"/>
<circle cx="432.3" cy="58.4" r="3.9" fill="#f3f3f3"/>
<circle cx="432.1" cy="53.2" r="3.7" fill="#f3f3f3"/>
<circle cx="432.6" cy="48.4" r="4.3" fill="#f3f3f3"/>
<circle cx="433.5" cy="43.4" r="4.5" fill="#f3f3f3"/>
<circle cx="433.8" cy="37.7" r="3.8" fill="#f3f3f3"/>
<path d="M433.0,30.0 C434.8,26.6 438.2,26.5 441.0,25.5 C443.8,24.5 447.3,24.8 450.0,24.0 C452.7,23.2 454.3,21.9 457.0,21.0 C459.7,20.1 462.5,19.2 466.0,18.5 C469.5,17.8 474.7,17.5 478.0,16.5 C481.3,15.5 483.2,13.1 486.0,12.5 C488.8,11.9 492.8,11.9 495.0,13.0 C497.2,14.1 498.7,16.5 499.0,19.0 C499.3,21.5 498.3,25.2 497.0,28.0 C495.7,30.8 492.3,33.2 491.0,36.0 C489.7,38.8 489.2,41.7 489.0,45.0 C488.8,48.3 489.7,52.2 490.0,56.0 C490.3,59.8 490.5,64.0 491.0,68.0 C491.5,72.0 492.6,76.3 493.0,80.0 C493.4,83.7 493.3,86.3 493.5,90.0 C493.7,93.7 494.0,98.0 494.0,102.0 C494.0,106.0 493.2,110.7 493.5,114.0 C493.8,117.3 494.8,119.3 495.5,122.0 C496.2,124.7 497.8,127.4 498.0,130.0 C498.2,132.6 499.8,135.9 497.0,137.5 C494.2,139.1 485.5,138.8 481.0,139.5 C476.5,140.2 473.8,141.8 470.0,142.0 C466.2,142.2 461.0,142.2 458.0,141.0 C455.0,139.8 452.8,136.8 452.0,134.5 C451.2,132.2 451.7,129.8 453.0,127.5 C454.3,125.2 457.8,122.8 460.0,121.0 C462.2,119.2 466.3,118.5 466.0,117.0 C465.7,115.5 460.8,113.5 458.0,112.0 C455.2,110.5 452.5,109.4 449.0,108.0 C445.5,106.6 440.7,105.4 437.0,103.5 C433.3,101.6 429.1,98.9 427.0,96.5 C424.9,94.1 424.5,91.4 424.5,89.0 C424.5,86.6 425.9,84.2 427.0,82.0 C428.1,79.8 430.6,79.3 431.0,76.0 C431.4,72.7 429.7,67.0 429.5,62.0 C429.3,57.0 429.4,51.3 430.0,46.0 C430.6,40.7 431.2,33.4 433.0,30.0 Z" fill="#f1f1f1" stroke="none" transform="translate(46.6,8) scale(0.9)"/>
<circle cx="440" cy="95" r="6" fill="#fafafa" filter="url(#blr2)"/>
<circle cx="455" cy="103" r="6" fill="#fafafa" filter="url(#blr2)"/>
<circle cx="470" cy="95" r="7" fill="#f8f8f8" filter="url(#blr2)"/>
<circle cx="483" cy="108" r="6" fill="#f8f8f8" filter="url(#blr2)"/>
<circle cx="462" cy="132" r="7" fill="#fbfbfb" filter="url(#blr2)"/>
<circle cx="478" cy="131" r="6" fill="#f8f8f8" filter="url(#blr2)"/>
<circle cx="490" cy="125" r="4" fill="#f8f8f8" filter="url(#blr2)"/>
<circle cx="485" cy="26" r="6" fill="#fafafa" filter="url(#blr2)"/>
<circle cx="492" cy="48" r="4" fill="#f6f6f6" filter="url(#blr2)"/>
<circle cx="480" cy="88" r="5" fill="#f8f8f8" filter="url(#blr2)"/>
<circle cx="470" cy="120" r="4" fill="#fafafa" filter="url(#blr2)"/>
<circle cx="468" cy="112" r="2.5" fill="#dcdcdc" filter="url(#blr2)"/>
<circle cx="485" cy="118" r="2.5" fill="#dadada" filter="url(#blr2)"/>
<circle cx="486" cy="40" r="2.5" fill="#d8d8d8" filter="url(#blr2)"/>
<circle cx="448" cy="118" r="2.0" fill="#dadada" filter="url(#blr2)"/>
<circle cx="475" cy="138" r="2.0" fill="#d8d8d8" filter="url(#blr2)"/>
<circle cx="436" cy="100" r="2.0" fill="#dadada" filter="url(#blr2)"/>
<path d="M428.5,84.0 C429.4,84.9 431.9,87.8 434.0,89.5 C436.1,91.2 437.8,92.8 441.0,94.5 C444.2,96.2 449.2,98.2 453.0,99.8 C456.8,101.4 460.7,102.6 463.6,104.2 C466.5,105.8 468.5,107.8 470.6,109.4 C472.7,111.0 474.6,112.6 476.0,114.0 C477.4,115.4 478.5,117.3 479.0,118.0" fill="none" stroke="#b4b4b4" stroke-width="3.2" stroke-linecap="round"/>
<path d="M482.8,80.5 C483.7,81.7 486.8,84.6 488.0,87.5 C489.2,90.4 489.8,95.1 489.8,98.0 C489.8,100.9 488.9,102.1 488.0,105.0 C487.1,107.9 485.8,112.7 484.6,115.6 C483.4,118.5 482.5,120.0 481.0,122.6 C479.5,125.2 476.7,129.9 475.8,131.3" fill="none" stroke="#b4b4b4" stroke-width="3.0" stroke-linecap="round"/>
<path d="M472.0,128.0 C473.7,128.2 478.2,128.0 482.0,129.0 C485.8,130.0 492.8,133.2 495.0,134.0" fill="none" stroke="#9a9a9a" stroke-width="1.6" stroke-linecap="round"/>
<line x1="460.00" y1="143.60" x2="476.00" y2="132.50" stroke="#8a8a8a" stroke-width="0.7" />
<path d="M462.0,30.7 C463.8,30.3 468.4,29.2 472.5,28.4 C476.6,27.6 482.7,26.8 486.5,25.8 C490.3,24.8 493.8,22.9 495.3,22.3" fill="none" stroke="#b2b2b2" stroke-width="2.6" stroke-linecap="round"/>
<path d="M495.0,22.0 C493.5,23.3 488.8,26.7 486.0,30.0 C483.2,33.3 480.0,38.3 478.0,42.0 C476.0,45.7 474.7,50.3 474.0,52.0" fill="none" stroke="#9d9d9d" stroke-width="2.2" stroke-linecap="round"/>
<line x1="454.80" y1="86.60" x2="463.60" y2="84.90" stroke="#b8b8b8" stroke-width="1.3" stroke-linecap="round"/>
<line x1="465.30" y1="92.80" x2="475.80" y2="88.40" stroke="#b8b8b8" stroke-width="1.3" stroke-linecap="round"/>
<line x1="445.00" y1="92.00" x2="452.00" y2="90.00" stroke="#b8b8b8" stroke-width="1.3" stroke-linecap="round"/>
<line x1="458.00" y1="97.00" x2="466.00" y2="95.00" stroke="#b8b8b8" stroke-width="1.3" stroke-linecap="round"/>
<line x1="470.00" y1="101.00" x2="478.00" y2="97.00" stroke="#b8b8b8" stroke-width="1.3" stroke-linecap="round"/>
<line x1="450.00" y1="103.00" x2="458.00" y2="101.00" stroke="#b8b8b8" stroke-width="1.3" stroke-linecap="round"/>
<line x1="466.00" y1="108.00" x2="472.00" y2="106.00" stroke="#b8b8b8" stroke-width="1.3" stroke-linecap="round"/>
<line x1="474.00" y1="113.00" x2="480.00" y2="110.00" stroke="#b8b8b8" stroke-width="1.3" stroke-linecap="round"/>
<line x1="483.00" y1="47.00" x2="478.00" y2="56.00" stroke="#b8b8b8" stroke-width="1.3" stroke-linecap="round"/>
<line x1="488.00" y1="40.00" x2="482.00" y2="48.00" stroke="#b8b8b8" stroke-width="1.3" stroke-linecap="round"/>
<circle cx="435.2" cy="32.2" r="4.2" fill="#8fd9d9"/>
<circle cx="438.3" cy="29.6" r="3.4" fill="#8fd9d9"/>
<circle cx="442.5" cy="28.4" r="4.3" fill="#8fd9d9"/>
<circle cx="446.5" cy="28.0" r="4.2" fill="#8fd9d9"/>
<circle cx="450.7" cy="28.2" r="4.7" fill="#8fd9d9"/>
<circle cx="455.4" cy="30.2" r="4.5" fill="#8fd9d9"/>
<circle cx="460.1" cy="31.7" r="3.7" fill="#8fd9d9"/>
<circle cx="463.7" cy="34.1" r="3.8" fill="#8fd9d9"/>
<circle cx="467.1" cy="36.6" r="4.2" fill="#8fd9d9"/>
<circle cx="471.3" cy="37.9" r="3.3" fill="#8fd9d9"/>
<circle cx="473.9" cy="42.3" r="3.9" fill="#8fd9d9"/>
<circle cx="477.5" cy="45.9" r="3.5" fill="#8fd9d9"/>
<circle cx="479.5" cy="49.1" r="3.5" fill="#8fd9d9"/>
<circle cx="481.6" cy="52.2" r="3.4" fill="#8fd9d9"/>
<circle cx="482.6" cy="55.4" r="4.4" fill="#8fd9d9"/>
<circle cx="484.0" cy="59.5" r="3.5" fill="#8fd9d9"/>
<circle cx="484.3" cy="63.6" r="3.6" fill="#8fd9d9"/>
<circle cx="480.9" cy="69.9" r="3.8" fill="#8fd9d9"/>
<circle cx="477.1" cy="71.5" r="4.5" fill="#8fd9d9"/>
<circle cx="474.6" cy="74.4" r="3.4" fill="#8fd9d9"/>
<circle cx="471.1" cy="76.1" r="3.9" fill="#8fd9d9"/>
<circle cx="466.8" cy="77.5" r="4.1" fill="#8fd9d9"/>
<circle cx="462.6" cy="78.6" r="4.5" fill="#8fd9d9"/>
<circle cx="458.4" cy="80.4" r="4.4" fill="#8fd9d9"/>
<circle cx="454.3" cy="80.3" r="4.5" fill="#8fd9d9"/>
<circle cx="449.9" cy="81.2" r="3.7" fill="#8fd9d9"/>
<circle cx="445.6" cy="81.2" r="3.9" fill="#8fd9d9"/>
<circle cx="441.5" cy="79.7" r="3.8" fill="#8fd9d9"/>
<circle cx="437.9" cy="77.6" r="4.5" fill="#8fd9d9"/>
<circle cx="435.7" cy="73.5" r="4.6" fill="#8fd9d9"/>
<circle cx="432.4" cy="70.2" r="3.5" fill="#8fd9d9"/>
<circle cx="432.3" cy="66.3" r="3.5" fill="#8fd9d9"/>
<circle cx="432.1" cy="62.5" r="3.6" fill="#8fd9d9"/>
<circle cx="431.9" cy="58.7" r="3.6" fill="#8fd9d9"/>
<circle cx="432.6" cy="54.4" r="4.0" fill="#8fd9d9"/>
<circle cx="433.0" cy="50.2" r="4.1" fill="#8fd9d9"/>
<circle cx="432.7" cy="45.8" r="3.7" fill="#8fd9d9"/>
<circle cx="432.7" cy="41.6" r="3.3" fill="#8fd9d9"/>
<circle cx="433.5" cy="37.8" r="3.9" fill="#8fd9d9"/>
<path d="M433.1,30.1 C434.7,28.4 438.2,26.7 441.0,25.8 C443.8,24.9 446.6,24.3 449.8,24.9 C453.0,25.5 456.5,27.4 460.3,29.3 C464.1,31.2 469.3,33.7 472.5,36.3 C475.7,38.9 477.3,41.8 479.5,45.0 C481.7,48.2 484.5,52.3 485.7,55.5 C486.9,58.7 486.9,61.7 486.5,64.3 C486.1,66.9 485.3,69.0 483.0,71.3 C480.7,73.6 476.6,76.3 472.5,78.3 C468.4,80.3 463.2,82.6 458.5,83.5 C453.8,84.4 448.3,84.1 444.5,83.5 C440.7,82.9 438.1,82.0 435.8,80.0 C433.5,78.0 431.5,74.8 430.5,71.3 C429.5,67.8 429.6,63.4 429.6,59.0 C429.6,54.6 430.2,48.8 430.5,45.0 C430.8,41.2 431.0,38.8 431.4,36.3 C431.8,33.8 431.5,31.9 433.1,30.1 Z" fill="#bdeeee" stroke="#8fd9d9" stroke-width="0.8"/>
<circle cx="435.2" cy="32.2" r="3.7" fill="#c2f0f0"/>
<circle cx="438.3" cy="29.6" r="2.9" fill="#c2f0f0"/>
<circle cx="442.5" cy="28.4" r="3.8" fill="#c2f0f0"/>
<circle cx="446.5" cy="28.0" r="3.7" fill="#c2f0f0"/>
<circle cx="450.7" cy="28.2" r="4.2" fill="#c2f0f0"/>
<circle cx="455.4" cy="30.2" r="4.0" fill="#c2f0f0"/>
<circle cx="460.1" cy="31.7" r="3.2" fill="#c2f0f0"/>
<circle cx="463.7" cy="34.1" r="3.3" fill="#c2f0f0"/>
<circle cx="467.1" cy="36.6" r="3.7" fill="#c2f0f0"/>
<circle cx="471.3" cy="37.9" r="2.8" fill="#c2f0f0"/>
<circle cx="473.9" cy="42.3" r="3.4" fill="#c2f0f0"/>
<circle cx="477.5" cy="45.9" r="3.0" fill="#c2f0f0"/>
<circle cx="479.5" cy="49.1" r="3.0" fill="#c2f0f0"/>
<circle cx="481.6" cy="52.2" r="2.9" fill="#c2f0f0"/>
<circle cx="482.6" cy="55.4" r="3.9" fill="#c2f0f0"/>
<circle cx="484.0" cy="59.5" r="3.0" fill="#c2f0f0"/>
<circle cx="484.3" cy="63.6" r="3.1" fill="#c2f0f0"/>
<circle cx="480.9" cy="69.9" r="3.3" fill="#c2f0f0"/>
<circle cx="477.1" cy="71.5" r="4.0" fill="#c2f0f0"/>
<circle cx="474.6" cy="74.4" r="2.9" fill="#c2f0f0"/>
<circle cx="471.1" cy="76.1" r="3.4" fill="#c2f0f0"/>
<circle cx="466.8" cy="77.5" r="3.6" fill="#c2f0f0"/>
<circle cx="462.6" cy="78.6" r="4.0" fill="#c2f0f0"/>
<circle cx="458.4" cy="80.4" r="3.9" fill="#c2f0f0"/>
<circle cx="454.3" cy="80.3" r="4.0" fill="#c2f0f0"/>
<circle cx="449.9" cy="81.2" r="3.2" fill="#c2f0f0"/>
<circle cx="445.6" cy="81.2" r="3.4" fill="#c2f0f0"/>
<circle cx="441.5" cy="79.7" r="3.3" fill="#c2f0f0"/>
<circle cx="437.9" cy="77.6" r="4.0" fill="#c2f0f0"/>
<circle cx="435.7" cy="73.5" r="4.1" fill="#c2f0f0"/>
<circle cx="432.4" cy="70.2" r="3.0" fill="#c2f0f0"/>
<circle cx="432.3" cy="66.3" r="3.0" fill="#c2f0f0"/>
<circle cx="432.1" cy="62.5" r="3.1" fill="#c2f0f0"/>
<circle cx="431.9" cy="58.7" r="3.1" fill="#c2f0f0"/>
<circle cx="432.6" cy="54.4" r="3.5" fill="#c2f0f0"/>
<circle cx="433.0" cy="50.2" r="3.6" fill="#c2f0f0"/>
<circle cx="432.7" cy="45.8" r="3.2" fill="#c2f0f0"/>
<circle cx="432.7" cy="41.6" r="2.8" fill="#c2f0f0"/>
<circle cx="433.5" cy="37.8" r="3.4" fill="#c2f0f0"/>
<path d="M433.1,30.1 C434.7,28.4 438.2,26.7 441.0,25.8 C443.8,24.9 446.6,24.3 449.8,24.9 C453.0,25.5 456.5,27.4 460.3,29.3 C464.1,31.2 469.3,33.7 472.5,36.3 C475.7,38.9 477.3,41.8 479.5,45.0 C481.7,48.2 484.5,52.3 485.7,55.5 C486.9,58.7 486.9,61.7 486.5,64.3 C486.1,66.9 485.3,69.0 483.0,71.3 C480.7,73.6 476.6,76.3 472.5,78.3 C468.4,80.3 463.2,82.6 458.5,83.5 C453.8,84.4 448.3,84.1 444.5,83.5 C440.7,82.9 438.1,82.0 435.8,80.0 C433.5,78.0 431.5,74.8 430.5,71.3 C429.5,67.8 429.6,63.4 429.6,59.0 C429.6,54.6 430.2,48.8 430.5,45.0 C430.8,41.2 431.0,38.8 431.4,36.3 C431.8,33.8 431.5,31.9 433.1,30.1 Z" fill="#c2f0f0" transform="translate(45.8,5.5) scale(0.9)"/>
<circle cx="455" cy="45" r="7" fill="#d2f5f5" filter="url(#blr2)"/>
<circle cx="465" cy="62" r="6" fill="#d2f5f5" filter="url(#blr2)"/>
<circle cx="445" cy="70" r="5" fill="#d2f5f5" filter="url(#blr2)"/>
<circle cx="475" cy="52" r="4" fill="#d2f5f5" filter="url(#blr2)"/>
<circle cx="440" cy="40" r="4" fill="#d2f5f5" filter="url(#blr2)"/>
<path d="M430.5,43.3 C431.7,42.4 434.9,39.6 437.5,38.0 C440.1,36.4 443.4,34.8 446.3,33.6 C449.2,32.4 452.4,31.5 455.0,31.0 C457.6,30.5 460.8,30.8 462.0,30.7" fill="none" stroke="#1fb4b4" stroke-width="2.8" stroke-linecap="round"/>
<path d="M430.5,43.3 C431.4,44.8 433.8,49.1 435.8,52.0 C437.9,54.9 440.9,58.5 442.8,60.8 C444.7,63.1 446.6,63.8 447.1,66.0 C447.6,68.2 446.9,71.8 446.0,74.0 C445.1,76.2 442.7,78.2 442.0,79.0" fill="none" stroke="#1fb4b4" stroke-width="2.6" stroke-linecap="round"/>
<path d="M434.0,80.5 C436.1,79.9 441.3,78.2 446.3,77.0 C451.3,75.8 458.9,74.2 463.8,73.0 C468.8,71.8 472.5,71.0 476.0,69.5 C479.5,68.0 483.5,66.2 484.8,64.3 C486.1,62.4 485.0,60.4 484.0,58.0 C483.0,55.6 479.8,51.3 479.0,50.0" fill="none" stroke="#19a9a9" stroke-width="3.0" stroke-linecap="round"/>
<line x1="441.90" y1="38.90" x2="453.30" y2="48.50" stroke="#22b8b8" stroke-width="1.9" stroke-linecap="round"/>
<line x1="457.70" y1="35.40" x2="465.50" y2="46.80" stroke="#22b8b8" stroke-width="1.9" stroke-linecap="round"/>
<line x1="438.40" y1="50.30" x2="446.30" y2="55.50" stroke="#22b8b8" stroke-width="1.9" stroke-linecap="round"/>
<line x1="462.00" y1="56.40" x2="470.80" y2="61.70" stroke="#22b8b8" stroke-width="1.9" stroke-linecap="round"/>
<line x1="470.80" y1="50.30" x2="477.80" y2="55.50" stroke="#22b8b8" stroke-width="1.9" stroke-linecap="round"/>
<line x1="452.40" y1="60.80" x2="455.00" y2="69.50" stroke="#22b8b8" stroke-width="1.9" stroke-linecap="round"/>
<line x1="447.10" y1="62.50" x2="444.50" y2="72.20" stroke="#22b8b8" stroke-width="1.9" stroke-linecap="round"/>
<line x1="476.00" y1="52.90" x2="482.20" y2="61.70" stroke="#22b8b8" stroke-width="1.9" stroke-linecap="round"/>
<line x1="434.00" y1="46.00" x2="440.00" y2="58.00" stroke="#22b8b8" stroke-width="1.9" stroke-linecap="round"/>
<text x="451.00" y="28.60" font-size="4.5" text-anchor="middle" font-weight="normal" fill="#2a2a2a"  textLength="7.82" lengthAdjust="spacingAndGlyphs">G12</text>
<text x="438.00" y="34.60" font-size="4.5" text-anchor="middle" font-weight="normal" fill="#2a2a2a"  textLength="7.29" lengthAdjust="spacingAndGlyphs">C11</text>
<text x="427.80" y="42.60" font-size="4.5" text-anchor="middle" font-weight="normal" fill="#2a2a2a"  textLength="7.59" lengthAdjust="spacingAndGlyphs">U10</text>
<text x="428.00" y="51.20" font-size="4.5" text-anchor="middle" font-weight="normal" fill="#2a2a2a"  textLength="5.29" lengthAdjust="spacingAndGlyphs">U9</text>
<text x="452.50" y="56.50" font-size="4.5" text-anchor="middle" font-weight="normal" fill="#2a2a2a"  textLength="5.29" lengthAdjust="spacingAndGlyphs">C8</text>
<text x="464.00" y="63.80" font-size="4.5" text-anchor="middle" font-weight="normal" fill="#2a2a2a"  textLength="5.52" lengthAdjust="spacingAndGlyphs">G7</text>
<text x="441.00" y="70.60" font-size="4.5" text-anchor="middle" font-weight="normal" fill="#2a2a2a"  textLength="7.37" lengthAdjust="spacingAndGlyphs">A23</text>
<text x="461.00" y="79.60" font-size="4.5" text-anchor="middle" font-weight="normal" fill="#2a2a2a"  textLength="7.59" lengthAdjust="spacingAndGlyphs">C22</text>
<text x="478.00" y="71.00" font-size="4.5" text-anchor="middle" font-weight="normal" fill="#2a2a2a"  textLength="7.59" lengthAdjust="spacingAndGlyphs">C21</text>
<text x="488.50" y="67.60" font-size="4.5" text-anchor="middle" font-weight="normal" fill="#2a2a2a"  textLength="7.59" lengthAdjust="spacingAndGlyphs">C20</text>
<text x="489.50" y="58.80" font-size="4.5" text-anchor="middle" font-weight="normal" fill="#2a2a2a"  textLength="7.59" lengthAdjust="spacingAndGlyphs">C19</text>
<text x="478.50" y="47.80" font-size="4.5" text-anchor="middle" font-weight="normal" fill="#2a2a2a"  textLength="7.82" lengthAdjust="spacingAndGlyphs">G18</text>
<text x="468.50" y="26.00" font-size="4.5" text-anchor="middle" font-weight="normal" fill="#2a2a2a"  textLength="7.59" lengthAdjust="spacingAndGlyphs">C13</text>
<text x="477.50" y="23.30" font-size="4.5" text-anchor="middle" font-weight="normal" fill="#2a2a2a"  textLength="7.59" lengthAdjust="spacingAndGlyphs">U17</text>
<text x="487.60" y="21.00" font-size="4.5" text-anchor="middle" font-weight="normal" fill="#2a2a2a"  textLength="7.59" lengthAdjust="spacingAndGlyphs">C16</text>
<text x="495.70" y="19.60" font-size="4.5" text-anchor="middle" font-weight="normal" fill="#2a2a2a"  textLength="7.59" lengthAdjust="spacingAndGlyphs">U15</text>
<text x="494.30" y="28.40" font-size="4.5" text-anchor="middle" font-weight="normal" fill="#2a2a2a"  textLength="7.59" lengthAdjust="spacingAndGlyphs">C14</text>
<text x="432.00" y="79.50" font-size="4.5" text-anchor="middle" font-weight="normal" fill="#2a2a2a"  textLength="7.82" lengthAdjust="spacingAndGlyphs">G24</text>
<text x="475.80" y="82.00" font-size="4.5" text-anchor="middle" font-weight="normal" fill="#2a2a2a"  textLength="5.52" lengthAdjust="spacingAndGlyphs">G6</text>
<text x="425.00" y="89.90" font-size="4.5" text-anchor="middle" font-weight="normal" fill="#2a2a2a"  textLength="7.59" lengthAdjust="spacingAndGlyphs">C25</text>
<text x="482.00" y="89.90" font-size="4.5" text-anchor="middle" font-weight="normal" fill="#2a2a2a"  textLength="5.52" lengthAdjust="spacingAndGlyphs">G5</text>
<text x="432.00" y="97.80" font-size="4.5" text-anchor="middle" font-weight="normal" fill="#2a2a2a"  textLength="7.59" lengthAdjust="spacingAndGlyphs">C26</text>
<text x="482.00" y="103.00" font-size="4.5" text-anchor="middle" font-weight="normal" fill="#2a2a2a"  textLength="5.52" lengthAdjust="spacingAndGlyphs">G4</text>
<text x="441.70" y="103.00" font-size="4.5" text-anchor="middle" font-weight="normal" fill="#2a2a2a"  textLength="7.59" lengthAdjust="spacingAndGlyphs">C27</text>
<text x="458.30" y="109.20" font-size="4.5" text-anchor="middle" font-weight="normal" fill="#2a2a2a"  textLength="7.59" lengthAdjust="spacingAndGlyphs">U28</text>
<text x="470.60" y="116.20" font-size="4.5" text-anchor="middle" font-weight="normal" fill="#2a2a2a"  textLength="7.59" lengthAdjust="spacingAndGlyphs">C29</text>
<text x="483.70" y="114.50" font-size="4.5" text-anchor="middle" font-weight="normal" fill="#2a2a2a"  textLength="5.52" lengthAdjust="spacingAndGlyphs">G3</text>
<text x="489.00" y="119.70" font-size="4.5" text-anchor="middle" font-weight="normal" fill="#2a2a2a"  textLength="7.59" lengthAdjust="spacingAndGlyphs">U30</text>
<text x="478.50" y="125.80" font-size="4.5" text-anchor="middle" font-weight="normal" fill="#2a2a2a"  textLength="5.06" lengthAdjust="spacingAndGlyphs">A2</text>
<text x="492.50" y="131.10" font-size="4.5" text-anchor="middle" font-weight="normal" fill="#2a2a2a"  textLength="7.37" lengthAdjust="spacingAndGlyphs">A31</text>
<text x="468.80" y="133.70" font-size="4.5" text-anchor="middle" font-weight="normal" fill="#2a2a2a"  textLength="5.29" lengthAdjust="spacingAndGlyphs">U1</text>
<path d="M506.5,54 L530.5,13 L530.5,141 L506.5,67.4 Z" fill="url(#gtri)"/>
<rect x="545" y="12.5" width="138.4" height="130.9" fill="none" stroke="#47bf9c" stroke-width="0.9" stroke-dasharray="1.4,1.4"/>
<clipPath id="cinset"><rect x="545.5" y="13" width="137.4" height="129.9"/></clipPath>
<g clip-path="url(#cinset)" stroke-linecap="round" stroke-linejoin="round" fill="none">
<path d="M564.7,124.6 L588.8,104.3" stroke="#b4b4b4" stroke-width="5.1000000000000005"/>
<path d="M564.7,124.6 L588.8,104.3" stroke="#cfcfcf" stroke-width="4.2"/>
<path d="M565.8,127.8 L588.8,118.5" stroke="#b4b4b4" stroke-width="4.7"/>
<path d="M565.8,127.8 L588.8,118.5" stroke="#cfcfcf" stroke-width="3.8"/>
<path d="M586.6,142.6 L600.8,133.9" stroke="#b4b4b4" stroke-width="5.1000000000000005"/>
<path d="M586.6,142.6 L600.8,133.9" stroke="#cfcfcf" stroke-width="4.2"/>
<path d="M595.5,81.9 L602.0,79.5 L610.0,79.0 L615.0,79.6" stroke="#b4b4b4" stroke-width="4.1000000000000005"/>
<path d="M595.5,81.9 L602.0,79.5 L610.0,79.0 L615.0,79.6" stroke="#e2e2e2" stroke-width="3.2"/>
<path d="M613.5,132.6 L644.7,112.7" stroke="#b4b4b4" stroke-width="5.1000000000000005"/>
<path d="M613.5,132.6 L644.7,112.7" stroke="#e2e2e2" stroke-width="4.2"/>
<path d="M639.5,140.6 L664.2,129.9" stroke="#b4b4b4" stroke-width="4.1000000000000005"/>
<path d="M639.5,140.6 L664.2,129.9" stroke="#e2e2e2" stroke-width="3.2"/>
<path d="M626.4,124.2 L639.5,116.0" stroke="#b4b4b4" stroke-width="4.5"/>
<path d="M626.4,124.2 L639.5,116.0" stroke="#cfcfcf" stroke-width="3.6"/>
<path d="M630.5,98.5 L644.7,95.6" stroke="#b4b4b4" stroke-width="4.5"/>
<path d="M630.5,98.5 L644.7,95.6" stroke="#e2e2e2" stroke-width="3.6"/>
<path d="M642.8,113.5 L659.2,116.8 L664.2,111.0" stroke="#cfcfcf" stroke-width="1.6"/>
<path d="M659.2,116.8 L662.5,125.8 L657.6,126.6" stroke="#cfcfcf" stroke-width="1.6"/>
<path d="M662.5,125.8 L672.0,128.0 L680.0,124.0" stroke="#cfcfcf" stroke-width="1.6"/>
<path d="M664.2,111.0 L668.0,104.0" stroke="#cfcfcf" stroke-width="1.4"/>
<path d="M560.3,131.1 L581.1,128.9 L589.9,132.8" stroke="#cfcfcf" stroke-width="1.5"/>
<path d="M581.1,128.9 L577.8,137.7" stroke="#cfcfcf" stroke-width="1.5"/>
<path d="M561.4,136.6 L563.6,133.3" stroke="#cfcfcf" stroke-width="1.5"/>
<path d="M560.3,139.9 L573.5,140.4" stroke="#cfcfcf" stroke-width="1.5"/>
<path d="M590.0,72.8 L593.3,100.0" stroke="#b4b4b4" stroke-width="4.7"/>
<path d="M590.0,72.8 L593.3,100.0" stroke="#e2e2e2" stroke-width="3.8"/>
<path d="M593.0,83.0 L597.9,82.0 L605.8,80.0" stroke="#cfcfcf" stroke-width="1.6"/>
<path d="M591.0,76.5 L594.0,98.7" stroke="#b4b4b4" stroke-width="4.7"/>
<path d="M591.0,76.5 L594.0,98.7" stroke="#e2e2e2" stroke-width="3.8"/>
<path d="M640.0,20.0 L652.0,14.0" stroke="#cfcfcf" stroke-width="2.2"/>
<path d="M635.3,18.0 L650.0,14.0" stroke="#cfcfcf" stroke-width="1.8"/>
<path d="M651.7,25.4 L665.0,15.0" stroke="#cfcfcf" stroke-width="2.6"/>
<path d="M665.0,15.0 L680.0,14.0" stroke="#cfcfcf" stroke-width="1.8"/>
<path d="M620.0,16.0 L628.0,18.0 L640.0,16.0" stroke="#cfcfcf" stroke-width="1.6"/>
<path d="M595.0,140.0 L610.0,135.0" stroke="#cfcfcf" stroke-width="2"/>
<path d="M641.3,21.0 L635.3,38.0" stroke="#7c7c7c" stroke-width="4.6"/>
<path d="M649.4,30.6 L649.4,50.7" stroke="#6a6a6a" stroke-width="4.6"/>
<path d="M641.3,41.8 L656.9,68.5" stroke="#707070" stroke-width="5.0"/>
<path d="M656.9,68.5 L661.0,73.0" stroke="#9a9a9a" stroke-width="1.6"/>
<path d="M652.0,57.0 L646.0,60.0" stroke="#cfcfcf" stroke-width="1.4"/>
<path d="M588.9,35.9 L597.5,38.5 L598.8,44.4 L593.5,41.2 L588.9,35.9" stroke="#e00808" stroke-width="1.85"/>
<path d="M598.8,44.4 L602.1,45.8 L604.7,49.7" stroke="#e00808" stroke-width="1.85"/>
<path d="M604.7,49.7 L611.9,51.0 L613.9,58.2 L603.4,55.0 L604.7,49.7" stroke="#e00808" stroke-width="1.85"/>
<path d="M613.9,58.2 L616.5,60.9 L625.7,68.1 L627.0,69.4 L625.5,73.3 L621.3,77.2" stroke="#e00808" stroke-width="1.85"/>
<path d="M614.2,124.4 L612.1,124.2 L600.0,131.6" stroke="#e00808" stroke-width="1.85"/>
<path d="M619.3,120.6 L616.8,129.7 L619.8,138.0 L623.2,129.7 L624.3,120.6" stroke="#e00808" stroke-width="1.85"/>
<path d="M626.8,116.3 L629.8,124.0" stroke="#e00808" stroke-width="1.85"/>
<path d="M628.3,89.5 L632.5,93.5" stroke="#e00808" stroke-width="1.85"/>
<path d="M628.8,81.5 L626.3,85.8 L621.3,85.8 L618.8,81.5 L621.3,77.2 L626.3,77.2 L628.8,81.5" stroke="#e00808" stroke-width="1.85"/>
<path d="M628.3,90.2 L625.8,94.5 L620.8,94.5 L618.3,90.2 L620.8,85.9 L625.8,85.9 L628.3,90.2" stroke="#e00808" stroke-width="1.85"/>
<path d="M627.8,98.9 L625.3,103.2 L620.3,103.2 L617.8,98.9 L620.3,94.6 L625.3,94.6 L627.8,98.9" stroke="#e00808" stroke-width="1.85"/>
<path d="M627.3,107.6 L624.8,111.9 L619.8,111.9 L617.3,107.6 L619.8,103.3 L624.8,103.3 L627.3,107.6" stroke="#e00808" stroke-width="1.85"/>
<path d="M626.8,116.3 L624.3,120.6 L619.3,120.6 L616.8,116.3 L619.3,112.0 L624.3,112.0 L626.8,116.3" stroke="#e00808" stroke-width="1.85"/>
<path d="M619.3,120.6 L616.5,122.5 L614.2,124.4" stroke="#e00808" stroke-width="1.85"/>
<path d="M583.0,16.4 L585.7,24.0 L580.8,32.8" stroke="#2aaab2" stroke-width="1.6"/>
<path d="M585.7,24.0 L590.7,25.7 L598.0,27.9 L604.6,28.4 L607.6,31.4 L613.5,28.4 L616.0,22.0 L618.0,14.0" stroke="#2aaab2" stroke-width="1.6"/>
<path d="M580.8,32.8 L574.8,34.4 L571.0,35.5" stroke="#2aaab2" stroke-width="1.6"/>
<path d="M568.2,27.3 L571.5,35.0" stroke="#2aaab2" stroke-width="1.6"/>
<path d="M571.5,35.0 L568.2,38.3 L567.1,41.5 L567.7,44.8 L569.9,49.2" stroke="#2aaab2" stroke-width="1.6"/>
<path d="M580.8,32.8 L581.4,39.4 L574.3,43.2" stroke="#2aaab2" stroke-width="1.6"/>
<path d="M565.5,49.7 L569.3,50.3 L580.3,49.7" stroke="#2aaab2" stroke-width="1.6"/>
<path d="M567.7,42.6 L569.0,54.4 L571.0,58.4 L572.3,65.0" stroke="#2aaab2" stroke-width="1.6"/>
<path d="M564.4,49.2 L580.2,49.8" stroke="#2aaab2" stroke-width="1.6"/>
<path d="M569.7,68.2 L571.6,67.0" stroke="#2aaab2" stroke-width="1.6"/>
<path d="M583.4,65.0 L594.6,65.6" stroke="#2aaab2" stroke-width="1.6"/>
<path d="M565.0,60.0 L568.0,62.0" stroke="#2aaab2" stroke-width="1.6"/>
<path d="M609.2,104.9 L617.0,102.0 L628.4,105.6 L636.2,107.0 L637.6,114.8" stroke="#2aaab2" stroke-width="1.6"/>
<path d="M609.2,104.9 L606.4,108.4 L605.7,119.8 L610.6,120.5" stroke="#2aaab2" stroke-width="1.6"/>
<path d="M605.7,119.8 L602.1,129.0" stroke="#2aaab2" stroke-width="1.6"/>
<path d="M595.0,114.0 L602.1,117.0 L605.7,119.8" stroke="#2aaab2" stroke-width="1.6"/>
<path d="M582.8,112.0 L598.7,115.8 L603.0,120.2 L602.0,130.0" stroke="#2aaab2" stroke-width="1.6"/>
<path d="M583.3,115.8 L580.0,127.8" stroke="#2aaab2" stroke-width="1.6"/>
<path d="M580.0,126.0 L574.0,125.0" stroke="#2aaab2" stroke-width="1.6"/>
<path d="M643.3,91.4 L642.6,98.5 L637.6,104.9" stroke="#2aaab2" stroke-width="1.6"/>
<path d="M659.2,81.5 L660.9,87.2 L651.0,89.7" stroke="#2aaab2" stroke-width="1.6"/>
<path d="M647.7,82.3 L664.2,81.5" stroke="#2aaab2" stroke-width="1.6"/>
<path d="M652.7,91.3 L658.4,101.2" stroke="#2aaab2" stroke-width="1.6"/>
<path d="M656.0,77.5 L662.0,76.0" stroke="#2aaab2" stroke-width="1.6"/>
<path d="M626.4,105.3 L618.2,102.0" stroke="#2aaab2" stroke-width="1.6"/>
<path d="M614.0,29.0 L618.0,22.0" stroke="#2aaab2" stroke-width="1.6"/>
<path d="M637.6,114.8 L640.0,118.0" stroke="#2aaab2" stroke-width="1.6"/>
<path d="M572.6,50.0 L592.7,71.6" stroke="#5fc6d2" stroke-width="4.6"/>
<path d="M572.6,64.0 L588.6,86.5" stroke="#5fc6d2" stroke-width="4.6"/>
<path d="M636.0,59.6 L656.1,77.5" stroke="#5fc6d2" stroke-width="5.0"/>
<path d="M619.8,73.3 L641.2,93.0" stroke="#5fc6d2" stroke-width="5.2"/>
<path d="M589.4,89.5 L584.0,115.6" stroke="#5fc6d2" stroke-width="3.8"/>
<path d="M604.7,82.7 L610.0,104.0" stroke="#5fc6d2" stroke-width="3.8"/>
<path d="M590.0,89.9 L583.3,115.8" stroke="#5fc6d2" stroke-width="3.6"/>
<path d="M583.4,42.6 L603.8,61.0" stroke="#23a3ab" stroke-width="5.4"/>
<path d="M613.7,29.1 L627.1,53.7" stroke="#1d9ea6" stroke-width="4.8"/>
</g>
<text x="568.00" y="25.60" font-size="6.4" text-anchor="middle" font-weight="normal" fill="#333" >C11</text>
<text x="605.60" y="23.80" font-size="6.4" text-anchor="middle" font-weight="normal" fill="#333" >G12</text>
<text x="557.20" y="51.20" font-size="6.4" text-anchor="middle" font-weight="normal" fill="#333" >U10</text>
<text x="561.80" y="73.20" font-size="6.4" text-anchor="middle" font-weight="normal" fill="#333" >U9</text>
<text x="574.40" y="101.80" font-size="6.4" text-anchor="middle" font-weight="normal" fill="#333" >A23</text>
<text x="597.40" y="109.00" font-size="6.4" text-anchor="middle" font-weight="normal" fill="#333" >C22</text>
<text x="651.50" y="109.00" font-size="6.4" text-anchor="middle" font-weight="normal" fill="#333" >C21</text>
<text x="669.60" y="90.40" font-size="6.4" text-anchor="middle" font-weight="normal" fill="#333" >C20</text>
<line x1="587.30" y1="345.40" x2="598.00" y2="351.60" stroke="#3a3a3a" stroke-width="0.75"/>
<line x1="588.03" y1="348.13" x2="595.27" y2="352.33" stroke="#3a3a3a" stroke-width="0.75"/>
<line x1="598.00" y1="351.60" x2="598.00" y2="364.20" stroke="#3a3a3a" stroke-width="0.75"/>
<line x1="598.00" y1="364.20" x2="587.30" y2="370.40" stroke="#3a3a3a" stroke-width="0.75"/>
<line x1="595.27" y1="363.47" x2="588.03" y2="367.67" stroke="#3a3a3a" stroke-width="0.75"/>
<line x1="587.30" y1="370.40" x2="576.60" y2="364.20" stroke="#3a3a3a" stroke-width="0.75"/>
<line x1="576.60" y1="364.20" x2="576.60" y2="351.60" stroke="#3a3a3a" stroke-width="0.75"/>
<line x1="578.60" y1="362.20" x2="578.60" y2="353.60" stroke="#3a3a3a" stroke-width="0.75"/>
<line x1="576.60" y1="351.60" x2="587.30" y2="345.40" stroke="#3a3a3a" stroke-width="0.75"/>
<line x1="598.00" y1="351.60" x2="609.30" y2="345.40" stroke="#3a3a3a" stroke-width="0.75"/>
<line x1="609.30" y1="345.40" x2="620.40" y2="351.60" stroke="#3a3a3a" stroke-width="0.75"/>
<line x1="610.07" y1="348.12" x2="617.68" y2="352.37" stroke="#3a3a3a" stroke-width="0.75"/>
<line x1="620.40" y1="351.60" x2="620.40" y2="364.40" stroke="#3a3a3a" stroke-width="0.75"/>
<line x1="620.40" y1="364.40" x2="611.29" y2="369.87" stroke="#3a3a3a" stroke-width="0.75"/>
<line x1="617.66" y1="363.71" x2="611.97" y2="367.12" stroke="#3a3a3a" stroke-width="0.75"/>
<line x1="607.51" y1="369.87" x2="598.00" y2="364.20" stroke="#3a3a3a" stroke-width="0.75"/>
<line x1="620.40" y1="351.60" x2="633.20" y2="347.60" stroke="#3a3a3a" stroke-width="0.75"/>
<line x1="633.20" y1="347.60" x2="639.01" y2="355.62" stroke="#3a3a3a" stroke-width="0.75"/>
<line x1="639.05" y1="359.21" x2="632.80" y2="368.20" stroke="#3a3a3a" stroke-width="0.75"/>
<line x1="632.80" y1="368.20" x2="620.40" y2="364.40" stroke="#3a3a3a" stroke-width="0.75"/>
<line x1="642.50" y1="357.40" x2="653.10" y2="357.40" stroke="#3a3a3a" stroke-width="0.75"/>
<line x1="653.10" y1="357.40" x2="659.60" y2="368.60" stroke="#3a3a3a" stroke-width="0.75"/>
<line x1="659.60" y1="368.60" x2="653.90" y2="380.20" stroke="#3a3a3a" stroke-width="0.75"/>
<line x1="656.92" y1="369.51" x2="652.99" y2="377.52" stroke="#3a3a3a" stroke-width="0.75"/>
<line x1="653.90" y1="380.20" x2="640.70" y2="380.20" stroke="#3a3a3a" stroke-width="0.75"/>
<line x1="640.70" y1="380.20" x2="632.80" y2="368.20" stroke="#3a3a3a" stroke-width="0.75"/>
<line x1="641.27" y1="377.43" x2="635.57" y2="368.77" stroke="#3a3a3a" stroke-width="0.75"/>
<line x1="652.31" y1="356.97" x2="656.85" y2="348.72" stroke="#3a3a3a" stroke-width="0.75"/>
<line x1="653.89" y1="357.83" x2="658.42" y2="349.59" stroke="#3a3a3a" stroke-width="0.75"/>
<text x="659.60" y="347.62" font-size="5.6" text-anchor="middle" font-weight="normal" fill="#2a2a2a" >O</text>
<line x1="659.60" y1="368.60" x2="672.30" y2="368.80" stroke="#3a3a3a" stroke-width="0.75"/>
<line x1="672.30" y1="368.80" x2="677.71" y2="378.29" stroke="#3a3a3a" stroke-width="0.75"/>
<line x1="677.83" y1="382.17" x2="673.40" y2="391.20" stroke="#3a3a3a" stroke-width="0.75"/>
<line x1="673.40" y1="391.20" x2="660.30" y2="391.20" stroke="#3a3a3a" stroke-width="0.75"/>
<line x1="660.30" y1="391.20" x2="653.90" y2="380.20" stroke="#3a3a3a" stroke-width="0.75"/>
<line x1="674.19" y1="390.77" x2="678.55" y2="398.84" stroke="#3a3a3a" stroke-width="0.75"/>
<line x1="672.61" y1="391.63" x2="676.96" y2="399.69" stroke="#3a3a3a" stroke-width="0.75"/>
<text x="679.40" y="405.02" font-size="5.6" text-anchor="middle" font-weight="normal" fill="#2a2a2a" >O</text>
<text x="679.00" y="382.22" font-size="5.6" text-anchor="middle" font-weight="normal" fill="#2a2a2a" >O</text>
<text x="609.40" y="373.22" font-size="5.6" text-anchor="middle" font-weight="normal" fill="#2a2a2a" >N</text>
<text x="640.30" y="359.62" font-size="5.6" text-anchor="middle" font-weight="normal" fill="#2a2a2a" >N</text>
<line x1="609.30" y1="345.40" x2="609.30" y2="332.20" stroke="#3a3a3a" stroke-width="0.75"/>
<line x1="609.30" y1="332.20" x2="602.00" y2="327.40" stroke="#3a3a3a" stroke-width="0.75"/>
<text x="597.6" y="328.2" font-size="5.2" text-anchor="middle" fill="#2a2a2a">H<tspan font-size="3.6" dy="1.2">3</tspan><tspan dy="-1.2">C</tspan></text>
<line x1="660.30" y1="389.40" x2="660.30" y2="393.00" stroke="#3a3a3a" stroke-width="0.55"/>
<line x1="658.13" y1="389.65" x2="658.13" y2="392.75" stroke="#3a3a3a" stroke-width="0.55"/>
<line x1="655.97" y1="389.90" x2="655.97" y2="392.50" stroke="#3a3a3a" stroke-width="0.55"/>
<line x1="653.80" y1="390.15" x2="653.80" y2="392.25" stroke="#3a3a3a" stroke-width="0.55"/>
<line x1="651.63" y1="390.40" x2="651.63" y2="392.00" stroke="#3a3a3a" stroke-width="0.55"/>
<line x1="649.47" y1="390.65" x2="649.47" y2="391.75" stroke="#3a3a3a" stroke-width="0.55"/>
<line x1="647.30" y1="390.90" x2="647.30" y2="391.50" stroke="#3a3a3a" stroke-width="0.55"/>
<line x1="647.30" y1="391.20" x2="640.00" y2="400.40" stroke="#3a3a3a" stroke-width="0.75"/>
<text x="637.0" y="405.0" font-size="5.2" text-anchor="middle" fill="#2a2a2a">H<tspan font-size="3.6" dy="1.2">3</tspan><tspan dy="-1.2">C</tspan></text>
<path d="M660.00,391.20 L660.60,391.20 L661.60,400.2 L659.00,400.2 Z" fill="#111"/>
<text x="661.60" y="406.67" font-size="5.2" text-anchor="middle" font-weight="normal" fill="#2a2a2a" >OH</text>
<line x1="576.60" y1="351.60" x2="567.34" y2="346.38" stroke="#3a3a3a" stroke-width="0.75"/>
<line x1="563.86" y1="346.39" x2="554.30" y2="351.80" stroke="#3a3a3a" stroke-width="0.75"/>
<line x1="553.86" y1="352.58" x2="544.47" y2="347.27" stroke="#3a3a3a" stroke-width="0.75"/>
<line x1="554.74" y1="351.02" x2="545.36" y2="345.70" stroke="#3a3a3a" stroke-width="0.75"/>
<line x1="554.30" y1="351.80" x2="554.30" y2="362.00" stroke="#3a3a3a" stroke-width="0.75"/>
<text x="565.60" y="347.42" font-size="5.6" text-anchor="middle" font-weight="normal" fill="#2a2a2a" >O</text>
<text x="542.60" y="347.02" font-size="5.6" text-anchor="middle" font-weight="normal" fill="#2a2a2a" >O</text>
<text x="554.30" y="366.42" font-size="5.6" text-anchor="middle" font-weight="normal" fill="#2a2a2a" >N</text>
<line x1="552.40" y1="365.30" x2="542.90" y2="370.80" stroke="#3a3a3a" stroke-width="0.75"/>
<line x1="542.90" y1="370.80" x2="542.90" y2="383.60" stroke="#3a3a3a" stroke-width="0.75"/>
<line x1="542.90" y1="383.60" x2="554.30" y2="390.20" stroke="#3a3a3a" stroke-width="0.75"/>
<line x1="554.30" y1="390.20" x2="565.60" y2="383.60" stroke="#3a3a3a" stroke-width="0.75"/>
<line x1="565.60" y1="383.60" x2="565.60" y2="370.80" stroke="#3a3a3a" stroke-width="0.75"/>
<line x1="565.60" y1="370.80" x2="556.20" y2="365.31" stroke="#3a3a3a" stroke-width="0.75"/>
<line x1="554.30" y1="390.20" x2="554.30" y2="400.20" stroke="#3a3a3a" stroke-width="0.75"/>
<text x="554.30" y="404.62" font-size="5.6" text-anchor="middle" font-weight="normal" fill="#2a2a2a" >N</text>
<line x1="552.40" y1="403.50" x2="542.90" y2="409.00" stroke="#3a3a3a" stroke-width="0.75"/>
<line x1="542.90" y1="409.00" x2="542.90" y2="422.00" stroke="#3a3a3a" stroke-width="0.75"/>
<line x1="542.90" y1="422.00" x2="554.30" y2="428.60" stroke="#3a3a3a" stroke-width="0.75"/>
<line x1="554.30" y1="428.60" x2="565.60" y2="422.00" stroke="#3a3a3a" stroke-width="0.75"/>
<line x1="565.60" y1="422.00" x2="565.60" y2="409.00" stroke="#3a3a3a" stroke-width="0.75"/>
<line x1="565.60" y1="409.00" x2="556.20" y2="403.51" stroke="#3a3a3a" stroke-width="0.75"/>
<text x="598.90" y="402.80" font-size="5.2" text-anchor="middle" font-weight="normal" fill="#2a2a2a" >HCl</text>
<text x="580.2" y="420.3" font-size="5.2" text-anchor="middle" fill="#2a2a2a">H<tspan font-size="3.6" dy="1.2">2</tspan><tspan dy="-1.2">O</tspan></text>
<text x="601.5" y="420.3" font-size="5.2" text-anchor="middle" fill="#2a2a2a">H<tspan font-size="3.6" dy="1.2">2</tspan><tspan dy="-1.2">O</tspan></text>
<text x="620.8" y="420.3" font-size="5.2" text-anchor="middle" fill="#2a2a2a">H<tspan font-size="3.6" dy="1.2">2</tspan><tspan dy="-1.2">O</tspan></text>
<text x="538.70" y="445.20" font-size="7.4" text-anchor="start" font-weight="normal" fill="#231f20" textLength="137.3" lengthAdjust="spacingAndGlyphs">Irinotecan hydrochloride trihydrate (IHT)</text>
</svg>
</body></html>
